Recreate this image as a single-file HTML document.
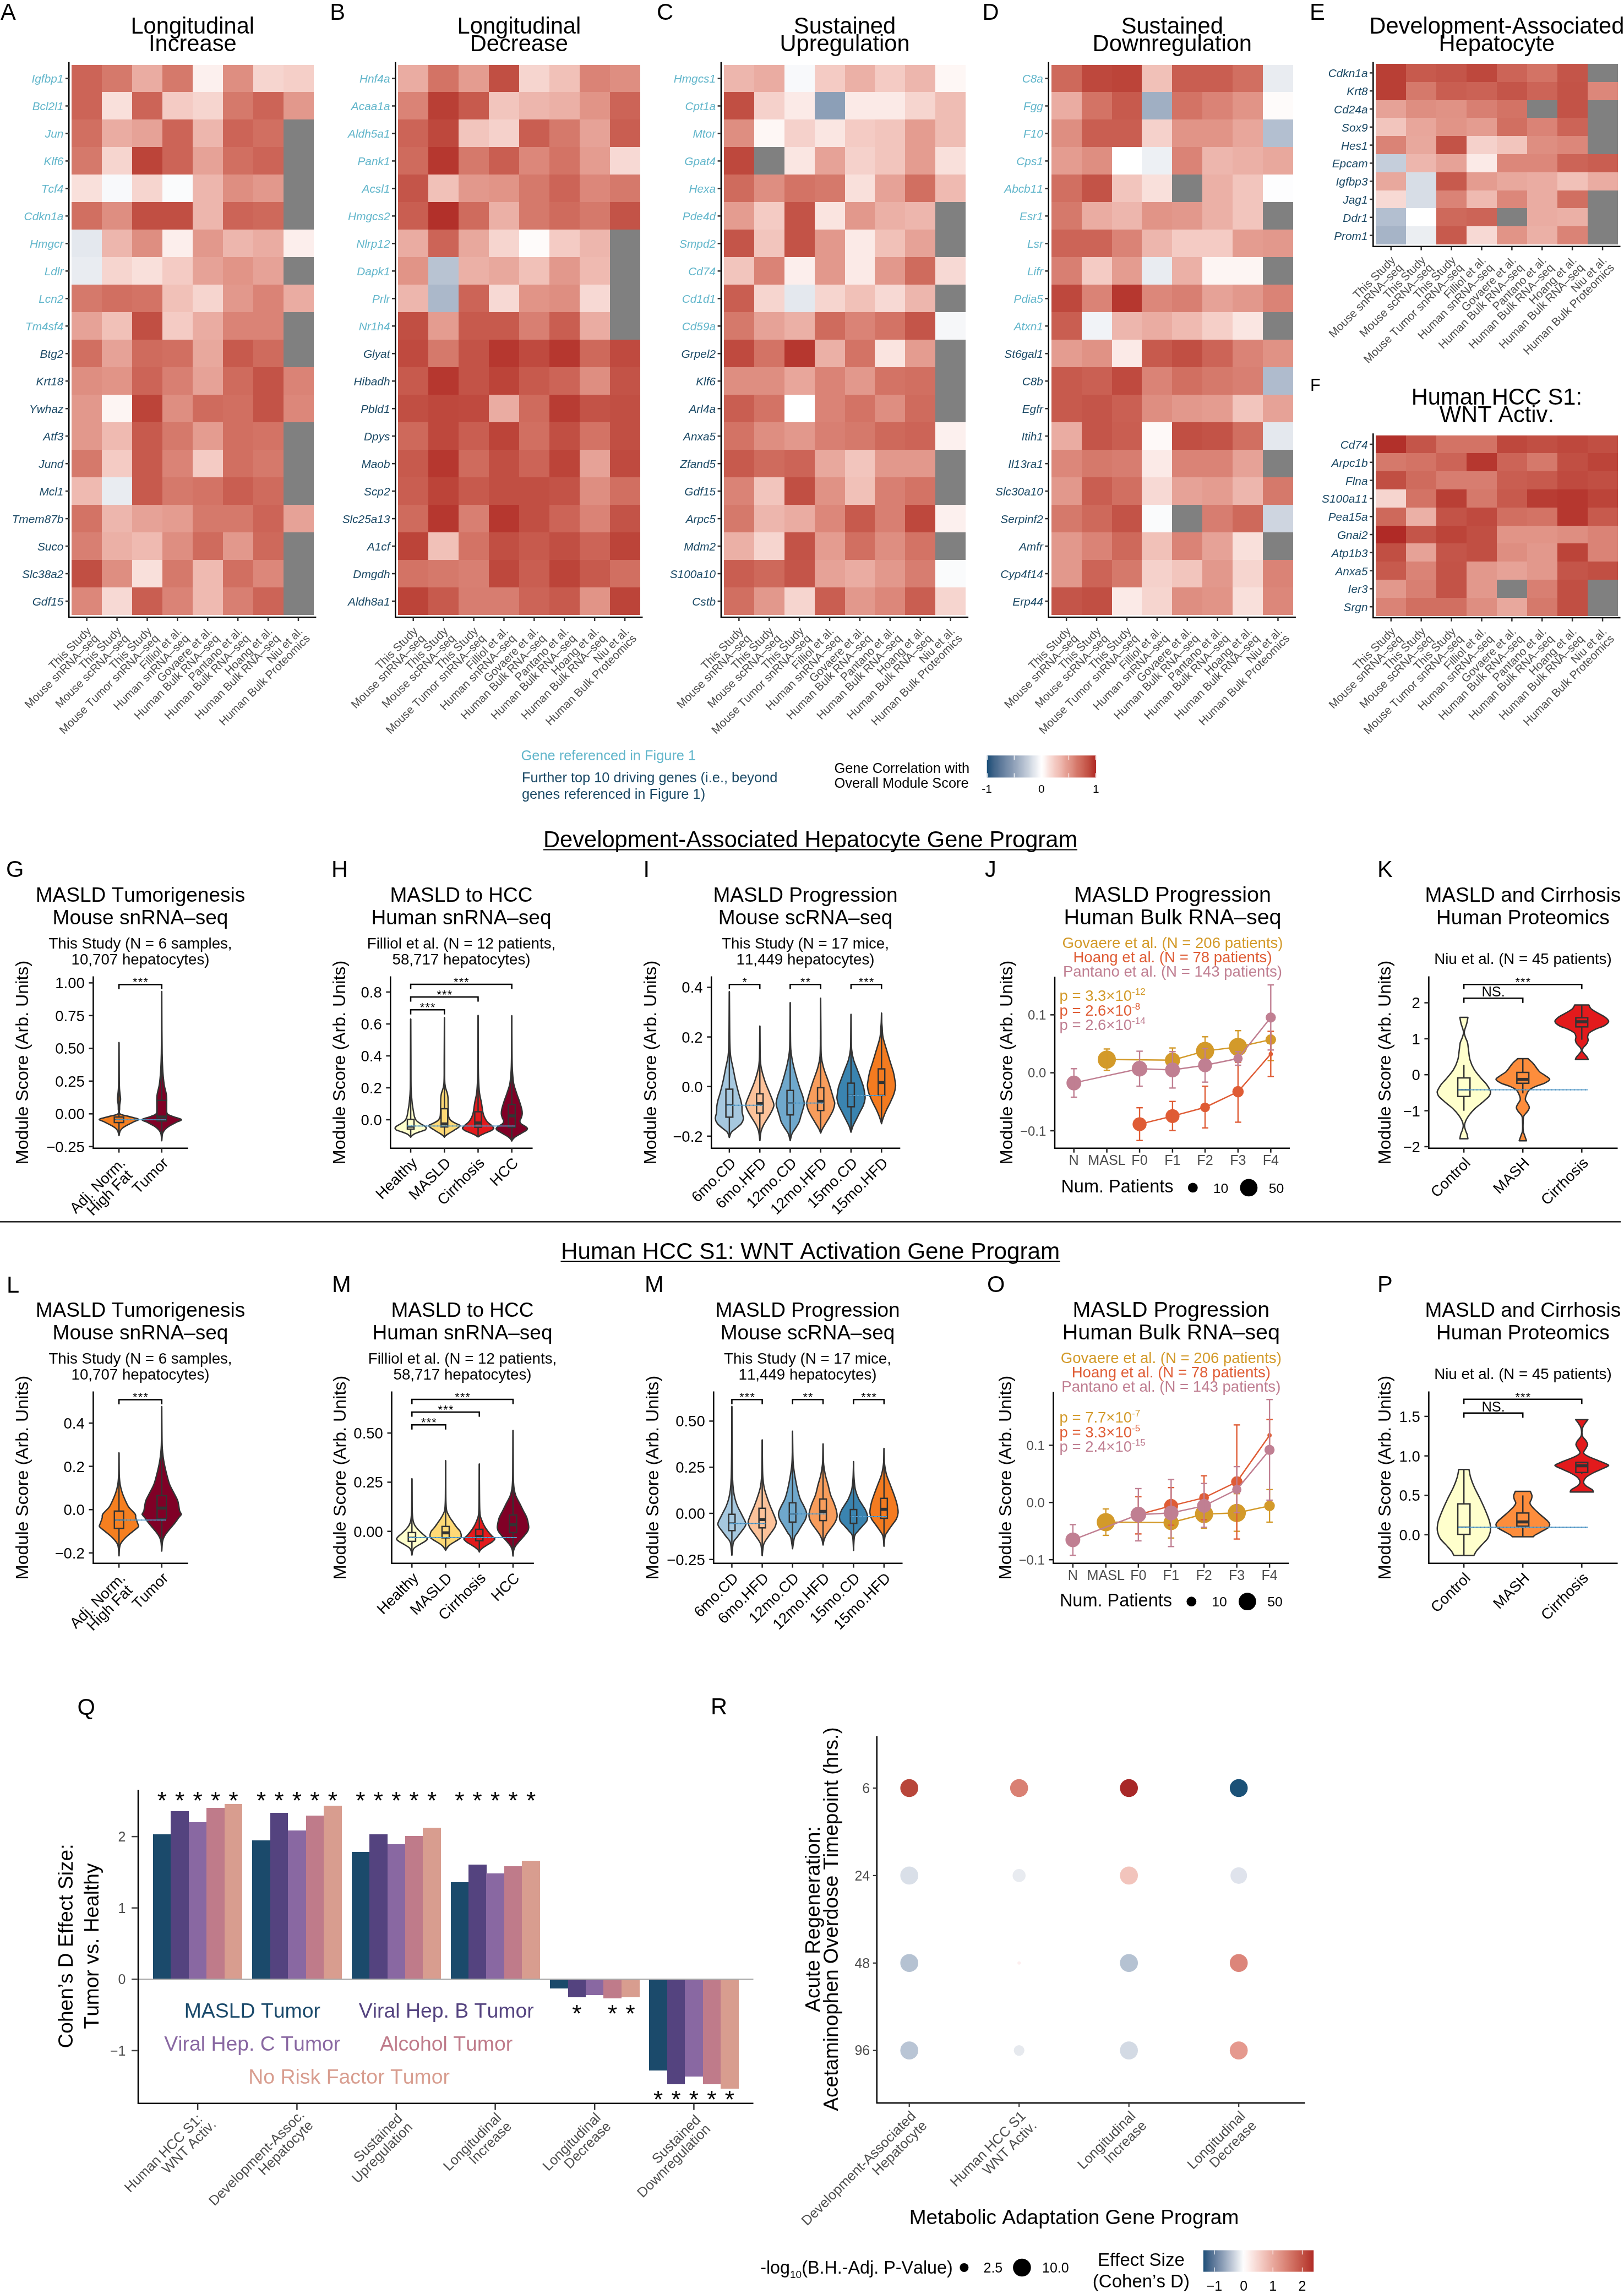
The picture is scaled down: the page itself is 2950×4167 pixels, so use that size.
<!DOCTYPE html>
<html><head><meta charset="utf-8"><title>Figure</title>
<style>
html,body{margin:0;padding:0;background:#fff;}
body{width:2950px;height:4167px;overflow:hidden;}
svg{display:block;font-family:"Liberation Sans",sans-serif;will-change:transform;font-kerning:none;}
</style></head><body>
<svg width="2950" height="4167" viewBox="0 0 2950 4167">
<rect width="2950" height="4167" fill="#fff"/>
<g shape-rendering="crispEdges">
<rect x="130.2" y="117.5" width="55.2" height="50.27" fill="#cc6457"/>
<rect x="185.1" y="117.5" width="55.2" height="50.27" fill="#d5796b"/>
<rect x="240" y="117.5" width="55.2" height="50.27" fill="#eaaca2"/>
<rect x="294.9" y="117.5" width="55.2" height="50.27" fill="#d5796b"/>
<rect x="349.8" y="117.5" width="55.2" height="50.27" fill="#fcf0ee"/>
<rect x="404.7" y="117.5" width="55.2" height="50.27" fill="#de8e81"/>
<rect x="459.6" y="117.5" width="55.2" height="50.27" fill="#f6d5cf"/>
<rect x="514.5" y="117.5" width="55.2" height="50.27" fill="#f5cfc8"/>
<rect x="130.2" y="167.47" width="55.2" height="50.27" fill="#cc6457"/>
<rect x="185.1" y="167.47" width="55.2" height="50.27" fill="#f9e0db"/>
<rect x="240" y="167.47" width="55.2" height="50.27" fill="#cc6457"/>
<rect x="294.9" y="167.47" width="55.2" height="50.27" fill="#f4cbc4"/>
<rect x="349.8" y="167.47" width="55.2" height="50.27" fill="#f6d5cf"/>
<rect x="404.7" y="167.47" width="55.2" height="50.27" fill="#d5796b"/>
<rect x="459.6" y="167.47" width="55.2" height="50.27" fill="#cc6457"/>
<rect x="514.5" y="167.47" width="55.2" height="50.27" fill="#e2988c"/>
<rect x="130.2" y="217.45" width="55.2" height="50.28" fill="#d16f61"/>
<rect x="185.1" y="217.45" width="55.2" height="50.28" fill="#eaaca2"/>
<rect x="240" y="217.45" width="55.2" height="50.28" fill="#e6a297"/>
<rect x="294.9" y="217.45" width="55.2" height="50.28" fill="#cc6457"/>
<rect x="349.8" y="217.45" width="55.2" height="50.28" fill="#edb6ad"/>
<rect x="404.7" y="217.45" width="55.2" height="50.28" fill="#cc6457"/>
<rect x="459.6" y="217.45" width="55.2" height="50.28" fill="#d16f61"/>
<rect x="514.5" y="217.45" width="55.2" height="50.28" fill="#808080"/>
<rect x="130.2" y="267.43" width="55.2" height="50.27" fill="#d5796b"/>
<rect x="185.1" y="267.43" width="55.2" height="50.27" fill="#f6d5cf"/>
<rect x="240" y="267.43" width="55.2" height="50.27" fill="#bc4439"/>
<rect x="294.9" y="267.43" width="55.2" height="50.27" fill="#cc6457"/>
<rect x="349.8" y="267.43" width="55.2" height="50.27" fill="#e6a297"/>
<rect x="404.7" y="267.43" width="55.2" height="50.27" fill="#d16f61"/>
<rect x="459.6" y="267.43" width="55.2" height="50.27" fill="#cc6457"/>
<rect x="514.5" y="267.43" width="55.2" height="50.27" fill="#808080"/>
<rect x="130.2" y="317.4" width="55.2" height="50.28" fill="#f9e0db"/>
<rect x="185.1" y="317.4" width="55.2" height="50.28" fill="#f8f9fb"/>
<rect x="240" y="317.4" width="55.2" height="50.28" fill="#f6d5cf"/>
<rect x="294.9" y="317.4" width="55.2" height="50.28" fill="#fafbfc"/>
<rect x="349.8" y="317.4" width="55.2" height="50.28" fill="#edb6ad"/>
<rect x="404.7" y="317.4" width="55.2" height="50.28" fill="#de8e81"/>
<rect x="459.6" y="317.4" width="55.2" height="50.28" fill="#e2988c"/>
<rect x="514.5" y="317.4" width="55.2" height="50.28" fill="#808080"/>
<rect x="130.2" y="367.38" width="55.2" height="50.28" fill="#d16f61"/>
<rect x="185.1" y="367.38" width="55.2" height="50.28" fill="#de8e81"/>
<rect x="240" y="367.38" width="55.2" height="50.28" fill="#c14f43"/>
<rect x="294.9" y="367.38" width="55.2" height="50.28" fill="#c14f43"/>
<rect x="349.8" y="367.38" width="55.2" height="50.28" fill="#edb6ad"/>
<rect x="404.7" y="367.38" width="55.2" height="50.28" fill="#cc6457"/>
<rect x="459.6" y="367.38" width="55.2" height="50.28" fill="#ce695b"/>
<rect x="514.5" y="367.38" width="55.2" height="50.28" fill="#808080"/>
<rect x="130.2" y="417.35" width="55.2" height="50.27" fill="#e4e8ee"/>
<rect x="185.1" y="417.35" width="55.2" height="50.27" fill="#edb6ad"/>
<rect x="240" y="417.35" width="55.2" height="50.27" fill="#de8e81"/>
<rect x="294.9" y="417.35" width="55.2" height="50.27" fill="#fceeec"/>
<rect x="349.8" y="417.35" width="55.2" height="50.27" fill="#e2988c"/>
<rect x="404.7" y="417.35" width="55.2" height="50.27" fill="#edb6ad"/>
<rect x="459.6" y="417.35" width="55.2" height="50.27" fill="#eaaca2"/>
<rect x="514.5" y="417.35" width="55.2" height="50.27" fill="#fceeec"/>
<rect x="130.2" y="467.32" width="55.2" height="50.27" fill="#e9ecf1"/>
<rect x="185.1" y="467.32" width="55.2" height="50.27" fill="#f6d5cf"/>
<rect x="240" y="467.32" width="55.2" height="50.27" fill="#f9e0db"/>
<rect x="294.9" y="467.32" width="55.2" height="50.27" fill="#f4cbc4"/>
<rect x="349.8" y="467.32" width="55.2" height="50.27" fill="#e6a297"/>
<rect x="404.7" y="467.32" width="55.2" height="50.27" fill="#e19487"/>
<rect x="459.6" y="467.32" width="55.2" height="50.27" fill="#e6a297"/>
<rect x="514.5" y="467.32" width="55.2" height="50.27" fill="#808080"/>
<rect x="130.2" y="517.3" width="55.2" height="50.28" fill="#d5796b"/>
<rect x="185.1" y="517.3" width="55.2" height="50.28" fill="#d16f61"/>
<rect x="240" y="517.3" width="55.2" height="50.28" fill="#d37365"/>
<rect x="294.9" y="517.3" width="55.2" height="50.28" fill="#f1c1b8"/>
<rect x="349.8" y="517.3" width="55.2" height="50.28" fill="#f6d5cf"/>
<rect x="404.7" y="517.3" width="55.2" height="50.28" fill="#e2988c"/>
<rect x="459.6" y="517.3" width="55.2" height="50.28" fill="#da8376"/>
<rect x="514.5" y="517.3" width="55.2" height="50.28" fill="#eaaca2"/>
<rect x="130.2" y="567.28" width="55.2" height="50.27" fill="#e6a297"/>
<rect x="185.1" y="567.28" width="55.2" height="50.27" fill="#f1c1b8"/>
<rect x="240" y="567.28" width="55.2" height="50.27" fill="#c14f43"/>
<rect x="294.9" y="567.28" width="55.2" height="50.27" fill="#f4cbc4"/>
<rect x="349.8" y="567.28" width="55.2" height="50.27" fill="#eaaca2"/>
<rect x="404.7" y="567.28" width="55.2" height="50.27" fill="#da8376"/>
<rect x="459.6" y="567.28" width="55.2" height="50.27" fill="#da8376"/>
<rect x="514.5" y="567.28" width="55.2" height="50.27" fill="#808080"/>
<rect x="130.2" y="617.25" width="55.2" height="50.28" fill="#d16f61"/>
<rect x="185.1" y="617.25" width="55.2" height="50.28" fill="#e6a297"/>
<rect x="240" y="617.25" width="55.2" height="50.28" fill="#cf6b5d"/>
<rect x="294.9" y="617.25" width="55.2" height="50.28" fill="#d16f61"/>
<rect x="349.8" y="617.25" width="55.2" height="50.28" fill="#e8a89d"/>
<rect x="404.7" y="617.25" width="55.2" height="50.28" fill="#c75a4d"/>
<rect x="459.6" y="617.25" width="55.2" height="50.28" fill="#cf6b5d"/>
<rect x="514.5" y="617.25" width="55.2" height="50.28" fill="#808080"/>
<rect x="130.2" y="667.23" width="55.2" height="50.28" fill="#de8e81"/>
<rect x="185.1" y="667.23" width="55.2" height="50.28" fill="#e19487"/>
<rect x="240" y="667.23" width="55.2" height="50.28" fill="#cc6457"/>
<rect x="294.9" y="667.23" width="55.2" height="50.28" fill="#d87f72"/>
<rect x="349.8" y="667.23" width="55.2" height="50.28" fill="#e6a297"/>
<rect x="404.7" y="667.23" width="55.2" height="50.28" fill="#cf6b5d"/>
<rect x="459.6" y="667.23" width="55.2" height="50.28" fill="#c35347"/>
<rect x="514.5" y="667.23" width="55.2" height="50.28" fill="#da8376"/>
<rect x="130.2" y="717.2" width="55.2" height="50.28" fill="#e2988c"/>
<rect x="185.1" y="717.2" width="55.2" height="50.28" fill="#fdf5f3"/>
<rect x="240" y="717.2" width="55.2" height="50.28" fill="#bc4439"/>
<rect x="294.9" y="717.2" width="55.2" height="50.28" fill="#de8e81"/>
<rect x="349.8" y="717.2" width="55.2" height="50.28" fill="#cf6b5d"/>
<rect x="404.7" y="717.2" width="55.2" height="50.28" fill="#d16f61"/>
<rect x="459.6" y="717.2" width="55.2" height="50.28" fill="#c35347"/>
<rect x="514.5" y="717.2" width="55.2" height="50.28" fill="#dc877a"/>
<rect x="130.2" y="767.18" width="55.2" height="50.27" fill="#e2988c"/>
<rect x="185.1" y="767.18" width="55.2" height="50.27" fill="#efbab1"/>
<rect x="240" y="767.18" width="55.2" height="50.27" fill="#c75a4d"/>
<rect x="294.9" y="767.18" width="55.2" height="50.27" fill="#d5796b"/>
<rect x="349.8" y="767.18" width="55.2" height="50.27" fill="#e49c90"/>
<rect x="404.7" y="767.18" width="55.2" height="50.27" fill="#d16f61"/>
<rect x="459.6" y="767.18" width="55.2" height="50.27" fill="#d37365"/>
<rect x="514.5" y="767.18" width="55.2" height="50.27" fill="#808080"/>
<rect x="130.2" y="817.15" width="55.2" height="50.28" fill="#d5796b"/>
<rect x="185.1" y="817.15" width="55.2" height="50.28" fill="#f4cbc4"/>
<rect x="240" y="817.15" width="55.2" height="50.28" fill="#c75a4d"/>
<rect x="294.9" y="817.15" width="55.2" height="50.28" fill="#da8376"/>
<rect x="349.8" y="817.15" width="55.2" height="50.28" fill="#f4cbc4"/>
<rect x="404.7" y="817.15" width="55.2" height="50.28" fill="#d16f61"/>
<rect x="459.6" y="817.15" width="55.2" height="50.28" fill="#d5796b"/>
<rect x="514.5" y="817.15" width="55.2" height="50.28" fill="#808080"/>
<rect x="130.2" y="867.12" width="55.2" height="50.28" fill="#efbab1"/>
<rect x="185.1" y="867.12" width="55.2" height="50.28" fill="#e9ecf1"/>
<rect x="240" y="867.12" width="55.2" height="50.28" fill="#c75a4d"/>
<rect x="294.9" y="867.12" width="55.2" height="50.28" fill="#d5796b"/>
<rect x="349.8" y="867.12" width="55.2" height="50.28" fill="#d37365"/>
<rect x="404.7" y="867.12" width="55.2" height="50.28" fill="#c95e51"/>
<rect x="459.6" y="867.12" width="55.2" height="50.28" fill="#cf6b5d"/>
<rect x="514.5" y="867.12" width="55.2" height="50.28" fill="#808080"/>
<rect x="130.2" y="917.1" width="55.2" height="50.28" fill="#d37365"/>
<rect x="185.1" y="917.1" width="55.2" height="50.28" fill="#edb6ad"/>
<rect x="240" y="917.1" width="55.2" height="50.28" fill="#e6a297"/>
<rect x="294.9" y="917.1" width="55.2" height="50.28" fill="#e49c90"/>
<rect x="349.8" y="917.1" width="55.2" height="50.28" fill="#d5796b"/>
<rect x="404.7" y="917.1" width="55.2" height="50.28" fill="#d5796b"/>
<rect x="459.6" y="917.1" width="55.2" height="50.28" fill="#cc6457"/>
<rect x="514.5" y="917.1" width="55.2" height="50.28" fill="#e6a297"/>
<rect x="130.2" y="967.08" width="55.2" height="50.28" fill="#d87f72"/>
<rect x="185.1" y="967.08" width="55.2" height="50.28" fill="#ebb0a6"/>
<rect x="240" y="967.08" width="55.2" height="50.28" fill="#efbab1"/>
<rect x="294.9" y="967.08" width="55.2" height="50.28" fill="#de8e81"/>
<rect x="349.8" y="967.08" width="55.2" height="50.28" fill="#cf6b5d"/>
<rect x="404.7" y="967.08" width="55.2" height="50.28" fill="#e2988c"/>
<rect x="459.6" y="967.08" width="55.2" height="50.28" fill="#ce695b"/>
<rect x="514.5" y="967.08" width="55.2" height="50.28" fill="#808080"/>
<rect x="130.2" y="1017.05" width="55.2" height="50.28" fill="#c14f43"/>
<rect x="185.1" y="1017.05" width="55.2" height="50.28" fill="#de8e81"/>
<rect x="240" y="1017.05" width="55.2" height="50.28" fill="#f9e0db"/>
<rect x="294.9" y="1017.05" width="55.2" height="50.28" fill="#d5796b"/>
<rect x="349.8" y="1017.05" width="55.2" height="50.28" fill="#efbab1"/>
<rect x="404.7" y="1017.05" width="55.2" height="50.28" fill="#d16f61"/>
<rect x="459.6" y="1017.05" width="55.2" height="50.28" fill="#dc877a"/>
<rect x="514.5" y="1017.05" width="55.2" height="50.28" fill="#808080"/>
<rect x="130.2" y="1067.03" width="55.2" height="50.27" fill="#dc877a"/>
<rect x="185.1" y="1067.03" width="55.2" height="50.27" fill="#f7d9d4"/>
<rect x="240" y="1067.03" width="55.2" height="50.27" fill="#c95e51"/>
<rect x="294.9" y="1067.03" width="55.2" height="50.27" fill="#da8376"/>
<rect x="349.8" y="1067.03" width="55.2" height="50.27" fill="#efbab1"/>
<rect x="404.7" y="1067.03" width="55.2" height="50.27" fill="#d87f72"/>
<rect x="459.6" y="1067.03" width="55.2" height="50.27" fill="#cc6457"/>
<rect x="514.5" y="1067.03" width="55.2" height="50.27" fill="#808080"/>
</g>
<path d="M125.2 112.7 V1121.3 H574.4" fill="none" stroke="#000" stroke-width="2.5"/>
<line x1="118.9" y1="142.49" x2="125.2" y2="142.49" stroke="#333" stroke-width="2.5"/>
<text x="115.4" y="150.49" text-anchor="end" font-style="italic" fill="#62b6cb" font-size="20.83">Igfbp1</text>
<line x1="118.9" y1="192.46" x2="125.2" y2="192.46" stroke="#333" stroke-width="2.5"/>
<text x="115.4" y="200.46" text-anchor="end" font-style="italic" fill="#62b6cb" font-size="20.83">Bcl2l1</text>
<line x1="118.9" y1="242.44" x2="125.2" y2="242.44" stroke="#333" stroke-width="2.5"/>
<text x="115.4" y="250.44" text-anchor="end" font-style="italic" fill="#62b6cb" font-size="20.83">Jun</text>
<line x1="118.9" y1="292.41" x2="125.2" y2="292.41" stroke="#333" stroke-width="2.5"/>
<text x="115.4" y="300.41" text-anchor="end" font-style="italic" fill="#62b6cb" font-size="20.83">Klf6</text>
<line x1="118.9" y1="342.39" x2="125.2" y2="342.39" stroke="#333" stroke-width="2.5"/>
<text x="115.4" y="350.39" text-anchor="end" font-style="italic" fill="#62b6cb" font-size="20.83">Tcf4</text>
<line x1="118.9" y1="392.36" x2="125.2" y2="392.36" stroke="#333" stroke-width="2.5"/>
<text x="115.4" y="400.36" text-anchor="end" font-style="italic" fill="#62b6cb" font-size="20.83">Cdkn1a</text>
<line x1="118.9" y1="442.34" x2="125.2" y2="442.34" stroke="#333" stroke-width="2.5"/>
<text x="115.4" y="450.34" text-anchor="end" font-style="italic" fill="#62b6cb" font-size="20.83">Hmgcr</text>
<line x1="118.9" y1="492.31" x2="125.2" y2="492.31" stroke="#333" stroke-width="2.5"/>
<text x="115.4" y="500.31" text-anchor="end" font-style="italic" fill="#62b6cb" font-size="20.83">Ldlr</text>
<line x1="118.9" y1="542.29" x2="125.2" y2="542.29" stroke="#333" stroke-width="2.5"/>
<text x="115.4" y="550.29" text-anchor="end" font-style="italic" fill="#62b6cb" font-size="20.83">Lcn2</text>
<line x1="118.9" y1="592.26" x2="125.2" y2="592.26" stroke="#333" stroke-width="2.5"/>
<text x="115.4" y="600.26" text-anchor="end" font-style="italic" fill="#62b6cb" font-size="20.83">Tm4sf4</text>
<line x1="118.9" y1="642.24" x2="125.2" y2="642.24" stroke="#333" stroke-width="2.5"/>
<text x="115.4" y="650.24" text-anchor="end" font-style="italic" fill="#1b4965" font-size="20.83">Btg2</text>
<line x1="118.9" y1="692.21" x2="125.2" y2="692.21" stroke="#333" stroke-width="2.5"/>
<text x="115.4" y="700.21" text-anchor="end" font-style="italic" fill="#1b4965" font-size="20.83">Krt18</text>
<line x1="118.9" y1="742.19" x2="125.2" y2="742.19" stroke="#333" stroke-width="2.5"/>
<text x="115.4" y="750.19" text-anchor="end" font-style="italic" fill="#1b4965" font-size="20.83">Ywhaz</text>
<line x1="118.9" y1="792.16" x2="125.2" y2="792.16" stroke="#333" stroke-width="2.5"/>
<text x="115.4" y="800.16" text-anchor="end" font-style="italic" fill="#1b4965" font-size="20.83">Atf3</text>
<line x1="118.9" y1="842.14" x2="125.2" y2="842.14" stroke="#333" stroke-width="2.5"/>
<text x="115.4" y="850.14" text-anchor="end" font-style="italic" fill="#1b4965" font-size="20.83">Jund</text>
<line x1="118.9" y1="892.11" x2="125.2" y2="892.11" stroke="#333" stroke-width="2.5"/>
<text x="115.4" y="900.11" text-anchor="end" font-style="italic" fill="#1b4965" font-size="20.83">Mcl1</text>
<line x1="118.9" y1="942.09" x2="125.2" y2="942.09" stroke="#333" stroke-width="2.5"/>
<text x="115.4" y="950.09" text-anchor="end" font-style="italic" fill="#1b4965" font-size="20.83">Tmem87b</text>
<line x1="118.9" y1="992.06" x2="125.2" y2="992.06" stroke="#333" stroke-width="2.5"/>
<text x="115.4" y="1000.06" text-anchor="end" font-style="italic" fill="#1b4965" font-size="20.83">Suco</text>
<line x1="118.9" y1="1042.04" x2="125.2" y2="1042.04" stroke="#333" stroke-width="2.5"/>
<text x="115.4" y="1050.04" text-anchor="end" font-style="italic" fill="#1b4965" font-size="20.83">Slc38a2</text>
<line x1="118.9" y1="1092.01" x2="125.2" y2="1092.01" stroke="#333" stroke-width="2.5"/>
<text x="115.4" y="1100.01" text-anchor="end" font-style="italic" fill="#1b4965" font-size="20.83">Gdf15</text>
<line x1="157.65" y1="1121.3" x2="157.65" y2="1128.1" stroke="#333" stroke-width="2.5"/>
<g transform="translate(155.45,1136.4) rotate(-45)" fill="#4d4d4d" font-size="20.83" text-anchor="end"><text x="0" y="16">This Study</text><text x="0" y="34.8">Mouse snRNA–seq</text></g>
<line x1="212.55" y1="1121.3" x2="212.55" y2="1128.1" stroke="#333" stroke-width="2.5"/>
<g transform="translate(210.35,1136.4) rotate(-45)" fill="#4d4d4d" font-size="20.83" text-anchor="end"><text x="0" y="16">This Study</text><text x="0" y="34.8">Mouse scRNA–seq</text></g>
<line x1="267.45" y1="1121.3" x2="267.45" y2="1128.1" stroke="#333" stroke-width="2.5"/>
<g transform="translate(265.25,1136.4) rotate(-45)" fill="#4d4d4d" font-size="20.83" text-anchor="end"><text x="0" y="16">This Study</text><text x="0" y="34.8">Mouse Tumor snRNA–seq</text></g>
<line x1="322.35" y1="1121.3" x2="322.35" y2="1128.1" stroke="#333" stroke-width="2.5"/>
<g transform="translate(320.15,1136.4) rotate(-45)" fill="#4d4d4d" font-size="20.83" text-anchor="end"><text x="0" y="16">Filliol et al.</text><text x="0" y="34.8">Human snRNA–seq</text></g>
<line x1="377.25" y1="1121.3" x2="377.25" y2="1128.1" stroke="#333" stroke-width="2.5"/>
<g transform="translate(375.05,1136.4) rotate(-45)" fill="#4d4d4d" font-size="20.83" text-anchor="end"><text x="0" y="16">Govaere et al.</text><text x="0" y="34.8">Human Bulk RNA–seq</text></g>
<line x1="432.15" y1="1121.3" x2="432.15" y2="1128.1" stroke="#333" stroke-width="2.5"/>
<g transform="translate(429.95,1136.4) rotate(-45)" fill="#4d4d4d" font-size="20.83" text-anchor="end"><text x="0" y="16">Pantano et al.</text><text x="0" y="34.8">Human Bulk RNA–seq</text></g>
<line x1="487.05" y1="1121.3" x2="487.05" y2="1128.1" stroke="#333" stroke-width="2.5"/>
<g transform="translate(484.85,1136.4) rotate(-45)" fill="#4d4d4d" font-size="20.83" text-anchor="end"><text x="0" y="16">Hoang et al.</text><text x="0" y="34.8">Human Bulk RNA–seq</text></g>
<line x1="541.95" y1="1121.3" x2="541.95" y2="1128.1" stroke="#333" stroke-width="2.5"/>
<g transform="translate(539.75,1136.4) rotate(-45)" fill="#4d4d4d" font-size="20.83" text-anchor="end"><text x="0" y="16">Niu et al.</text><text x="0" y="34.8">Human Bulk Proteomics</text></g>
<text x="349.8" y="60.5" text-anchor="middle" font-size="41.67">Longitudinal</text>
<text x="349.8" y="93" text-anchor="middle" font-size="41.67">Increase</text>
<text x="1" y="35.5" font-size="41.67">A</text>
<g shape-rendering="crispEdges">
<rect x="723.3" y="117.5" width="55.2" height="50.27" fill="#eaaca2"/>
<rect x="778.2" y="117.5" width="55.2" height="50.27" fill="#d37365"/>
<rect x="833.1" y="117.5" width="55.2" height="50.27" fill="#e49c90"/>
<rect x="888" y="117.5" width="55.2" height="50.27" fill="#c14f43"/>
<rect x="942.9" y="117.5" width="55.2" height="50.27" fill="#f6d5cf"/>
<rect x="997.8" y="117.5" width="55.2" height="50.27" fill="#f1c1b8"/>
<rect x="1052.7" y="117.5" width="55.2" height="50.27" fill="#da8376"/>
<rect x="1107.6" y="117.5" width="55.2" height="50.27" fill="#de8e81"/>
<rect x="723.3" y="167.47" width="55.2" height="50.27" fill="#da8376"/>
<rect x="778.2" y="167.47" width="55.2" height="50.27" fill="#b93f35"/>
<rect x="833.1" y="167.47" width="55.2" height="50.27" fill="#c75a4d"/>
<rect x="888" y="167.47" width="55.2" height="50.27" fill="#f2c5bd"/>
<rect x="942.9" y="167.47" width="55.2" height="50.27" fill="#edb6ad"/>
<rect x="997.8" y="167.47" width="55.2" height="50.27" fill="#ebb0a6"/>
<rect x="1052.7" y="167.47" width="55.2" height="50.27" fill="#e19487"/>
<rect x="1107.6" y="167.47" width="55.2" height="50.27" fill="#cc6457"/>
<rect x="723.3" y="217.45" width="55.2" height="50.28" fill="#cc6457"/>
<rect x="778.2" y="217.45" width="55.2" height="50.28" fill="#be483d"/>
<rect x="833.1" y="217.45" width="55.2" height="50.28" fill="#f2c5bd"/>
<rect x="888" y="217.45" width="55.2" height="50.28" fill="#f5d1cb"/>
<rect x="942.9" y="217.45" width="55.2" height="50.28" fill="#c95e51"/>
<rect x="997.8" y="217.45" width="55.2" height="50.28" fill="#d5796b"/>
<rect x="1052.7" y="217.45" width="55.2" height="50.28" fill="#e6a297"/>
<rect x="1107.6" y="217.45" width="55.2" height="50.28" fill="#c95e51"/>
<rect x="723.3" y="267.43" width="55.2" height="50.27" fill="#cf6b5d"/>
<rect x="778.2" y="267.43" width="55.2" height="50.27" fill="#b6372f"/>
<rect x="833.1" y="267.43" width="55.2" height="50.27" fill="#d5796b"/>
<rect x="888" y="267.43" width="55.2" height="50.27" fill="#c95e51"/>
<rect x="942.9" y="267.43" width="55.2" height="50.27" fill="#dc877a"/>
<rect x="997.8" y="267.43" width="55.2" height="50.27" fill="#d37365"/>
<rect x="1052.7" y="267.43" width="55.2" height="50.27" fill="#e49c90"/>
<rect x="1107.6" y="267.43" width="55.2" height="50.27" fill="#f7d9d4"/>
<rect x="723.3" y="317.4" width="55.2" height="50.28" fill="#c45549"/>
<rect x="778.2" y="317.4" width="55.2" height="50.28" fill="#f1c1b8"/>
<rect x="833.1" y="317.4" width="55.2" height="50.28" fill="#e2988c"/>
<rect x="888" y="317.4" width="55.2" height="50.28" fill="#e19487"/>
<rect x="942.9" y="317.4" width="55.2" height="50.28" fill="#d5796b"/>
<rect x="997.8" y="317.4" width="55.2" height="50.28" fill="#cc6457"/>
<rect x="1052.7" y="317.4" width="55.2" height="50.28" fill="#dc877a"/>
<rect x="1107.6" y="317.4" width="55.2" height="50.28" fill="#d5796b"/>
<rect x="723.3" y="367.38" width="55.2" height="50.28" fill="#c95e51"/>
<rect x="778.2" y="367.38" width="55.2" height="50.28" fill="#b2302a"/>
<rect x="833.1" y="367.38" width="55.2" height="50.28" fill="#cf6b5d"/>
<rect x="888" y="367.38" width="55.2" height="50.28" fill="#ebb0a6"/>
<rect x="942.9" y="367.38" width="55.2" height="50.28" fill="#d5796b"/>
<rect x="997.8" y="367.38" width="55.2" height="50.28" fill="#cf6b5d"/>
<rect x="1052.7" y="367.38" width="55.2" height="50.28" fill="#d5796b"/>
<rect x="1107.6" y="367.38" width="55.2" height="50.28" fill="#c35347"/>
<rect x="723.3" y="417.35" width="55.2" height="50.27" fill="#eaaca2"/>
<rect x="778.2" y="417.35" width="55.2" height="50.27" fill="#cc6457"/>
<rect x="833.1" y="417.35" width="55.2" height="50.27" fill="#e8a89d"/>
<rect x="888" y="417.35" width="55.2" height="50.27" fill="#f6d5cf"/>
<rect x="942.9" y="417.35" width="55.2" height="50.27" fill="#fefbfa"/>
<rect x="997.8" y="417.35" width="55.2" height="50.27" fill="#f4cbc4"/>
<rect x="1052.7" y="417.35" width="55.2" height="50.27" fill="#edb6ad"/>
<rect x="1107.6" y="417.35" width="55.2" height="50.27" fill="#808080"/>
<rect x="723.3" y="467.32" width="55.2" height="50.27" fill="#e19487"/>
<rect x="778.2" y="467.32" width="55.2" height="50.27" fill="#b8c3d2"/>
<rect x="833.1" y="467.32" width="55.2" height="50.27" fill="#ebb0a6"/>
<rect x="888" y="467.32" width="55.2" height="50.27" fill="#e8a89d"/>
<rect x="942.9" y="467.32" width="55.2" height="50.27" fill="#f1c1b8"/>
<rect x="997.8" y="467.32" width="55.2" height="50.27" fill="#e2988c"/>
<rect x="1052.7" y="467.32" width="55.2" height="50.27" fill="#efbab1"/>
<rect x="1107.6" y="467.32" width="55.2" height="50.27" fill="#808080"/>
<rect x="723.3" y="517.3" width="55.2" height="50.28" fill="#edb6ad"/>
<rect x="778.2" y="517.3" width="55.2" height="50.28" fill="#abb8ca"/>
<rect x="833.1" y="517.3" width="55.2" height="50.28" fill="#cc6457"/>
<rect x="888" y="517.3" width="55.2" height="50.28" fill="#f7d9d4"/>
<rect x="942.9" y="517.3" width="55.2" height="50.28" fill="#e19487"/>
<rect x="997.8" y="517.3" width="55.2" height="50.28" fill="#de8e81"/>
<rect x="1052.7" y="517.3" width="55.2" height="50.28" fill="#f7d9d4"/>
<rect x="1107.6" y="517.3" width="55.2" height="50.28" fill="#808080"/>
<rect x="723.3" y="567.28" width="55.2" height="50.27" fill="#c14f43"/>
<rect x="778.2" y="567.28" width="55.2" height="50.27" fill="#e49c90"/>
<rect x="833.1" y="567.28" width="55.2" height="50.27" fill="#c75a4d"/>
<rect x="888" y="567.28" width="55.2" height="50.27" fill="#c75a4d"/>
<rect x="942.9" y="567.28" width="55.2" height="50.27" fill="#d87f72"/>
<rect x="997.8" y="567.28" width="55.2" height="50.27" fill="#c95e51"/>
<rect x="1052.7" y="567.28" width="55.2" height="50.27" fill="#eaaca2"/>
<rect x="1107.6" y="567.28" width="55.2" height="50.27" fill="#808080"/>
<rect x="723.3" y="617.25" width="55.2" height="50.28" fill="#bf4a3f"/>
<rect x="778.2" y="617.25" width="55.2" height="50.28" fill="#d5796b"/>
<rect x="833.1" y="617.25" width="55.2" height="50.28" fill="#c35347"/>
<rect x="888" y="617.25" width="55.2" height="50.28" fill="#b6372f"/>
<rect x="942.9" y="617.25" width="55.2" height="50.28" fill="#bf4a3f"/>
<rect x="997.8" y="617.25" width="55.2" height="50.28" fill="#b6372f"/>
<rect x="1052.7" y="617.25" width="55.2" height="50.28" fill="#ce695b"/>
<rect x="1107.6" y="617.25" width="55.2" height="50.28" fill="#bf4a3f"/>
<rect x="723.3" y="667.23" width="55.2" height="50.28" fill="#c75a4d"/>
<rect x="778.2" y="667.23" width="55.2" height="50.28" fill="#b6372f"/>
<rect x="833.1" y="667.23" width="55.2" height="50.28" fill="#c35347"/>
<rect x="888" y="667.23" width="55.2" height="50.28" fill="#bc4439"/>
<rect x="942.9" y="667.23" width="55.2" height="50.28" fill="#c75a4d"/>
<rect x="997.8" y="667.23" width="55.2" height="50.28" fill="#cc6457"/>
<rect x="1052.7" y="667.23" width="55.2" height="50.28" fill="#de8e81"/>
<rect x="1107.6" y="667.23" width="55.2" height="50.28" fill="#c35347"/>
<rect x="723.3" y="717.2" width="55.2" height="50.28" fill="#c14f43"/>
<rect x="778.2" y="717.2" width="55.2" height="50.28" fill="#be483d"/>
<rect x="833.1" y="717.2" width="55.2" height="50.28" fill="#bf4a3f"/>
<rect x="888" y="717.2" width="55.2" height="50.28" fill="#eaaca2"/>
<rect x="942.9" y="717.2" width="55.2" height="50.28" fill="#cf6b5d"/>
<rect x="997.8" y="717.2" width="55.2" height="50.28" fill="#b83c33"/>
<rect x="1052.7" y="717.2" width="55.2" height="50.28" fill="#c35347"/>
<rect x="1107.6" y="717.2" width="55.2" height="50.28" fill="#c14f43"/>
<rect x="723.3" y="767.18" width="55.2" height="50.27" fill="#ce695b"/>
<rect x="778.2" y="767.18" width="55.2" height="50.27" fill="#be483d"/>
<rect x="833.1" y="767.18" width="55.2" height="50.27" fill="#c95e51"/>
<rect x="888" y="767.18" width="55.2" height="50.27" fill="#bc4439"/>
<rect x="942.9" y="767.18" width="55.2" height="50.27" fill="#d16f61"/>
<rect x="997.8" y="767.18" width="55.2" height="50.27" fill="#c14f43"/>
<rect x="1052.7" y="767.18" width="55.2" height="50.27" fill="#d37365"/>
<rect x="1107.6" y="767.18" width="55.2" height="50.27" fill="#c14f43"/>
<rect x="723.3" y="817.15" width="55.2" height="50.28" fill="#c75a4d"/>
<rect x="778.2" y="817.15" width="55.2" height="50.28" fill="#b6372f"/>
<rect x="833.1" y="817.15" width="55.2" height="50.28" fill="#cf6b5d"/>
<rect x="888" y="817.15" width="55.2" height="50.28" fill="#c14f43"/>
<rect x="942.9" y="817.15" width="55.2" height="50.28" fill="#cc6457"/>
<rect x="997.8" y="817.15" width="55.2" height="50.28" fill="#bc4439"/>
<rect x="1052.7" y="817.15" width="55.2" height="50.28" fill="#e6a297"/>
<rect x="1107.6" y="817.15" width="55.2" height="50.28" fill="#bf4a3f"/>
<rect x="723.3" y="867.12" width="55.2" height="50.28" fill="#c95e51"/>
<rect x="778.2" y="867.12" width="55.2" height="50.28" fill="#bc4439"/>
<rect x="833.1" y="867.12" width="55.2" height="50.28" fill="#c75a4d"/>
<rect x="888" y="867.12" width="55.2" height="50.28" fill="#c14f43"/>
<rect x="942.9" y="867.12" width="55.2" height="50.28" fill="#c14f43"/>
<rect x="997.8" y="867.12" width="55.2" height="50.28" fill="#c35347"/>
<rect x="1052.7" y="867.12" width="55.2" height="50.28" fill="#de8e81"/>
<rect x="1107.6" y="867.12" width="55.2" height="50.28" fill="#d16f61"/>
<rect x="723.3" y="917.1" width="55.2" height="50.28" fill="#cf6b5d"/>
<rect x="778.2" y="917.1" width="55.2" height="50.28" fill="#b6372f"/>
<rect x="833.1" y="917.1" width="55.2" height="50.28" fill="#d87f72"/>
<rect x="888" y="917.1" width="55.2" height="50.28" fill="#b6372f"/>
<rect x="942.9" y="917.1" width="55.2" height="50.28" fill="#c14f43"/>
<rect x="997.8" y="917.1" width="55.2" height="50.28" fill="#cc6457"/>
<rect x="1052.7" y="917.1" width="55.2" height="50.28" fill="#da8376"/>
<rect x="1107.6" y="917.1" width="55.2" height="50.28" fill="#c35347"/>
<rect x="723.3" y="967.08" width="55.2" height="50.28" fill="#bc4439"/>
<rect x="778.2" y="967.08" width="55.2" height="50.28" fill="#f1c1b8"/>
<rect x="833.1" y="967.08" width="55.2" height="50.28" fill="#d37365"/>
<rect x="888" y="967.08" width="55.2" height="50.28" fill="#c14f43"/>
<rect x="942.9" y="967.08" width="55.2" height="50.28" fill="#c75a4d"/>
<rect x="997.8" y="967.08" width="55.2" height="50.28" fill="#c14f43"/>
<rect x="1052.7" y="967.08" width="55.2" height="50.28" fill="#cc6457"/>
<rect x="1107.6" y="967.08" width="55.2" height="50.28" fill="#bc4439"/>
<rect x="723.3" y="1017.05" width="55.2" height="50.28" fill="#d37365"/>
<rect x="778.2" y="1017.05" width="55.2" height="50.28" fill="#d5796b"/>
<rect x="833.1" y="1017.05" width="55.2" height="50.28" fill="#d87f72"/>
<rect x="888" y="1017.05" width="55.2" height="50.28" fill="#be483d"/>
<rect x="942.9" y="1017.05" width="55.2" height="50.28" fill="#c95e51"/>
<rect x="997.8" y="1017.05" width="55.2" height="50.28" fill="#bc4439"/>
<rect x="1052.7" y="1017.05" width="55.2" height="50.28" fill="#c75a4d"/>
<rect x="1107.6" y="1017.05" width="55.2" height="50.28" fill="#d16f61"/>
<rect x="723.3" y="1067.03" width="55.2" height="50.27" fill="#bc4439"/>
<rect x="778.2" y="1067.03" width="55.2" height="50.27" fill="#c75a4d"/>
<rect x="833.1" y="1067.03" width="55.2" height="50.27" fill="#d77d70"/>
<rect x="888" y="1067.03" width="55.2" height="50.27" fill="#d77d70"/>
<rect x="942.9" y="1067.03" width="55.2" height="50.27" fill="#cc6457"/>
<rect x="997.8" y="1067.03" width="55.2" height="50.27" fill="#c75a4d"/>
<rect x="1052.7" y="1067.03" width="55.2" height="50.27" fill="#e19487"/>
<rect x="1107.6" y="1067.03" width="55.2" height="50.27" fill="#bc4439"/>
</g>
<path d="M718.3 112.7 V1121.3 H1167.5" fill="none" stroke="#000" stroke-width="2.5"/>
<line x1="712" y1="142.49" x2="718.3" y2="142.49" stroke="#333" stroke-width="2.5"/>
<text x="708.5" y="150.49" text-anchor="end" font-style="italic" fill="#62b6cb" font-size="20.83">Hnf4a</text>
<line x1="712" y1="192.46" x2="718.3" y2="192.46" stroke="#333" stroke-width="2.5"/>
<text x="708.5" y="200.46" text-anchor="end" font-style="italic" fill="#62b6cb" font-size="20.83">Acaa1a</text>
<line x1="712" y1="242.44" x2="718.3" y2="242.44" stroke="#333" stroke-width="2.5"/>
<text x="708.5" y="250.44" text-anchor="end" font-style="italic" fill="#62b6cb" font-size="20.83">Aldh5a1</text>
<line x1="712" y1="292.41" x2="718.3" y2="292.41" stroke="#333" stroke-width="2.5"/>
<text x="708.5" y="300.41" text-anchor="end" font-style="italic" fill="#62b6cb" font-size="20.83">Pank1</text>
<line x1="712" y1="342.39" x2="718.3" y2="342.39" stroke="#333" stroke-width="2.5"/>
<text x="708.5" y="350.39" text-anchor="end" font-style="italic" fill="#62b6cb" font-size="20.83">Acsl1</text>
<line x1="712" y1="392.36" x2="718.3" y2="392.36" stroke="#333" stroke-width="2.5"/>
<text x="708.5" y="400.36" text-anchor="end" font-style="italic" fill="#62b6cb" font-size="20.83">Hmgcs2</text>
<line x1="712" y1="442.34" x2="718.3" y2="442.34" stroke="#333" stroke-width="2.5"/>
<text x="708.5" y="450.34" text-anchor="end" font-style="italic" fill="#62b6cb" font-size="20.83">Nlrp12</text>
<line x1="712" y1="492.31" x2="718.3" y2="492.31" stroke="#333" stroke-width="2.5"/>
<text x="708.5" y="500.31" text-anchor="end" font-style="italic" fill="#62b6cb" font-size="20.83">Dapk1</text>
<line x1="712" y1="542.29" x2="718.3" y2="542.29" stroke="#333" stroke-width="2.5"/>
<text x="708.5" y="550.29" text-anchor="end" font-style="italic" fill="#62b6cb" font-size="20.83">Prlr</text>
<line x1="712" y1="592.26" x2="718.3" y2="592.26" stroke="#333" stroke-width="2.5"/>
<text x="708.5" y="600.26" text-anchor="end" font-style="italic" fill="#62b6cb" font-size="20.83">Nr1h4</text>
<line x1="712" y1="642.24" x2="718.3" y2="642.24" stroke="#333" stroke-width="2.5"/>
<text x="708.5" y="650.24" text-anchor="end" font-style="italic" fill="#1b4965" font-size="20.83">Glyat</text>
<line x1="712" y1="692.21" x2="718.3" y2="692.21" stroke="#333" stroke-width="2.5"/>
<text x="708.5" y="700.21" text-anchor="end" font-style="italic" fill="#1b4965" font-size="20.83">Hibadh</text>
<line x1="712" y1="742.19" x2="718.3" y2="742.19" stroke="#333" stroke-width="2.5"/>
<text x="708.5" y="750.19" text-anchor="end" font-style="italic" fill="#1b4965" font-size="20.83">Pbld1</text>
<line x1="712" y1="792.16" x2="718.3" y2="792.16" stroke="#333" stroke-width="2.5"/>
<text x="708.5" y="800.16" text-anchor="end" font-style="italic" fill="#1b4965" font-size="20.83">Dpys</text>
<line x1="712" y1="842.14" x2="718.3" y2="842.14" stroke="#333" stroke-width="2.5"/>
<text x="708.5" y="850.14" text-anchor="end" font-style="italic" fill="#1b4965" font-size="20.83">Maob</text>
<line x1="712" y1="892.11" x2="718.3" y2="892.11" stroke="#333" stroke-width="2.5"/>
<text x="708.5" y="900.11" text-anchor="end" font-style="italic" fill="#1b4965" font-size="20.83">Scp2</text>
<line x1="712" y1="942.09" x2="718.3" y2="942.09" stroke="#333" stroke-width="2.5"/>
<text x="708.5" y="950.09" text-anchor="end" font-style="italic" fill="#1b4965" font-size="20.83">Slc25a13</text>
<line x1="712" y1="992.06" x2="718.3" y2="992.06" stroke="#333" stroke-width="2.5"/>
<text x="708.5" y="1000.06" text-anchor="end" font-style="italic" fill="#1b4965" font-size="20.83">A1cf</text>
<line x1="712" y1="1042.04" x2="718.3" y2="1042.04" stroke="#333" stroke-width="2.5"/>
<text x="708.5" y="1050.04" text-anchor="end" font-style="italic" fill="#1b4965" font-size="20.83">Dmgdh</text>
<line x1="712" y1="1092.01" x2="718.3" y2="1092.01" stroke="#333" stroke-width="2.5"/>
<text x="708.5" y="1100.01" text-anchor="end" font-style="italic" fill="#1b4965" font-size="20.83">Aldh8a1</text>
<line x1="750.75" y1="1121.3" x2="750.75" y2="1128.1" stroke="#333" stroke-width="2.5"/>
<g transform="translate(748.55,1136.4) rotate(-45)" fill="#4d4d4d" font-size="20.83" text-anchor="end"><text x="0" y="16">This Study</text><text x="0" y="34.8">Mouse snRNA–seq</text></g>
<line x1="805.65" y1="1121.3" x2="805.65" y2="1128.1" stroke="#333" stroke-width="2.5"/>
<g transform="translate(803.45,1136.4) rotate(-45)" fill="#4d4d4d" font-size="20.83" text-anchor="end"><text x="0" y="16">This Study</text><text x="0" y="34.8">Mouse scRNA–seq</text></g>
<line x1="860.55" y1="1121.3" x2="860.55" y2="1128.1" stroke="#333" stroke-width="2.5"/>
<g transform="translate(858.35,1136.4) rotate(-45)" fill="#4d4d4d" font-size="20.83" text-anchor="end"><text x="0" y="16">This Study</text><text x="0" y="34.8">Mouse Tumor snRNA–seq</text></g>
<line x1="915.45" y1="1121.3" x2="915.45" y2="1128.1" stroke="#333" stroke-width="2.5"/>
<g transform="translate(913.25,1136.4) rotate(-45)" fill="#4d4d4d" font-size="20.83" text-anchor="end"><text x="0" y="16">Filliol et al.</text><text x="0" y="34.8">Human snRNA–seq</text></g>
<line x1="970.35" y1="1121.3" x2="970.35" y2="1128.1" stroke="#333" stroke-width="2.5"/>
<g transform="translate(968.15,1136.4) rotate(-45)" fill="#4d4d4d" font-size="20.83" text-anchor="end"><text x="0" y="16">Govaere et al.</text><text x="0" y="34.8">Human Bulk RNA–seq</text></g>
<line x1="1025.25" y1="1121.3" x2="1025.25" y2="1128.1" stroke="#333" stroke-width="2.5"/>
<g transform="translate(1023.05,1136.4) rotate(-45)" fill="#4d4d4d" font-size="20.83" text-anchor="end"><text x="0" y="16">Pantano et al.</text><text x="0" y="34.8">Human Bulk RNA–seq</text></g>
<line x1="1080.15" y1="1121.3" x2="1080.15" y2="1128.1" stroke="#333" stroke-width="2.5"/>
<g transform="translate(1077.95,1136.4) rotate(-45)" fill="#4d4d4d" font-size="20.83" text-anchor="end"><text x="0" y="16">Hoang et al.</text><text x="0" y="34.8">Human Bulk RNA–seq</text></g>
<line x1="1135.05" y1="1121.3" x2="1135.05" y2="1128.1" stroke="#333" stroke-width="2.5"/>
<g transform="translate(1132.85,1136.4) rotate(-45)" fill="#4d4d4d" font-size="20.83" text-anchor="end"><text x="0" y="16">Niu et al.</text><text x="0" y="34.8">Human Bulk Proteomics</text></g>
<text x="942.9" y="60.5" text-anchor="middle" font-size="41.67">Longitudinal</text>
<text x="942.9" y="93" text-anchor="middle" font-size="41.67">Decrease</text>
<text x="599.2" y="35.5" font-size="41.67">B</text>
<g shape-rendering="crispEdges">
<rect x="1314.9" y="117.5" width="55.2" height="50.27" fill="#edb6ad"/>
<rect x="1369.8" y="117.5" width="55.2" height="50.27" fill="#eaaca2"/>
<rect x="1424.7" y="117.5" width="55.2" height="50.27" fill="#f8f9fb"/>
<rect x="1479.6" y="117.5" width="55.2" height="50.27" fill="#f4cbc4"/>
<rect x="1534.5" y="117.5" width="55.2" height="50.27" fill="#ebb0a6"/>
<rect x="1589.4" y="117.5" width="55.2" height="50.27" fill="#f4cbc4"/>
<rect x="1644.3" y="117.5" width="55.2" height="50.27" fill="#edb6ad"/>
<rect x="1699.2" y="117.5" width="55.2" height="50.27" fill="#fef7f5"/>
<rect x="1314.9" y="167.47" width="55.2" height="50.27" fill="#c14f43"/>
<rect x="1369.8" y="167.47" width="55.2" height="50.27" fill="#f5d1cb"/>
<rect x="1424.7" y="167.47" width="55.2" height="50.27" fill="#fbeae7"/>
<rect x="1479.6" y="167.47" width="55.2" height="50.27" fill="#8c9fb7"/>
<rect x="1534.5" y="167.47" width="55.2" height="50.27" fill="#fbeae7"/>
<rect x="1589.4" y="167.47" width="55.2" height="50.27" fill="#fbeae7"/>
<rect x="1644.3" y="167.47" width="55.2" height="50.27" fill="#f6d5cf"/>
<rect x="1699.2" y="167.47" width="55.2" height="50.27" fill="#efbdb4"/>
<rect x="1314.9" y="217.45" width="55.2" height="50.28" fill="#de8e81"/>
<rect x="1369.8" y="217.45" width="55.2" height="50.28" fill="#fef7f5"/>
<rect x="1424.7" y="217.45" width="55.2" height="50.28" fill="#f5d1cb"/>
<rect x="1479.6" y="217.45" width="55.2" height="50.28" fill="#fae6e2"/>
<rect x="1534.5" y="217.45" width="55.2" height="50.28" fill="#f4cbc4"/>
<rect x="1589.4" y="217.45" width="55.2" height="50.28" fill="#f2c5bd"/>
<rect x="1644.3" y="217.45" width="55.2" height="50.28" fill="#e49c90"/>
<rect x="1699.2" y="217.45" width="55.2" height="50.28" fill="#efbdb4"/>
<rect x="1314.9" y="267.43" width="55.2" height="50.27" fill="#be483d"/>
<rect x="1369.8" y="267.43" width="55.2" height="50.27" fill="#808080"/>
<rect x="1424.7" y="267.43" width="55.2" height="50.27" fill="#fae6e2"/>
<rect x="1479.6" y="267.43" width="55.2" height="50.27" fill="#e6a297"/>
<rect x="1534.5" y="267.43" width="55.2" height="50.27" fill="#f5d1cb"/>
<rect x="1589.4" y="267.43" width="55.2" height="50.27" fill="#f2c5bd"/>
<rect x="1644.3" y="267.43" width="55.2" height="50.27" fill="#e49c90"/>
<rect x="1699.2" y="267.43" width="55.2" height="50.27" fill="#f9e0db"/>
<rect x="1314.9" y="317.4" width="55.2" height="50.28" fill="#cf6b5d"/>
<rect x="1369.8" y="317.4" width="55.2" height="50.28" fill="#de8e81"/>
<rect x="1424.7" y="317.4" width="55.2" height="50.28" fill="#d37365"/>
<rect x="1479.6" y="317.4" width="55.2" height="50.28" fill="#d5796b"/>
<rect x="1534.5" y="317.4" width="55.2" height="50.28" fill="#f9e0db"/>
<rect x="1589.4" y="317.4" width="55.2" height="50.28" fill="#e6a297"/>
<rect x="1644.3" y="317.4" width="55.2" height="50.28" fill="#d16f61"/>
<rect x="1699.2" y="317.4" width="55.2" height="50.28" fill="#efbab1"/>
<rect x="1314.9" y="367.38" width="55.2" height="50.28" fill="#e49c90"/>
<rect x="1369.8" y="367.38" width="55.2" height="50.28" fill="#f4cbc4"/>
<rect x="1424.7" y="367.38" width="55.2" height="50.28" fill="#c35347"/>
<rect x="1479.6" y="367.38" width="55.2" height="50.28" fill="#fae4e0"/>
<rect x="1534.5" y="367.38" width="55.2" height="50.28" fill="#e2988c"/>
<rect x="1589.4" y="367.38" width="55.2" height="50.28" fill="#ebb0a6"/>
<rect x="1644.3" y="367.38" width="55.2" height="50.28" fill="#edb6ad"/>
<rect x="1699.2" y="367.38" width="55.2" height="50.28" fill="#808080"/>
<rect x="1314.9" y="417.35" width="55.2" height="50.27" fill="#c45549"/>
<rect x="1369.8" y="417.35" width="55.2" height="50.27" fill="#f2c5bd"/>
<rect x="1424.7" y="417.35" width="55.2" height="50.27" fill="#c35347"/>
<rect x="1479.6" y="417.35" width="55.2" height="50.27" fill="#e2988c"/>
<rect x="1534.5" y="417.35" width="55.2" height="50.27" fill="#fbeae7"/>
<rect x="1589.4" y="417.35" width="55.2" height="50.27" fill="#f1c1b8"/>
<rect x="1644.3" y="417.35" width="55.2" height="50.27" fill="#e6a297"/>
<rect x="1699.2" y="417.35" width="55.2" height="50.27" fill="#808080"/>
<rect x="1314.9" y="467.32" width="55.2" height="50.27" fill="#f2c5bd"/>
<rect x="1369.8" y="467.32" width="55.2" height="50.27" fill="#da8376"/>
<rect x="1424.7" y="467.32" width="55.2" height="50.27" fill="#fceeec"/>
<rect x="1479.6" y="467.32" width="55.2" height="50.27" fill="#e2988c"/>
<rect x="1534.5" y="467.32" width="55.2" height="50.27" fill="#fbeae7"/>
<rect x="1589.4" y="467.32" width="55.2" height="50.27" fill="#e2988c"/>
<rect x="1644.3" y="467.32" width="55.2" height="50.27" fill="#cf6b5d"/>
<rect x="1699.2" y="467.32" width="55.2" height="50.27" fill="#f7d9d4"/>
<rect x="1314.9" y="517.3" width="55.2" height="50.28" fill="#c95e51"/>
<rect x="1369.8" y="517.3" width="55.2" height="50.28" fill="#f6d5cf"/>
<rect x="1424.7" y="517.3" width="55.2" height="50.28" fill="#e4e8ee"/>
<rect x="1479.6" y="517.3" width="55.2" height="50.28" fill="#f6d5cf"/>
<rect x="1534.5" y="517.3" width="55.2" height="50.28" fill="#f1c1b8"/>
<rect x="1589.4" y="517.3" width="55.2" height="50.28" fill="#f7d9d4"/>
<rect x="1644.3" y="517.3" width="55.2" height="50.28" fill="#edb6ad"/>
<rect x="1699.2" y="517.3" width="55.2" height="50.28" fill="#808080"/>
<rect x="1314.9" y="567.28" width="55.2" height="50.27" fill="#d5796b"/>
<rect x="1369.8" y="567.28" width="55.2" height="50.27" fill="#e6a297"/>
<rect x="1424.7" y="567.28" width="55.2" height="50.27" fill="#ebb0a6"/>
<rect x="1479.6" y="567.28" width="55.2" height="50.27" fill="#cf6b5d"/>
<rect x="1534.5" y="567.28" width="55.2" height="50.27" fill="#da8376"/>
<rect x="1589.4" y="567.28" width="55.2" height="50.27" fill="#d37365"/>
<rect x="1644.3" y="567.28" width="55.2" height="50.27" fill="#c45549"/>
<rect x="1699.2" y="567.28" width="55.2" height="50.27" fill="#f6f7f9"/>
<rect x="1314.9" y="617.25" width="55.2" height="50.28" fill="#bf4a3f"/>
<rect x="1369.8" y="617.25" width="55.2" height="50.28" fill="#d37365"/>
<rect x="1424.7" y="617.25" width="55.2" height="50.28" fill="#b6372f"/>
<rect x="1479.6" y="617.25" width="55.2" height="50.28" fill="#ebb0a6"/>
<rect x="1534.5" y="617.25" width="55.2" height="50.28" fill="#d37365"/>
<rect x="1589.4" y="617.25" width="55.2" height="50.28" fill="#fae4e0"/>
<rect x="1644.3" y="617.25" width="55.2" height="50.28" fill="#e49c90"/>
<rect x="1699.2" y="617.25" width="55.2" height="50.28" fill="#808080"/>
<rect x="1314.9" y="667.23" width="55.2" height="50.28" fill="#de8e81"/>
<rect x="1369.8" y="667.23" width="55.2" height="50.28" fill="#de8e81"/>
<rect x="1424.7" y="667.23" width="55.2" height="50.28" fill="#e8a69b"/>
<rect x="1479.6" y="667.23" width="55.2" height="50.28" fill="#da8376"/>
<rect x="1534.5" y="667.23" width="55.2" height="50.28" fill="#e2988c"/>
<rect x="1589.4" y="667.23" width="55.2" height="50.28" fill="#d37365"/>
<rect x="1644.3" y="667.23" width="55.2" height="50.28" fill="#d16f61"/>
<rect x="1699.2" y="667.23" width="55.2" height="50.28" fill="#808080"/>
<rect x="1314.9" y="717.2" width="55.2" height="50.28" fill="#c95e51"/>
<rect x="1369.8" y="717.2" width="55.2" height="50.28" fill="#d37365"/>
<rect x="1424.7" y="717.2" width="55.2" height="50.28" fill="#ffffff"/>
<rect x="1479.6" y="717.2" width="55.2" height="50.28" fill="#da8376"/>
<rect x="1534.5" y="717.2" width="55.2" height="50.28" fill="#d37365"/>
<rect x="1589.4" y="717.2" width="55.2" height="50.28" fill="#de8e81"/>
<rect x="1644.3" y="717.2" width="55.2" height="50.28" fill="#cf6b5d"/>
<rect x="1699.2" y="717.2" width="55.2" height="50.28" fill="#808080"/>
<rect x="1314.9" y="767.18" width="55.2" height="50.27" fill="#d37365"/>
<rect x="1369.8" y="767.18" width="55.2" height="50.27" fill="#de8e81"/>
<rect x="1424.7" y="767.18" width="55.2" height="50.27" fill="#e2988c"/>
<rect x="1479.6" y="767.18" width="55.2" height="50.27" fill="#d87f72"/>
<rect x="1534.5" y="767.18" width="55.2" height="50.27" fill="#d5796b"/>
<rect x="1589.4" y="767.18" width="55.2" height="50.27" fill="#ce695b"/>
<rect x="1644.3" y="767.18" width="55.2" height="50.27" fill="#cc6457"/>
<rect x="1699.2" y="767.18" width="55.2" height="50.27" fill="#fcf0ee"/>
<rect x="1314.9" y="817.15" width="55.2" height="50.28" fill="#c75a4d"/>
<rect x="1369.8" y="817.15" width="55.2" height="50.28" fill="#cf6b5d"/>
<rect x="1424.7" y="817.15" width="55.2" height="50.28" fill="#cc6457"/>
<rect x="1479.6" y="817.15" width="55.2" height="50.28" fill="#e8a89d"/>
<rect x="1534.5" y="817.15" width="55.2" height="50.28" fill="#f2c5bd"/>
<rect x="1589.4" y="817.15" width="55.2" height="50.28" fill="#e2988c"/>
<rect x="1644.3" y="817.15" width="55.2" height="50.28" fill="#e2988c"/>
<rect x="1699.2" y="817.15" width="55.2" height="50.28" fill="#808080"/>
<rect x="1314.9" y="867.12" width="55.2" height="50.28" fill="#da8376"/>
<rect x="1369.8" y="867.12" width="55.2" height="50.28" fill="#f2c5bd"/>
<rect x="1424.7" y="867.12" width="55.2" height="50.28" fill="#c14f43"/>
<rect x="1479.6" y="867.12" width="55.2" height="50.28" fill="#e09285"/>
<rect x="1534.5" y="867.12" width="55.2" height="50.28" fill="#f1c1b8"/>
<rect x="1589.4" y="867.12" width="55.2" height="50.28" fill="#d87f72"/>
<rect x="1644.3" y="867.12" width="55.2" height="50.28" fill="#d37365"/>
<rect x="1699.2" y="867.12" width="55.2" height="50.28" fill="#808080"/>
<rect x="1314.9" y="917.1" width="55.2" height="50.28" fill="#d5796b"/>
<rect x="1369.8" y="917.1" width="55.2" height="50.28" fill="#edb6ad"/>
<rect x="1424.7" y="917.1" width="55.2" height="50.28" fill="#eaaca2"/>
<rect x="1479.6" y="917.1" width="55.2" height="50.28" fill="#dc877a"/>
<rect x="1534.5" y="917.1" width="55.2" height="50.28" fill="#c75a4d"/>
<rect x="1589.4" y="917.1" width="55.2" height="50.28" fill="#d87f72"/>
<rect x="1644.3" y="917.1" width="55.2" height="50.28" fill="#be483d"/>
<rect x="1699.2" y="917.1" width="55.2" height="50.28" fill="#fcf0ee"/>
<rect x="1314.9" y="967.08" width="55.2" height="50.28" fill="#ebb0a6"/>
<rect x="1369.8" y="967.08" width="55.2" height="50.28" fill="#f6d5cf"/>
<rect x="1424.7" y="967.08" width="55.2" height="50.28" fill="#c35347"/>
<rect x="1479.6" y="967.08" width="55.2" height="50.28" fill="#e49c90"/>
<rect x="1534.5" y="967.08" width="55.2" height="50.28" fill="#d16f61"/>
<rect x="1589.4" y="967.08" width="55.2" height="50.28" fill="#de8e81"/>
<rect x="1644.3" y="967.08" width="55.2" height="50.28" fill="#d37365"/>
<rect x="1699.2" y="967.08" width="55.2" height="50.28" fill="#808080"/>
<rect x="1314.9" y="1017.05" width="55.2" height="50.28" fill="#c95e51"/>
<rect x="1369.8" y="1017.05" width="55.2" height="50.28" fill="#ce695b"/>
<rect x="1424.7" y="1017.05" width="55.2" height="50.28" fill="#c45549"/>
<rect x="1479.6" y="1017.05" width="55.2" height="50.28" fill="#e6a297"/>
<rect x="1534.5" y="1017.05" width="55.2" height="50.28" fill="#eaaca2"/>
<rect x="1589.4" y="1017.05" width="55.2" height="50.28" fill="#e2988c"/>
<rect x="1644.3" y="1017.05" width="55.2" height="50.28" fill="#d77d70"/>
<rect x="1699.2" y="1017.05" width="55.2" height="50.28" fill="#fafbfc"/>
<rect x="1314.9" y="1067.03" width="55.2" height="50.27" fill="#d16f61"/>
<rect x="1369.8" y="1067.03" width="55.2" height="50.27" fill="#e2988c"/>
<rect x="1424.7" y="1067.03" width="55.2" height="50.27" fill="#f6d5cf"/>
<rect x="1479.6" y="1067.03" width="55.2" height="50.27" fill="#c95e51"/>
<rect x="1534.5" y="1067.03" width="55.2" height="50.27" fill="#e2988c"/>
<rect x="1589.4" y="1067.03" width="55.2" height="50.27" fill="#dc877a"/>
<rect x="1644.3" y="1067.03" width="55.2" height="50.27" fill="#c95e51"/>
<rect x="1699.2" y="1067.03" width="55.2" height="50.27" fill="#f6d5cf"/>
</g>
<path d="M1309.9 112.7 V1121.3 H1759.1" fill="none" stroke="#000" stroke-width="2.5"/>
<line x1="1303.6" y1="142.49" x2="1309.9" y2="142.49" stroke="#333" stroke-width="2.5"/>
<text x="1300.1" y="150.49" text-anchor="end" font-style="italic" fill="#62b6cb" font-size="20.83">Hmgcs1</text>
<line x1="1303.6" y1="192.46" x2="1309.9" y2="192.46" stroke="#333" stroke-width="2.5"/>
<text x="1300.1" y="200.46" text-anchor="end" font-style="italic" fill="#62b6cb" font-size="20.83">Cpt1a</text>
<line x1="1303.6" y1="242.44" x2="1309.9" y2="242.44" stroke="#333" stroke-width="2.5"/>
<text x="1300.1" y="250.44" text-anchor="end" font-style="italic" fill="#62b6cb" font-size="20.83">Mtor</text>
<line x1="1303.6" y1="292.41" x2="1309.9" y2="292.41" stroke="#333" stroke-width="2.5"/>
<text x="1300.1" y="300.41" text-anchor="end" font-style="italic" fill="#62b6cb" font-size="20.83">Gpat4</text>
<line x1="1303.6" y1="342.39" x2="1309.9" y2="342.39" stroke="#333" stroke-width="2.5"/>
<text x="1300.1" y="350.39" text-anchor="end" font-style="italic" fill="#62b6cb" font-size="20.83">Hexa</text>
<line x1="1303.6" y1="392.36" x2="1309.9" y2="392.36" stroke="#333" stroke-width="2.5"/>
<text x="1300.1" y="400.36" text-anchor="end" font-style="italic" fill="#62b6cb" font-size="20.83">Pde4d</text>
<line x1="1303.6" y1="442.34" x2="1309.9" y2="442.34" stroke="#333" stroke-width="2.5"/>
<text x="1300.1" y="450.34" text-anchor="end" font-style="italic" fill="#62b6cb" font-size="20.83">Smpd2</text>
<line x1="1303.6" y1="492.31" x2="1309.9" y2="492.31" stroke="#333" stroke-width="2.5"/>
<text x="1300.1" y="500.31" text-anchor="end" font-style="italic" fill="#62b6cb" font-size="20.83">Cd74</text>
<line x1="1303.6" y1="542.29" x2="1309.9" y2="542.29" stroke="#333" stroke-width="2.5"/>
<text x="1300.1" y="550.29" text-anchor="end" font-style="italic" fill="#62b6cb" font-size="20.83">Cd1d1</text>
<line x1="1303.6" y1="592.26" x2="1309.9" y2="592.26" stroke="#333" stroke-width="2.5"/>
<text x="1300.1" y="600.26" text-anchor="end" font-style="italic" fill="#62b6cb" font-size="20.83">Cd59a</text>
<line x1="1303.6" y1="642.24" x2="1309.9" y2="642.24" stroke="#333" stroke-width="2.5"/>
<text x="1300.1" y="650.24" text-anchor="end" font-style="italic" fill="#1b4965" font-size="20.83">Grpel2</text>
<line x1="1303.6" y1="692.21" x2="1309.9" y2="692.21" stroke="#333" stroke-width="2.5"/>
<text x="1300.1" y="700.21" text-anchor="end" font-style="italic" fill="#1b4965" font-size="20.83">Klf6</text>
<line x1="1303.6" y1="742.19" x2="1309.9" y2="742.19" stroke="#333" stroke-width="2.5"/>
<text x="1300.1" y="750.19" text-anchor="end" font-style="italic" fill="#1b4965" font-size="20.83">Arl4a</text>
<line x1="1303.6" y1="792.16" x2="1309.9" y2="792.16" stroke="#333" stroke-width="2.5"/>
<text x="1300.1" y="800.16" text-anchor="end" font-style="italic" fill="#1b4965" font-size="20.83">Anxa5</text>
<line x1="1303.6" y1="842.14" x2="1309.9" y2="842.14" stroke="#333" stroke-width="2.5"/>
<text x="1300.1" y="850.14" text-anchor="end" font-style="italic" fill="#1b4965" font-size="20.83">Zfand5</text>
<line x1="1303.6" y1="892.11" x2="1309.9" y2="892.11" stroke="#333" stroke-width="2.5"/>
<text x="1300.1" y="900.11" text-anchor="end" font-style="italic" fill="#1b4965" font-size="20.83">Gdf15</text>
<line x1="1303.6" y1="942.09" x2="1309.9" y2="942.09" stroke="#333" stroke-width="2.5"/>
<text x="1300.1" y="950.09" text-anchor="end" font-style="italic" fill="#1b4965" font-size="20.83">Arpc5</text>
<line x1="1303.6" y1="992.06" x2="1309.9" y2="992.06" stroke="#333" stroke-width="2.5"/>
<text x="1300.1" y="1000.06" text-anchor="end" font-style="italic" fill="#1b4965" font-size="20.83">Mdm2</text>
<line x1="1303.6" y1="1042.04" x2="1309.9" y2="1042.04" stroke="#333" stroke-width="2.5"/>
<text x="1300.1" y="1050.04" text-anchor="end" font-style="italic" fill="#1b4965" font-size="20.83">S100a10</text>
<line x1="1303.6" y1="1092.01" x2="1309.9" y2="1092.01" stroke="#333" stroke-width="2.5"/>
<text x="1300.1" y="1100.01" text-anchor="end" font-style="italic" fill="#1b4965" font-size="20.83">Cstb</text>
<line x1="1342.35" y1="1121.3" x2="1342.35" y2="1128.1" stroke="#333" stroke-width="2.5"/>
<g transform="translate(1340.15,1136.4) rotate(-45)" fill="#4d4d4d" font-size="20.83" text-anchor="end"><text x="0" y="16">This Study</text><text x="0" y="34.8">Mouse snRNA–seq</text></g>
<line x1="1397.25" y1="1121.3" x2="1397.25" y2="1128.1" stroke="#333" stroke-width="2.5"/>
<g transform="translate(1395.05,1136.4) rotate(-45)" fill="#4d4d4d" font-size="20.83" text-anchor="end"><text x="0" y="16">This Study</text><text x="0" y="34.8">Mouse scRNA–seq</text></g>
<line x1="1452.15" y1="1121.3" x2="1452.15" y2="1128.1" stroke="#333" stroke-width="2.5"/>
<g transform="translate(1449.95,1136.4) rotate(-45)" fill="#4d4d4d" font-size="20.83" text-anchor="end"><text x="0" y="16">This Study</text><text x="0" y="34.8">Mouse Tumor snRNA–seq</text></g>
<line x1="1507.05" y1="1121.3" x2="1507.05" y2="1128.1" stroke="#333" stroke-width="2.5"/>
<g transform="translate(1504.85,1136.4) rotate(-45)" fill="#4d4d4d" font-size="20.83" text-anchor="end"><text x="0" y="16">Filliol et al.</text><text x="0" y="34.8">Human snRNA–seq</text></g>
<line x1="1561.95" y1="1121.3" x2="1561.95" y2="1128.1" stroke="#333" stroke-width="2.5"/>
<g transform="translate(1559.75,1136.4) rotate(-45)" fill="#4d4d4d" font-size="20.83" text-anchor="end"><text x="0" y="16">Govaere et al.</text><text x="0" y="34.8">Human Bulk RNA–seq</text></g>
<line x1="1616.85" y1="1121.3" x2="1616.85" y2="1128.1" stroke="#333" stroke-width="2.5"/>
<g transform="translate(1614.65,1136.4) rotate(-45)" fill="#4d4d4d" font-size="20.83" text-anchor="end"><text x="0" y="16">Pantano et al.</text><text x="0" y="34.8">Human Bulk RNA–seq</text></g>
<line x1="1671.75" y1="1121.3" x2="1671.75" y2="1128.1" stroke="#333" stroke-width="2.5"/>
<g transform="translate(1669.55,1136.4) rotate(-45)" fill="#4d4d4d" font-size="20.83" text-anchor="end"><text x="0" y="16">Hoang et al.</text><text x="0" y="34.8">Human Bulk RNA–seq</text></g>
<line x1="1726.65" y1="1121.3" x2="1726.65" y2="1128.1" stroke="#333" stroke-width="2.5"/>
<g transform="translate(1724.45,1136.4) rotate(-45)" fill="#4d4d4d" font-size="20.83" text-anchor="end"><text x="0" y="16">Niu et al.</text><text x="0" y="34.8">Human Bulk Proteomics</text></g>
<text x="1534.5" y="60.5" text-anchor="middle" font-size="41.67">Sustained</text>
<text x="1534.5" y="93" text-anchor="middle" font-size="41.67">Upregulation</text>
<text x="1193" y="35.5" font-size="41.67">C</text>
<g shape-rendering="crispEdges">
<rect x="1909.7" y="117.5" width="55.2" height="50.27" fill="#ce695b"/>
<rect x="1964.6" y="117.5" width="55.2" height="50.27" fill="#be483d"/>
<rect x="2019.5" y="117.5" width="55.2" height="50.27" fill="#bc4439"/>
<rect x="2074.4" y="117.5" width="55.2" height="50.27" fill="#f1c1b8"/>
<rect x="2129.3" y="117.5" width="55.2" height="50.27" fill="#c95e51"/>
<rect x="2184.2" y="117.5" width="55.2" height="50.27" fill="#c95e51"/>
<rect x="2239.1" y="117.5" width="55.2" height="50.27" fill="#d16f61"/>
<rect x="2294" y="117.5" width="55.2" height="50.27" fill="#e9ecf1"/>
<rect x="1909.7" y="167.47" width="55.2" height="50.27" fill="#eaaca2"/>
<rect x="1964.6" y="167.47" width="55.2" height="50.27" fill="#d37365"/>
<rect x="2019.5" y="167.47" width="55.2" height="50.27" fill="#c75a4d"/>
<rect x="2074.4" y="167.47" width="55.2" height="50.27" fill="#a0afc3"/>
<rect x="2129.3" y="167.47" width="55.2" height="50.27" fill="#d37365"/>
<rect x="2184.2" y="167.47" width="55.2" height="50.27" fill="#da8376"/>
<rect x="2239.1" y="167.47" width="55.2" height="50.27" fill="#e19487"/>
<rect x="2294" y="167.47" width="55.2" height="50.27" fill="#fefbfa"/>
<rect x="1909.7" y="217.45" width="55.2" height="50.28" fill="#de8e81"/>
<rect x="1964.6" y="217.45" width="55.2" height="50.28" fill="#c95e51"/>
<rect x="2019.5" y="217.45" width="55.2" height="50.28" fill="#c95e51"/>
<rect x="2074.4" y="217.45" width="55.2" height="50.28" fill="#f5d1cb"/>
<rect x="2129.3" y="217.45" width="55.2" height="50.28" fill="#e19487"/>
<rect x="2184.2" y="217.45" width="55.2" height="50.28" fill="#e19487"/>
<rect x="2239.1" y="217.45" width="55.2" height="50.28" fill="#e8a69b"/>
<rect x="2294" y="217.45" width="55.2" height="50.28" fill="#b3bfd0"/>
<rect x="1909.7" y="267.43" width="55.2" height="50.27" fill="#e49c90"/>
<rect x="1964.6" y="267.43" width="55.2" height="50.27" fill="#de8e81"/>
<rect x="2019.5" y="267.43" width="55.2" height="50.27" fill="#ffffff"/>
<rect x="2074.4" y="267.43" width="55.2" height="50.27" fill="#edf0f4"/>
<rect x="2129.3" y="267.43" width="55.2" height="50.27" fill="#da8376"/>
<rect x="2184.2" y="267.43" width="55.2" height="50.27" fill="#edb6ad"/>
<rect x="2239.1" y="267.43" width="55.2" height="50.27" fill="#ebb0a6"/>
<rect x="2294" y="267.43" width="55.2" height="50.27" fill="#e8a89d"/>
<rect x="1909.7" y="317.4" width="55.2" height="50.28" fill="#d16f61"/>
<rect x="1964.6" y="317.4" width="55.2" height="50.28" fill="#c35347"/>
<rect x="2019.5" y="317.4" width="55.2" height="50.28" fill="#f2c5bd"/>
<rect x="2074.4" y="317.4" width="55.2" height="50.28" fill="#f9e0db"/>
<rect x="2129.3" y="317.4" width="55.2" height="50.28" fill="#808080"/>
<rect x="2184.2" y="317.4" width="55.2" height="50.28" fill="#ebb0a6"/>
<rect x="2239.1" y="317.4" width="55.2" height="50.28" fill="#f2c5bd"/>
<rect x="2294" y="317.4" width="55.2" height="50.28" fill="#fdfdfe"/>
<rect x="1909.7" y="367.38" width="55.2" height="50.28" fill="#d5796b"/>
<rect x="1964.6" y="367.38" width="55.2" height="50.28" fill="#eaaca2"/>
<rect x="2019.5" y="367.38" width="55.2" height="50.28" fill="#edb6ad"/>
<rect x="2074.4" y="367.38" width="55.2" height="50.28" fill="#e19487"/>
<rect x="2129.3" y="367.38" width="55.2" height="50.28" fill="#e2988c"/>
<rect x="2184.2" y="367.38" width="55.2" height="50.28" fill="#ebb0a6"/>
<rect x="2239.1" y="367.38" width="55.2" height="50.28" fill="#f2c5bd"/>
<rect x="2294" y="367.38" width="55.2" height="50.28" fill="#808080"/>
<rect x="1909.7" y="417.35" width="55.2" height="50.27" fill="#cc6457"/>
<rect x="1964.6" y="417.35" width="55.2" height="50.27" fill="#cc6457"/>
<rect x="2019.5" y="417.35" width="55.2" height="50.27" fill="#da8376"/>
<rect x="2074.4" y="417.35" width="55.2" height="50.27" fill="#edb6ad"/>
<rect x="2129.3" y="417.35" width="55.2" height="50.27" fill="#f4cbc4"/>
<rect x="2184.2" y="417.35" width="55.2" height="50.27" fill="#f4cbc4"/>
<rect x="2239.1" y="417.35" width="55.2" height="50.27" fill="#e49c90"/>
<rect x="2294" y="417.35" width="55.2" height="50.27" fill="#e2988c"/>
<rect x="1909.7" y="467.32" width="55.2" height="50.27" fill="#d87f72"/>
<rect x="1964.6" y="467.32" width="55.2" height="50.27" fill="#f4cbc4"/>
<rect x="2019.5" y="467.32" width="55.2" height="50.27" fill="#e49c90"/>
<rect x="2074.4" y="467.32" width="55.2" height="50.27" fill="#e9ecf1"/>
<rect x="2129.3" y="467.32" width="55.2" height="50.27" fill="#ebb0a6"/>
<rect x="2184.2" y="467.32" width="55.2" height="50.27" fill="#fdf5f3"/>
<rect x="2239.1" y="467.32" width="55.2" height="50.27" fill="#fdf5f3"/>
<rect x="2294" y="467.32" width="55.2" height="50.27" fill="#808080"/>
<rect x="1909.7" y="517.3" width="55.2" height="50.28" fill="#be483d"/>
<rect x="1964.6" y="517.3" width="55.2" height="50.28" fill="#da8376"/>
<rect x="2019.5" y="517.3" width="55.2" height="50.28" fill="#b6372f"/>
<rect x="2074.4" y="517.3" width="55.2" height="50.28" fill="#dc877a"/>
<rect x="2129.3" y="517.3" width="55.2" height="50.28" fill="#d87f72"/>
<rect x="2184.2" y="517.3" width="55.2" height="50.28" fill="#e6a297"/>
<rect x="2239.1" y="517.3" width="55.2" height="50.28" fill="#e2988c"/>
<rect x="2294" y="517.3" width="55.2" height="50.28" fill="#da8376"/>
<rect x="1909.7" y="567.28" width="55.2" height="50.27" fill="#c95e51"/>
<rect x="1964.6" y="567.28" width="55.2" height="50.27" fill="#f1f3f7"/>
<rect x="2019.5" y="567.28" width="55.2" height="50.27" fill="#edb6ad"/>
<rect x="2074.4" y="567.28" width="55.2" height="50.27" fill="#eaaca2"/>
<rect x="2129.3" y="567.28" width="55.2" height="50.27" fill="#efbab1"/>
<rect x="2184.2" y="567.28" width="55.2" height="50.27" fill="#f5cfc8"/>
<rect x="2239.1" y="567.28" width="55.2" height="50.27" fill="#fae6e2"/>
<rect x="2294" y="567.28" width="55.2" height="50.27" fill="#808080"/>
<rect x="1909.7" y="617.25" width="55.2" height="50.28" fill="#e49c90"/>
<rect x="1964.6" y="617.25" width="55.2" height="50.28" fill="#e09285"/>
<rect x="2019.5" y="617.25" width="55.2" height="50.28" fill="#fbeae7"/>
<rect x="2074.4" y="617.25" width="55.2" height="50.28" fill="#c75a4d"/>
<rect x="2129.3" y="617.25" width="55.2" height="50.28" fill="#c14f43"/>
<rect x="2184.2" y="617.25" width="55.2" height="50.28" fill="#cc6457"/>
<rect x="2239.1" y="617.25" width="55.2" height="50.28" fill="#da8376"/>
<rect x="2294" y="617.25" width="55.2" height="50.28" fill="#e09285"/>
<rect x="1909.7" y="667.23" width="55.2" height="50.28" fill="#c75a4d"/>
<rect x="1964.6" y="667.23" width="55.2" height="50.28" fill="#ca6053"/>
<rect x="2019.5" y="667.23" width="55.2" height="50.28" fill="#bf4a3f"/>
<rect x="2074.4" y="667.23" width="55.2" height="50.28" fill="#da8376"/>
<rect x="2129.3" y="667.23" width="55.2" height="50.28" fill="#d16f61"/>
<rect x="2184.2" y="667.23" width="55.2" height="50.28" fill="#d5796b"/>
<rect x="2239.1" y="667.23" width="55.2" height="50.28" fill="#d87f72"/>
<rect x="2294" y="667.23" width="55.2" height="50.28" fill="#afbbcd"/>
<rect x="1909.7" y="717.2" width="55.2" height="50.28" fill="#c75a4d"/>
<rect x="1964.6" y="717.2" width="55.2" height="50.28" fill="#c45549"/>
<rect x="2019.5" y="717.2" width="55.2" height="50.28" fill="#ca6053"/>
<rect x="2074.4" y="717.2" width="55.2" height="50.28" fill="#de8e81"/>
<rect x="2129.3" y="717.2" width="55.2" height="50.28" fill="#e2988c"/>
<rect x="2184.2" y="717.2" width="55.2" height="50.28" fill="#e49c90"/>
<rect x="2239.1" y="717.2" width="55.2" height="50.28" fill="#f2c5bd"/>
<rect x="2294" y="717.2" width="55.2" height="50.28" fill="#e6a297"/>
<rect x="1909.7" y="767.18" width="55.2" height="50.27" fill="#eaaca2"/>
<rect x="1964.6" y="767.18" width="55.2" height="50.27" fill="#c45549"/>
<rect x="2019.5" y="767.18" width="55.2" height="50.27" fill="#c95e51"/>
<rect x="2074.4" y="767.18" width="55.2" height="50.27" fill="#fef9f8"/>
<rect x="2129.3" y="767.18" width="55.2" height="50.27" fill="#c14f43"/>
<rect x="2184.2" y="767.18" width="55.2" height="50.27" fill="#c35347"/>
<rect x="2239.1" y="767.18" width="55.2" height="50.27" fill="#d16f61"/>
<rect x="2294" y="767.18" width="55.2" height="50.27" fill="#e4e8ee"/>
<rect x="1909.7" y="817.15" width="55.2" height="50.28" fill="#dc877a"/>
<rect x="1964.6" y="817.15" width="55.2" height="50.28" fill="#d5796b"/>
<rect x="2019.5" y="817.15" width="55.2" height="50.28" fill="#d77d70"/>
<rect x="2074.4" y="817.15" width="55.2" height="50.28" fill="#fbeae7"/>
<rect x="2129.3" y="817.15" width="55.2" height="50.28" fill="#da8376"/>
<rect x="2184.2" y="817.15" width="55.2" height="50.28" fill="#da8376"/>
<rect x="2239.1" y="817.15" width="55.2" height="50.28" fill="#e6a297"/>
<rect x="2294" y="817.15" width="55.2" height="50.28" fill="#808080"/>
<rect x="1909.7" y="867.12" width="55.2" height="50.28" fill="#e2988c"/>
<rect x="1964.6" y="867.12" width="55.2" height="50.28" fill="#c95e51"/>
<rect x="2019.5" y="867.12" width="55.2" height="50.28" fill="#d16f61"/>
<rect x="2074.4" y="867.12" width="55.2" height="50.28" fill="#f7d9d4"/>
<rect x="2129.3" y="867.12" width="55.2" height="50.28" fill="#e6a297"/>
<rect x="2184.2" y="867.12" width="55.2" height="50.28" fill="#e49c90"/>
<rect x="2239.1" y="867.12" width="55.2" height="50.28" fill="#edb6ad"/>
<rect x="2294" y="867.12" width="55.2" height="50.28" fill="#d5796b"/>
<rect x="1909.7" y="917.1" width="55.2" height="50.28" fill="#d5796b"/>
<rect x="1964.6" y="917.1" width="55.2" height="50.28" fill="#ce695b"/>
<rect x="2019.5" y="917.1" width="55.2" height="50.28" fill="#c35347"/>
<rect x="2074.4" y="917.1" width="55.2" height="50.28" fill="#fafbfc"/>
<rect x="2129.3" y="917.1" width="55.2" height="50.28" fill="#808080"/>
<rect x="2184.2" y="917.1" width="55.2" height="50.28" fill="#d77d70"/>
<rect x="2239.1" y="917.1" width="55.2" height="50.28" fill="#ce695b"/>
<rect x="2294" y="917.1" width="55.2" height="50.28" fill="#ced5e0"/>
<rect x="1909.7" y="967.08" width="55.2" height="50.28" fill="#e2988c"/>
<rect x="1964.6" y="967.08" width="55.2" height="50.28" fill="#da8376"/>
<rect x="2019.5" y="967.08" width="55.2" height="50.28" fill="#ce695b"/>
<rect x="2074.4" y="967.08" width="55.2" height="50.28" fill="#f1c1b8"/>
<rect x="2129.3" y="967.08" width="55.2" height="50.28" fill="#da8376"/>
<rect x="2184.2" y="967.08" width="55.2" height="50.28" fill="#e6a297"/>
<rect x="2239.1" y="967.08" width="55.2" height="50.28" fill="#f9e0db"/>
<rect x="2294" y="967.08" width="55.2" height="50.28" fill="#808080"/>
<rect x="1909.7" y="1017.05" width="55.2" height="50.28" fill="#e2988c"/>
<rect x="1964.6" y="1017.05" width="55.2" height="50.28" fill="#cc6457"/>
<rect x="2019.5" y="1017.05" width="55.2" height="50.28" fill="#d5796b"/>
<rect x="2074.4" y="1017.05" width="55.2" height="50.28" fill="#f5d1cb"/>
<rect x="2129.3" y="1017.05" width="55.2" height="50.28" fill="#f2c5bd"/>
<rect x="2184.2" y="1017.05" width="55.2" height="50.28" fill="#e2988c"/>
<rect x="2239.1" y="1017.05" width="55.2" height="50.28" fill="#f6d5cf"/>
<rect x="2294" y="1017.05" width="55.2" height="50.28" fill="#da8376"/>
<rect x="1909.7" y="1067.03" width="55.2" height="50.27" fill="#c45549"/>
<rect x="1964.6" y="1067.03" width="55.2" height="50.27" fill="#c14f43"/>
<rect x="2019.5" y="1067.03" width="55.2" height="50.27" fill="#fbeae7"/>
<rect x="2074.4" y="1067.03" width="55.2" height="50.27" fill="#f6d5cf"/>
<rect x="2129.3" y="1067.03" width="55.2" height="50.27" fill="#de8e81"/>
<rect x="2184.2" y="1067.03" width="55.2" height="50.27" fill="#e19487"/>
<rect x="2239.1" y="1067.03" width="55.2" height="50.27" fill="#f9e0db"/>
<rect x="2294" y="1067.03" width="55.2" height="50.27" fill="#dc877a"/>
</g>
<path d="M1904.7 112.7 V1121.3 H2353.9" fill="none" stroke="#000" stroke-width="2.5"/>
<line x1="1898.4" y1="142.49" x2="1904.7" y2="142.49" stroke="#333" stroke-width="2.5"/>
<text x="1894.9" y="150.49" text-anchor="end" font-style="italic" fill="#62b6cb" font-size="20.83">C8a</text>
<line x1="1898.4" y1="192.46" x2="1904.7" y2="192.46" stroke="#333" stroke-width="2.5"/>
<text x="1894.9" y="200.46" text-anchor="end" font-style="italic" fill="#62b6cb" font-size="20.83">Fgg</text>
<line x1="1898.4" y1="242.44" x2="1904.7" y2="242.44" stroke="#333" stroke-width="2.5"/>
<text x="1894.9" y="250.44" text-anchor="end" font-style="italic" fill="#62b6cb" font-size="20.83">F10</text>
<line x1="1898.4" y1="292.41" x2="1904.7" y2="292.41" stroke="#333" stroke-width="2.5"/>
<text x="1894.9" y="300.41" text-anchor="end" font-style="italic" fill="#62b6cb" font-size="20.83">Cps1</text>
<line x1="1898.4" y1="342.39" x2="1904.7" y2="342.39" stroke="#333" stroke-width="2.5"/>
<text x="1894.9" y="350.39" text-anchor="end" font-style="italic" fill="#62b6cb" font-size="20.83">Abcb11</text>
<line x1="1898.4" y1="392.36" x2="1904.7" y2="392.36" stroke="#333" stroke-width="2.5"/>
<text x="1894.9" y="400.36" text-anchor="end" font-style="italic" fill="#62b6cb" font-size="20.83">Esr1</text>
<line x1="1898.4" y1="442.34" x2="1904.7" y2="442.34" stroke="#333" stroke-width="2.5"/>
<text x="1894.9" y="450.34" text-anchor="end" font-style="italic" fill="#62b6cb" font-size="20.83">Lsr</text>
<line x1="1898.4" y1="492.31" x2="1904.7" y2="492.31" stroke="#333" stroke-width="2.5"/>
<text x="1894.9" y="500.31" text-anchor="end" font-style="italic" fill="#62b6cb" font-size="20.83">Lifr</text>
<line x1="1898.4" y1="542.29" x2="1904.7" y2="542.29" stroke="#333" stroke-width="2.5"/>
<text x="1894.9" y="550.29" text-anchor="end" font-style="italic" fill="#62b6cb" font-size="20.83">Pdia5</text>
<line x1="1898.4" y1="592.26" x2="1904.7" y2="592.26" stroke="#333" stroke-width="2.5"/>
<text x="1894.9" y="600.26" text-anchor="end" font-style="italic" fill="#62b6cb" font-size="20.83">Atxn1</text>
<line x1="1898.4" y1="642.24" x2="1904.7" y2="642.24" stroke="#333" stroke-width="2.5"/>
<text x="1894.9" y="650.24" text-anchor="end" font-style="italic" fill="#1b4965" font-size="20.83">St6gal1</text>
<line x1="1898.4" y1="692.21" x2="1904.7" y2="692.21" stroke="#333" stroke-width="2.5"/>
<text x="1894.9" y="700.21" text-anchor="end" font-style="italic" fill="#1b4965" font-size="20.83">C8b</text>
<line x1="1898.4" y1="742.19" x2="1904.7" y2="742.19" stroke="#333" stroke-width="2.5"/>
<text x="1894.9" y="750.19" text-anchor="end" font-style="italic" fill="#1b4965" font-size="20.83">Egfr</text>
<line x1="1898.4" y1="792.16" x2="1904.7" y2="792.16" stroke="#333" stroke-width="2.5"/>
<text x="1894.9" y="800.16" text-anchor="end" font-style="italic" fill="#1b4965" font-size="20.83">Itih1</text>
<line x1="1898.4" y1="842.14" x2="1904.7" y2="842.14" stroke="#333" stroke-width="2.5"/>
<text x="1894.9" y="850.14" text-anchor="end" font-style="italic" fill="#1b4965" font-size="20.83">Il13ra1</text>
<line x1="1898.4" y1="892.11" x2="1904.7" y2="892.11" stroke="#333" stroke-width="2.5"/>
<text x="1894.9" y="900.11" text-anchor="end" font-style="italic" fill="#1b4965" font-size="20.83">Slc30a10</text>
<line x1="1898.4" y1="942.09" x2="1904.7" y2="942.09" stroke="#333" stroke-width="2.5"/>
<text x="1894.9" y="950.09" text-anchor="end" font-style="italic" fill="#1b4965" font-size="20.83">Serpinf2</text>
<line x1="1898.4" y1="992.06" x2="1904.7" y2="992.06" stroke="#333" stroke-width="2.5"/>
<text x="1894.9" y="1000.06" text-anchor="end" font-style="italic" fill="#1b4965" font-size="20.83">Amfr</text>
<line x1="1898.4" y1="1042.04" x2="1904.7" y2="1042.04" stroke="#333" stroke-width="2.5"/>
<text x="1894.9" y="1050.04" text-anchor="end" font-style="italic" fill="#1b4965" font-size="20.83">Cyp4f14</text>
<line x1="1898.4" y1="1092.01" x2="1904.7" y2="1092.01" stroke="#333" stroke-width="2.5"/>
<text x="1894.9" y="1100.01" text-anchor="end" font-style="italic" fill="#1b4965" font-size="20.83">Erp44</text>
<line x1="1937.15" y1="1121.3" x2="1937.15" y2="1128.1" stroke="#333" stroke-width="2.5"/>
<g transform="translate(1934.95,1136.4) rotate(-45)" fill="#4d4d4d" font-size="20.83" text-anchor="end"><text x="0" y="16">This Study</text><text x="0" y="34.8">Mouse snRNA–seq</text></g>
<line x1="1992.05" y1="1121.3" x2="1992.05" y2="1128.1" stroke="#333" stroke-width="2.5"/>
<g transform="translate(1989.85,1136.4) rotate(-45)" fill="#4d4d4d" font-size="20.83" text-anchor="end"><text x="0" y="16">This Study</text><text x="0" y="34.8">Mouse scRNA–seq</text></g>
<line x1="2046.95" y1="1121.3" x2="2046.95" y2="1128.1" stroke="#333" stroke-width="2.5"/>
<g transform="translate(2044.75,1136.4) rotate(-45)" fill="#4d4d4d" font-size="20.83" text-anchor="end"><text x="0" y="16">This Study</text><text x="0" y="34.8">Mouse Tumor snRNA–seq</text></g>
<line x1="2101.85" y1="1121.3" x2="2101.85" y2="1128.1" stroke="#333" stroke-width="2.5"/>
<g transform="translate(2099.65,1136.4) rotate(-45)" fill="#4d4d4d" font-size="20.83" text-anchor="end"><text x="0" y="16">Filliol et al.</text><text x="0" y="34.8">Human snRNA–seq</text></g>
<line x1="2156.75" y1="1121.3" x2="2156.75" y2="1128.1" stroke="#333" stroke-width="2.5"/>
<g transform="translate(2154.55,1136.4) rotate(-45)" fill="#4d4d4d" font-size="20.83" text-anchor="end"><text x="0" y="16">Govaere et al.</text><text x="0" y="34.8">Human Bulk RNA–seq</text></g>
<line x1="2211.65" y1="1121.3" x2="2211.65" y2="1128.1" stroke="#333" stroke-width="2.5"/>
<g transform="translate(2209.45,1136.4) rotate(-45)" fill="#4d4d4d" font-size="20.83" text-anchor="end"><text x="0" y="16">Pantano et al.</text><text x="0" y="34.8">Human Bulk RNA–seq</text></g>
<line x1="2266.55" y1="1121.3" x2="2266.55" y2="1128.1" stroke="#333" stroke-width="2.5"/>
<g transform="translate(2264.35,1136.4) rotate(-45)" fill="#4d4d4d" font-size="20.83" text-anchor="end"><text x="0" y="16">Hoang et al.</text><text x="0" y="34.8">Human Bulk RNA–seq</text></g>
<line x1="2321.45" y1="1121.3" x2="2321.45" y2="1128.1" stroke="#333" stroke-width="2.5"/>
<g transform="translate(2319.25,1136.4) rotate(-45)" fill="#4d4d4d" font-size="20.83" text-anchor="end"><text x="0" y="16">Niu et al.</text><text x="0" y="34.8">Human Bulk Proteomics</text></g>
<text x="2129.3" y="60.5" text-anchor="middle" font-size="41.67">Sustained</text>
<text x="2129.3" y="93" text-anchor="middle" font-size="41.67">Downregulation</text>
<text x="1784.4" y="35.5" font-size="41.67">D</text>
<g shape-rendering="crispEdges">
<rect x="2499.3" y="116" width="55.2" height="33.1" fill="#b93f35"/>
<rect x="2554.2" y="116" width="55.2" height="33.1" fill="#c75a4d"/>
<rect x="2609.1" y="116" width="55.2" height="33.1" fill="#c45549"/>
<rect x="2664" y="116" width="55.2" height="33.1" fill="#be483d"/>
<rect x="2718.9" y="116" width="55.2" height="33.1" fill="#cc6457"/>
<rect x="2773.8" y="116" width="55.2" height="33.1" fill="#d37365"/>
<rect x="2828.7" y="116" width="55.2" height="33.1" fill="#c45549"/>
<rect x="2883.6" y="116" width="55.2" height="33.1" fill="#808080"/>
<rect x="2499.3" y="148.8" width="55.2" height="33.1" fill="#b93f35"/>
<rect x="2554.2" y="148.8" width="55.2" height="33.1" fill="#d5796b"/>
<rect x="2609.1" y="148.8" width="55.2" height="33.1" fill="#c95e51"/>
<rect x="2664" y="148.8" width="55.2" height="33.1" fill="#cb6255"/>
<rect x="2718.9" y="148.8" width="55.2" height="33.1" fill="#c45549"/>
<rect x="2773.8" y="148.8" width="55.2" height="33.1" fill="#cc6457"/>
<rect x="2828.7" y="148.8" width="55.2" height="33.1" fill="#c35347"/>
<rect x="2883.6" y="148.8" width="55.2" height="33.1" fill="#dc877a"/>
<rect x="2499.3" y="181.6" width="55.2" height="33.1" fill="#e6a297"/>
<rect x="2554.2" y="181.6" width="55.2" height="33.1" fill="#de8e81"/>
<rect x="2609.1" y="181.6" width="55.2" height="33.1" fill="#e09285"/>
<rect x="2664" y="181.6" width="55.2" height="33.1" fill="#d87f72"/>
<rect x="2718.9" y="181.6" width="55.2" height="33.1" fill="#d37365"/>
<rect x="2773.8" y="181.6" width="55.2" height="33.1" fill="#808080"/>
<rect x="2828.7" y="181.6" width="55.2" height="33.1" fill="#c35347"/>
<rect x="2883.6" y="181.6" width="55.2" height="33.1" fill="#808080"/>
<rect x="2499.3" y="214.4" width="55.2" height="33.1" fill="#f2c5bd"/>
<rect x="2554.2" y="214.4" width="55.2" height="33.1" fill="#e8a69b"/>
<rect x="2609.1" y="214.4" width="55.2" height="33.1" fill="#e19487"/>
<rect x="2664" y="214.4" width="55.2" height="33.1" fill="#e49c90"/>
<rect x="2718.9" y="214.4" width="55.2" height="33.1" fill="#d16f61"/>
<rect x="2773.8" y="214.4" width="55.2" height="33.1" fill="#da8376"/>
<rect x="2828.7" y="214.4" width="55.2" height="33.1" fill="#cc6457"/>
<rect x="2883.6" y="214.4" width="55.2" height="33.1" fill="#808080"/>
<rect x="2499.3" y="247.2" width="55.2" height="33.1" fill="#da8376"/>
<rect x="2554.2" y="247.2" width="55.2" height="33.1" fill="#e8a89d"/>
<rect x="2609.1" y="247.2" width="55.2" height="33.1" fill="#c35347"/>
<rect x="2664" y="247.2" width="55.2" height="33.1" fill="#f5d1cb"/>
<rect x="2718.9" y="247.2" width="55.2" height="33.1" fill="#f2c5bd"/>
<rect x="2773.8" y="247.2" width="55.2" height="33.1" fill="#de8e81"/>
<rect x="2828.7" y="247.2" width="55.2" height="33.1" fill="#dc877a"/>
<rect x="2883.6" y="247.2" width="55.2" height="33.1" fill="#808080"/>
<rect x="2499.3" y="280" width="55.2" height="33.1" fill="#c5cedb"/>
<rect x="2554.2" y="280" width="55.2" height="33.1" fill="#edb6ad"/>
<rect x="2609.1" y="280" width="55.2" height="33.1" fill="#e6a297"/>
<rect x="2664" y="280" width="55.2" height="33.1" fill="#fbeae7"/>
<rect x="2718.9" y="280" width="55.2" height="33.1" fill="#dc877a"/>
<rect x="2773.8" y="280" width="55.2" height="33.1" fill="#dc877a"/>
<rect x="2828.7" y="280" width="55.2" height="33.1" fill="#cc6457"/>
<rect x="2883.6" y="280" width="55.2" height="33.1" fill="#c95e51"/>
<rect x="2499.3" y="312.8" width="55.2" height="33.1" fill="#e8a89d"/>
<rect x="2554.2" y="312.8" width="55.2" height="33.1" fill="#d7dde6"/>
<rect x="2609.1" y="312.8" width="55.2" height="33.1" fill="#c75a4d"/>
<rect x="2664" y="312.8" width="55.2" height="33.1" fill="#e49c90"/>
<rect x="2718.9" y="312.8" width="55.2" height="33.1" fill="#e8a89d"/>
<rect x="2773.8" y="312.8" width="55.2" height="33.1" fill="#eaaca2"/>
<rect x="2828.7" y="312.8" width="55.2" height="33.1" fill="#f1c1b8"/>
<rect x="2883.6" y="312.8" width="55.2" height="33.1" fill="#eaaca2"/>
<rect x="2499.3" y="345.6" width="55.2" height="33.1" fill="#f7d9d4"/>
<rect x="2554.2" y="345.6" width="55.2" height="33.1" fill="#d7dde6"/>
<rect x="2609.1" y="345.6" width="55.2" height="33.1" fill="#da8376"/>
<rect x="2664" y="345.6" width="55.2" height="33.1" fill="#efbab1"/>
<rect x="2718.9" y="345.6" width="55.2" height="33.1" fill="#dc877a"/>
<rect x="2773.8" y="345.6" width="55.2" height="33.1" fill="#eaaca2"/>
<rect x="2828.7" y="345.6" width="55.2" height="33.1" fill="#d16f61"/>
<rect x="2883.6" y="345.6" width="55.2" height="33.1" fill="#808080"/>
<rect x="2499.3" y="378.4" width="55.2" height="33.1" fill="#b3bfd0"/>
<rect x="2554.2" y="378.4" width="55.2" height="33.1" fill="#ffffff"/>
<rect x="2609.1" y="378.4" width="55.2" height="33.1" fill="#ce695b"/>
<rect x="2664" y="378.4" width="55.2" height="33.1" fill="#cc6457"/>
<rect x="2718.9" y="378.4" width="55.2" height="33.1" fill="#808080"/>
<rect x="2773.8" y="378.4" width="55.2" height="33.1" fill="#eaaca2"/>
<rect x="2828.7" y="378.4" width="55.2" height="33.1" fill="#ebb0a6"/>
<rect x="2883.6" y="378.4" width="55.2" height="33.1" fill="#808080"/>
<rect x="2499.3" y="411.2" width="55.2" height="33.1" fill="#a6b4c7"/>
<rect x="2554.2" y="411.2" width="55.2" height="33.1" fill="#ebeef2"/>
<rect x="2609.1" y="411.2" width="55.2" height="33.1" fill="#c75a4d"/>
<rect x="2664" y="411.2" width="55.2" height="33.1" fill="#f7d9d4"/>
<rect x="2718.9" y="411.2" width="55.2" height="33.1" fill="#e19487"/>
<rect x="2773.8" y="411.2" width="55.2" height="33.1" fill="#ebb0a6"/>
<rect x="2828.7" y="411.2" width="55.2" height="33.1" fill="#da8376"/>
<rect x="2883.6" y="411.2" width="55.2" height="33.1" fill="#808080"/>
</g>
<path d="M2494.3 112.7 V447.8 H2943.5" fill="none" stroke="#000" stroke-width="2.5"/>
<line x1="2488" y1="132.4" x2="2494.3" y2="132.4" stroke="#333" stroke-width="2.5"/>
<text x="2484.5" y="140.4" text-anchor="end" font-style="italic" fill="#1b4965" font-size="20.83">Cdkn1a</text>
<line x1="2488" y1="165.2" x2="2494.3" y2="165.2" stroke="#333" stroke-width="2.5"/>
<text x="2484.5" y="173.2" text-anchor="end" font-style="italic" fill="#1b4965" font-size="20.83">Krt8</text>
<line x1="2488" y1="198" x2="2494.3" y2="198" stroke="#333" stroke-width="2.5"/>
<text x="2484.5" y="206" text-anchor="end" font-style="italic" fill="#1b4965" font-size="20.83">Cd24a</text>
<line x1="2488" y1="230.8" x2="2494.3" y2="230.8" stroke="#333" stroke-width="2.5"/>
<text x="2484.5" y="238.8" text-anchor="end" font-style="italic" fill="#1b4965" font-size="20.83">Sox9</text>
<line x1="2488" y1="263.6" x2="2494.3" y2="263.6" stroke="#333" stroke-width="2.5"/>
<text x="2484.5" y="271.6" text-anchor="end" font-style="italic" fill="#1b4965" font-size="20.83">Hes1</text>
<line x1="2488" y1="296.4" x2="2494.3" y2="296.4" stroke="#333" stroke-width="2.5"/>
<text x="2484.5" y="304.4" text-anchor="end" font-style="italic" fill="#1b4965" font-size="20.83">Epcam</text>
<line x1="2488" y1="329.2" x2="2494.3" y2="329.2" stroke="#333" stroke-width="2.5"/>
<text x="2484.5" y="337.2" text-anchor="end" font-style="italic" fill="#1b4965" font-size="20.83">Igfbp3</text>
<line x1="2488" y1="362" x2="2494.3" y2="362" stroke="#333" stroke-width="2.5"/>
<text x="2484.5" y="370" text-anchor="end" font-style="italic" fill="#1b4965" font-size="20.83">Jag1</text>
<line x1="2488" y1="394.8" x2="2494.3" y2="394.8" stroke="#333" stroke-width="2.5"/>
<text x="2484.5" y="402.8" text-anchor="end" font-style="italic" fill="#1b4965" font-size="20.83">Ddr1</text>
<line x1="2488" y1="427.6" x2="2494.3" y2="427.6" stroke="#333" stroke-width="2.5"/>
<text x="2484.5" y="435.6" text-anchor="end" font-style="italic" fill="#1b4965" font-size="20.83">Prom1</text>
<line x1="2526.75" y1="447.8" x2="2526.75" y2="454.6" stroke="#333" stroke-width="2.5"/>
<g transform="translate(2524.55,462.9) rotate(-45)" fill="#4d4d4d" font-size="20.83" text-anchor="end"><text x="0" y="16">This Study</text><text x="0" y="34.8">Mouse snRNA–seq</text></g>
<line x1="2581.65" y1="447.8" x2="2581.65" y2="454.6" stroke="#333" stroke-width="2.5"/>
<g transform="translate(2579.45,462.9) rotate(-45)" fill="#4d4d4d" font-size="20.83" text-anchor="end"><text x="0" y="16">This Study</text><text x="0" y="34.8">Mouse scRNA–seq</text></g>
<line x1="2636.55" y1="447.8" x2="2636.55" y2="454.6" stroke="#333" stroke-width="2.5"/>
<g transform="translate(2634.35,462.9) rotate(-45)" fill="#4d4d4d" font-size="20.83" text-anchor="end"><text x="0" y="16">This Study</text><text x="0" y="34.8">Mouse Tumor snRNA–seq</text></g>
<line x1="2691.45" y1="447.8" x2="2691.45" y2="454.6" stroke="#333" stroke-width="2.5"/>
<g transform="translate(2689.25,462.9) rotate(-45)" fill="#4d4d4d" font-size="20.83" text-anchor="end"><text x="0" y="16">Filliol et al.</text><text x="0" y="34.8">Human snRNA–seq</text></g>
<line x1="2746.35" y1="447.8" x2="2746.35" y2="454.6" stroke="#333" stroke-width="2.5"/>
<g transform="translate(2744.15,462.9) rotate(-45)" fill="#4d4d4d" font-size="20.83" text-anchor="end"><text x="0" y="16">Govaere et al.</text><text x="0" y="34.8">Human Bulk RNA–seq</text></g>
<line x1="2801.25" y1="447.8" x2="2801.25" y2="454.6" stroke="#333" stroke-width="2.5"/>
<g transform="translate(2799.05,462.9) rotate(-45)" fill="#4d4d4d" font-size="20.83" text-anchor="end"><text x="0" y="16">Pantano et al.</text><text x="0" y="34.8">Human Bulk RNA–seq</text></g>
<line x1="2856.15" y1="447.8" x2="2856.15" y2="454.6" stroke="#333" stroke-width="2.5"/>
<g transform="translate(2853.95,462.9) rotate(-45)" fill="#4d4d4d" font-size="20.83" text-anchor="end"><text x="0" y="16">Hoang et al.</text><text x="0" y="34.8">Human Bulk RNA–seq</text></g>
<line x1="2911.05" y1="447.8" x2="2911.05" y2="454.6" stroke="#333" stroke-width="2.5"/>
<g transform="translate(2908.85,462.9) rotate(-45)" fill="#4d4d4d" font-size="20.83" text-anchor="end"><text x="0" y="16">Niu et al.</text><text x="0" y="34.8">Human Bulk Proteomics</text></g>
<text x="2718.9" y="60.5" text-anchor="middle" font-size="41.67">Development-Associated</text>
<text x="2718.9" y="93" text-anchor="middle" font-size="41.67">Hepatocyte</text>
<text x="2379" y="35.5" font-size="41.67">E</text>
<g shape-rendering="crispEdges">
<rect x="2499.3" y="790.6" width="55.2" height="33.1" fill="#b2302a"/>
<rect x="2554.2" y="790.6" width="55.2" height="33.1" fill="#c45549"/>
<rect x="2609.1" y="790.6" width="55.2" height="33.1" fill="#d37365"/>
<rect x="2664" y="790.6" width="55.2" height="33.1" fill="#d37365"/>
<rect x="2718.9" y="790.6" width="55.2" height="33.1" fill="#be483d"/>
<rect x="2773.8" y="790.6" width="55.2" height="33.1" fill="#c14f43"/>
<rect x="2828.7" y="790.6" width="55.2" height="33.1" fill="#be483d"/>
<rect x="2883.6" y="790.6" width="55.2" height="33.1" fill="#c14f43"/>
<rect x="2499.3" y="823.4" width="55.2" height="33.1" fill="#d5796b"/>
<rect x="2554.2" y="823.4" width="55.2" height="33.1" fill="#d37365"/>
<rect x="2609.1" y="823.4" width="55.2" height="33.1" fill="#cc6457"/>
<rect x="2664" y="823.4" width="55.2" height="33.1" fill="#b6372f"/>
<rect x="2718.9" y="823.4" width="55.2" height="33.1" fill="#cc6457"/>
<rect x="2773.8" y="823.4" width="55.2" height="33.1" fill="#d5796b"/>
<rect x="2828.7" y="823.4" width="55.2" height="33.1" fill="#c14f43"/>
<rect x="2883.6" y="823.4" width="55.2" height="33.1" fill="#bc4439"/>
<rect x="2499.3" y="856.2" width="55.2" height="33.1" fill="#c14f43"/>
<rect x="2554.2" y="856.2" width="55.2" height="33.1" fill="#cf6b5d"/>
<rect x="2609.1" y="856.2" width="55.2" height="33.1" fill="#d77d70"/>
<rect x="2664" y="856.2" width="55.2" height="33.1" fill="#d77d70"/>
<rect x="2718.9" y="856.2" width="55.2" height="33.1" fill="#c95e51"/>
<rect x="2773.8" y="856.2" width="55.2" height="33.1" fill="#c75a4d"/>
<rect x="2828.7" y="856.2" width="55.2" height="33.1" fill="#bf4a3f"/>
<rect x="2883.6" y="856.2" width="55.2" height="33.1" fill="#c14f43"/>
<rect x="2499.3" y="889" width="55.2" height="33.1" fill="#f6d5cf"/>
<rect x="2554.2" y="889" width="55.2" height="33.1" fill="#d37365"/>
<rect x="2609.1" y="889" width="55.2" height="33.1" fill="#b93f35"/>
<rect x="2664" y="889" width="55.2" height="33.1" fill="#d5796b"/>
<rect x="2718.9" y="889" width="55.2" height="33.1" fill="#c75a4d"/>
<rect x="2773.8" y="889" width="55.2" height="33.1" fill="#b83c33"/>
<rect x="2828.7" y="889" width="55.2" height="33.1" fill="#b6372f"/>
<rect x="2883.6" y="889" width="55.2" height="33.1" fill="#bc4439"/>
<rect x="2499.3" y="921.8" width="55.2" height="33.1" fill="#ce695b"/>
<rect x="2554.2" y="921.8" width="55.2" height="33.1" fill="#ebb0a6"/>
<rect x="2609.1" y="921.8" width="55.2" height="33.1" fill="#c35347"/>
<rect x="2664" y="921.8" width="55.2" height="33.1" fill="#bf4a3f"/>
<rect x="2718.9" y="921.8" width="55.2" height="33.1" fill="#d16f61"/>
<rect x="2773.8" y="921.8" width="55.2" height="33.1" fill="#d37365"/>
<rect x="2828.7" y="921.8" width="55.2" height="33.1" fill="#b6372f"/>
<rect x="2883.6" y="921.8" width="55.2" height="33.1" fill="#c75a4d"/>
<rect x="2499.3" y="954.6" width="55.2" height="33.1" fill="#b02a26"/>
<rect x="2554.2" y="954.6" width="55.2" height="33.1" fill="#c45549"/>
<rect x="2609.1" y="954.6" width="55.2" height="33.1" fill="#bc4439"/>
<rect x="2664" y="954.6" width="55.2" height="33.1" fill="#c14f43"/>
<rect x="2718.9" y="954.6" width="55.2" height="33.1" fill="#e19487"/>
<rect x="2773.8" y="954.6" width="55.2" height="33.1" fill="#e19487"/>
<rect x="2828.7" y="954.6" width="55.2" height="33.1" fill="#de8e81"/>
<rect x="2883.6" y="954.6" width="55.2" height="33.1" fill="#da8376"/>
<rect x="2499.3" y="987.4" width="55.2" height="33.1" fill="#c14f43"/>
<rect x="2554.2" y="987.4" width="55.2" height="33.1" fill="#e6a297"/>
<rect x="2609.1" y="987.4" width="55.2" height="33.1" fill="#c45549"/>
<rect x="2664" y="987.4" width="55.2" height="33.1" fill="#c14f43"/>
<rect x="2718.9" y="987.4" width="55.2" height="33.1" fill="#de8e81"/>
<rect x="2773.8" y="987.4" width="55.2" height="33.1" fill="#e2988c"/>
<rect x="2828.7" y="987.4" width="55.2" height="33.1" fill="#bc4439"/>
<rect x="2883.6" y="987.4" width="55.2" height="33.1" fill="#da8376"/>
<rect x="2499.3" y="1020.2" width="55.2" height="33.1" fill="#c75a4d"/>
<rect x="2554.2" y="1020.2" width="55.2" height="33.1" fill="#da8376"/>
<rect x="2609.1" y="1020.2" width="55.2" height="33.1" fill="#c35347"/>
<rect x="2664" y="1020.2" width="55.2" height="33.1" fill="#e2988c"/>
<rect x="2718.9" y="1020.2" width="55.2" height="33.1" fill="#e6a297"/>
<rect x="2773.8" y="1020.2" width="55.2" height="33.1" fill="#e2988c"/>
<rect x="2828.7" y="1020.2" width="55.2" height="33.1" fill="#c45549"/>
<rect x="2883.6" y="1020.2" width="55.2" height="33.1" fill="#c14f43"/>
<rect x="2499.3" y="1053" width="55.2" height="33.1" fill="#e2988c"/>
<rect x="2554.2" y="1053" width="55.2" height="33.1" fill="#d87f72"/>
<rect x="2609.1" y="1053" width="55.2" height="33.1" fill="#c35347"/>
<rect x="2664" y="1053" width="55.2" height="33.1" fill="#e2988c"/>
<rect x="2718.9" y="1053" width="55.2" height="33.1" fill="#808080"/>
<rect x="2773.8" y="1053" width="55.2" height="33.1" fill="#d87f72"/>
<rect x="2828.7" y="1053" width="55.2" height="33.1" fill="#c14f43"/>
<rect x="2883.6" y="1053" width="55.2" height="33.1" fill="#808080"/>
<rect x="2499.3" y="1085.8" width="55.2" height="33.1" fill="#da8376"/>
<rect x="2554.2" y="1085.8" width="55.2" height="33.1" fill="#d16f61"/>
<rect x="2609.1" y="1085.8" width="55.2" height="33.1" fill="#d16f61"/>
<rect x="2664" y="1085.8" width="55.2" height="33.1" fill="#de8e81"/>
<rect x="2718.9" y="1085.8" width="55.2" height="33.1" fill="#e8a89d"/>
<rect x="2773.8" y="1085.8" width="55.2" height="33.1" fill="#d5796b"/>
<rect x="2828.7" y="1085.8" width="55.2" height="33.1" fill="#c14f43"/>
<rect x="2883.6" y="1085.8" width="55.2" height="33.1" fill="#808080"/>
</g>
<path d="M2494.3 787.3 V1122 H2943.5" fill="none" stroke="#000" stroke-width="2.5"/>
<line x1="2488" y1="807" x2="2494.3" y2="807" stroke="#333" stroke-width="2.5"/>
<text x="2484.5" y="815" text-anchor="end" font-style="italic" fill="#1b4965" font-size="20.83">Cd74</text>
<line x1="2488" y1="839.8" x2="2494.3" y2="839.8" stroke="#333" stroke-width="2.5"/>
<text x="2484.5" y="847.8" text-anchor="end" font-style="italic" fill="#1b4965" font-size="20.83">Arpc1b</text>
<line x1="2488" y1="872.6" x2="2494.3" y2="872.6" stroke="#333" stroke-width="2.5"/>
<text x="2484.5" y="880.6" text-anchor="end" font-style="italic" fill="#1b4965" font-size="20.83">Flna</text>
<line x1="2488" y1="905.4" x2="2494.3" y2="905.4" stroke="#333" stroke-width="2.5"/>
<text x="2484.5" y="913.4" text-anchor="end" font-style="italic" fill="#1b4965" font-size="20.83">S100a11</text>
<line x1="2488" y1="938.2" x2="2494.3" y2="938.2" stroke="#333" stroke-width="2.5"/>
<text x="2484.5" y="946.2" text-anchor="end" font-style="italic" fill="#1b4965" font-size="20.83">Pea15a</text>
<line x1="2488" y1="971" x2="2494.3" y2="971" stroke="#333" stroke-width="2.5"/>
<text x="2484.5" y="979" text-anchor="end" font-style="italic" fill="#1b4965" font-size="20.83">Gnai2</text>
<line x1="2488" y1="1003.8" x2="2494.3" y2="1003.8" stroke="#333" stroke-width="2.5"/>
<text x="2484.5" y="1011.8" text-anchor="end" font-style="italic" fill="#1b4965" font-size="20.83">Atp1b3</text>
<line x1="2488" y1="1036.6" x2="2494.3" y2="1036.6" stroke="#333" stroke-width="2.5"/>
<text x="2484.5" y="1044.6" text-anchor="end" font-style="italic" fill="#1b4965" font-size="20.83">Anxa5</text>
<line x1="2488" y1="1069.4" x2="2494.3" y2="1069.4" stroke="#333" stroke-width="2.5"/>
<text x="2484.5" y="1077.4" text-anchor="end" font-style="italic" fill="#1b4965" font-size="20.83">Ier3</text>
<line x1="2488" y1="1102.2" x2="2494.3" y2="1102.2" stroke="#333" stroke-width="2.5"/>
<text x="2484.5" y="1110.2" text-anchor="end" font-style="italic" fill="#1b4965" font-size="20.83">Srgn</text>
<line x1="2526.75" y1="1122" x2="2526.75" y2="1128.8" stroke="#333" stroke-width="2.5"/>
<g transform="translate(2524.55,1137.1) rotate(-45)" fill="#4d4d4d" font-size="20.83" text-anchor="end"><text x="0" y="16">This Study</text><text x="0" y="34.8">Mouse snRNA–seq</text></g>
<line x1="2581.65" y1="1122" x2="2581.65" y2="1128.8" stroke="#333" stroke-width="2.5"/>
<g transform="translate(2579.45,1137.1) rotate(-45)" fill="#4d4d4d" font-size="20.83" text-anchor="end"><text x="0" y="16">This Study</text><text x="0" y="34.8">Mouse scRNA–seq</text></g>
<line x1="2636.55" y1="1122" x2="2636.55" y2="1128.8" stroke="#333" stroke-width="2.5"/>
<g transform="translate(2634.35,1137.1) rotate(-45)" fill="#4d4d4d" font-size="20.83" text-anchor="end"><text x="0" y="16">This Study</text><text x="0" y="34.8">Mouse Tumor snRNA–seq</text></g>
<line x1="2691.45" y1="1122" x2="2691.45" y2="1128.8" stroke="#333" stroke-width="2.5"/>
<g transform="translate(2689.25,1137.1) rotate(-45)" fill="#4d4d4d" font-size="20.83" text-anchor="end"><text x="0" y="16">Filliol et al.</text><text x="0" y="34.8">Human snRNA–seq</text></g>
<line x1="2746.35" y1="1122" x2="2746.35" y2="1128.8" stroke="#333" stroke-width="2.5"/>
<g transform="translate(2744.15,1137.1) rotate(-45)" fill="#4d4d4d" font-size="20.83" text-anchor="end"><text x="0" y="16">Govaere et al.</text><text x="0" y="34.8">Human Bulk RNA–seq</text></g>
<line x1="2801.25" y1="1122" x2="2801.25" y2="1128.8" stroke="#333" stroke-width="2.5"/>
<g transform="translate(2799.05,1137.1) rotate(-45)" fill="#4d4d4d" font-size="20.83" text-anchor="end"><text x="0" y="16">Pantano et al.</text><text x="0" y="34.8">Human Bulk RNA–seq</text></g>
<line x1="2856.15" y1="1122" x2="2856.15" y2="1128.8" stroke="#333" stroke-width="2.5"/>
<g transform="translate(2853.95,1137.1) rotate(-45)" fill="#4d4d4d" font-size="20.83" text-anchor="end"><text x="0" y="16">Hoang et al.</text><text x="0" y="34.8">Human Bulk RNA–seq</text></g>
<line x1="2911.05" y1="1122" x2="2911.05" y2="1128.8" stroke="#333" stroke-width="2.5"/>
<g transform="translate(2908.85,1137.1) rotate(-45)" fill="#4d4d4d" font-size="20.83" text-anchor="end"><text x="0" y="16">Niu et al.</text><text x="0" y="34.8">Human Bulk Proteomics</text></g>
<text x="2718.9" y="734.5" text-anchor="middle" font-size="41.67">Human HCC S1:</text>
<text x="2718.9" y="767" text-anchor="middle" font-size="41.67">WNT Activ.</text>
<text x="2380.1" y="710.3" font-size="30.5">F</text>
<text x="946.6" y="1380.6" fill="#62b6cb" font-size="25.4">Gene referenced in Figure 1</text>
<text x="948" y="1420.5" fill="#1b4965" font-size="25.4">Further top 10 driving genes (i.e., beyond</text>
<text x="948" y="1450.8" fill="#1b4965" font-size="25.4">genes referenced in Figure 1)</text>
<text x="1515.5" y="1403.5" font-size="25.4">Gene Correlation with</text>
<text x="1515.5" y="1430.8" font-size="25.4">Overall Module Score</text>
<defs><linearGradient id="cb1" x1="0" x2="1" y1="0" y2="0"><stop offset="0" stop-color="#1b4f78"/><stop offset="0.03" stop-color="#2b577e"/><stop offset="0.05" stop-color="#385f85"/><stop offset="0.07" stop-color="#44678b"/><stop offset="0.1" stop-color="#4f6f92"/><stop offset="0.12" stop-color="#5b7798"/><stop offset="0.15" stop-color="#66809f"/><stop offset="0.17" stop-color="#7088a6"/><stop offset="0.2" stop-color="#7b91ac"/><stop offset="0.23" stop-color="#8699b3"/><stop offset="0.25" stop-color="#91a2ba"/><stop offset="0.28" stop-color="#9cabc0"/><stop offset="0.3" stop-color="#a6b4c7"/><stop offset="0.33" stop-color="#b1bdce"/><stop offset="0.35" stop-color="#bcc6d5"/><stop offset="0.38" stop-color="#c7d0dc"/><stop offset="0.4" stop-color="#d2d9e3"/><stop offset="0.42" stop-color="#dde2ea"/><stop offset="0.45" stop-color="#e9ecf1"/><stop offset="0.47" stop-color="#f4f5f8"/><stop offset="0.5" stop-color="#ffffff"/><stop offset="0.53" stop-color="#fdf5f3"/><stop offset="0.55" stop-color="#fbeae7"/><stop offset="0.57" stop-color="#f9e0db"/><stop offset="0.6" stop-color="#f6d5cf"/><stop offset="0.62" stop-color="#f4cbc4"/><stop offset="0.65" stop-color="#f1c1b8"/><stop offset="0.68" stop-color="#edb6ad"/><stop offset="0.7" stop-color="#eaaca2"/><stop offset="0.72" stop-color="#e6a297"/><stop offset="0.75" stop-color="#e2988c"/><stop offset="0.78" stop-color="#de8e81"/><stop offset="0.8" stop-color="#da8376"/><stop offset="0.82" stop-color="#d5796b"/><stop offset="0.85" stop-color="#d16f61"/><stop offset="0.88" stop-color="#cc6457"/><stop offset="0.9" stop-color="#c75a4d"/><stop offset="0.93" stop-color="#c14f43"/><stop offset="0.95" stop-color="#bc4439"/><stop offset="0.97" stop-color="#b6372f"/><stop offset="1" stop-color="#b02a26"/></linearGradient></defs>
<rect x="1792.7" y="1372.3" width="198.4" height="40.1" fill="url(#cb1)"/>
<line x1="1793.3" y1="1372.3" x2="1793.3" y2="1380.32" stroke="#fff" stroke-width="1.3"/>
<line x1="1793.3" y1="1404.38" x2="1793.3" y2="1412.4" stroke="#fff" stroke-width="1.3"/>
<line x1="1842.3" y1="1372.3" x2="1842.3" y2="1380.32" stroke="#fff" stroke-width="1.3"/>
<line x1="1842.3" y1="1404.38" x2="1842.3" y2="1412.4" stroke="#fff" stroke-width="1.3"/>
<line x1="1941.5" y1="1372.3" x2="1941.5" y2="1380.32" stroke="#fff" stroke-width="1.3"/>
<line x1="1941.5" y1="1404.38" x2="1941.5" y2="1412.4" stroke="#fff" stroke-width="1.3"/>
<line x1="1990.5" y1="1372.3" x2="1990.5" y2="1380.32" stroke="#fff" stroke-width="1.3"/>
<line x1="1990.5" y1="1404.38" x2="1990.5" y2="1412.4" stroke="#fff" stroke-width="1.3"/>
<text x="1792.5" y="1439.5" text-anchor="middle" font-size="20.83">-1</text>
<text x="1891.9" y="1439.5" text-anchor="middle" font-size="20.83">0</text>
<text x="1990.7" y="1439.5" text-anchor="middle" font-size="20.83">1</text>
<text x="1472" y="1539.3" text-anchor="middle" font-size="41.67">Development-Associated Hepatocyte Gene Program</text>
<line x1="987" y1="1543.4" x2="1957" y2="1543.4" stroke="#000" stroke-width="2"/>
<text x="1472.1" y="2286.8" text-anchor="middle" font-size="42.25">Human HCC S1: WNT Activation Gene Program</text>
<line x1="1018.5" y1="2290.9" x2="1925.7" y2="2290.9" stroke="#000" stroke-width="2"/>
<line x1="0" y1="2219.4" x2="2944" y2="2219.4" stroke="#000" stroke-width="2.3"/>
<text x="11" y="1593" font-size="41.67">G</text>
<text x="255" y="1638.3" text-anchor="middle" font-size="37">MASLD Tumorigenesis</text>
<text x="255" y="1678.5" text-anchor="middle" font-size="37">Mouse snRNA–seq</text>
<text x="255" y="1722.6" text-anchor="middle" font-size="27.7">This Study (N = 6 samples,</text>
<text x="255" y="1752.2" text-anchor="middle" font-size="27.7">10,707 hepatocytes)</text>
<text text-anchor="middle" transform="translate(50.7,1930) rotate(-90)" font-size="32.2">Module Score (Arb. Units)</text>
<path d="M169.4 1773.5 V2085.7 H341.6" fill="none" stroke="#000" stroke-width="2.5"/>
<line x1="161.4" y1="1785.4" x2="169.4" y2="1785.4" stroke="#222" stroke-width="2.5"/>
<text x="153.8" y="1795.3" text-anchor="end" font-size="27.5">1.00</text>
<line x1="161.4" y1="1844.8" x2="169.4" y2="1844.8" stroke="#222" stroke-width="2.5"/>
<text x="153.8" y="1854.7" text-anchor="end" font-size="27.5">0.75</text>
<line x1="161.4" y1="1904.3" x2="169.4" y2="1904.3" stroke="#222" stroke-width="2.5"/>
<text x="153.8" y="1914.2" text-anchor="end" font-size="27.5">0.50</text>
<line x1="161.4" y1="1963.8" x2="169.4" y2="1963.8" stroke="#222" stroke-width="2.5"/>
<text x="153.8" y="1973.7" text-anchor="end" font-size="27.5">0.25</text>
<line x1="161.4" y1="2023.3" x2="169.4" y2="2023.3" stroke="#222" stroke-width="2.5"/>
<text x="153.8" y="2033.2" text-anchor="end" font-size="27.5">0.00</text>
<line x1="161.4" y1="2082.8" x2="169.4" y2="2082.8" stroke="#222" stroke-width="2.5"/>
<text x="153.8" y="2092.7" text-anchor="end" font-size="27.5">−0.25</text>
<line x1="216.12" y1="2085.7" x2="216.12" y2="2093.7" stroke="#222" stroke-width="2.5"/>
<g transform="translate(215.32,2100) rotate(-45)" font-size="27.4" text-anchor="end"><text x="0" y="20">Adj. Norm.</text><text x="-7" y="44.6">High Fat</text></g>
<line x1="293.81" y1="2085.7" x2="293.81" y2="2093.7" stroke="#222" stroke-width="2.5"/>
<g transform="translate(293.01,2100) rotate(-45)" font-size="27.4" text-anchor="end"><text x="0" y="20">Tumor</text></g>
<path d="M216.12 1893.74C216.07 1899.5 215.95 1915.32 215.83 1928.27C215.71 1941.22 215.64 1961.85 215.4 1971.44C215.16 1981.03 214.75 1981.63 214.39 1985.83C214.03 1990.02 213.19 1993.26 213.24 1996.62C213.29 1999.98 214.39 2002.97 214.68 2005.97C214.96 2008.97 215.01 2011.73 214.96 2014.6C214.92 2017.48 216.83 2021.08 214.39 2023.24C211.94 2025.4 204.56 2026.35 200.29 2027.55C196.02 2028.75 191.85 2029.64 188.78 2030.43C185.71 2031.22 183.31 2031.77 181.87 2032.3C180.43 2032.83 180.14 2033.17 180.14 2033.6C180.14 2034.03 180.67 2034.34 181.87 2034.89C183.07 2035.44 185.23 2035.97 187.34 2036.91C189.45 2037.84 191.89 2039.18 194.53 2040.5C197.17 2041.82 200.65 2043.38 203.17 2044.82C205.68 2046.26 207.87 2047.58 209.64 2049.14C211.41 2050.7 212.93 2052.73 213.81 2054.17C214.7 2055.61 214.58 2056.33 214.96 2057.77C215.35 2059.21 215.92 2061.97 216.12 2062.81L216.12 2062.81C216.31 2061.97 216.88 2059.21 217.27 2057.77C217.65 2056.33 217.53 2055.61 218.42 2054.17C219.3 2052.73 220.82 2050.7 222.59 2049.14C224.36 2047.58 226.55 2046.26 229.06 2044.82C231.58 2043.38 235.06 2041.82 237.7 2040.5C240.34 2039.18 242.78 2037.84 244.89 2036.91C247 2035.97 249.16 2035.44 250.36 2034.89C251.56 2034.34 252.09 2034.03 252.09 2033.6C252.09 2033.17 251.8 2032.83 250.36 2032.3C248.92 2031.77 246.52 2031.22 243.45 2030.43C240.38 2029.64 236.21 2028.75 231.94 2027.55C227.67 2026.35 220.29 2025.4 217.84 2023.24C215.4 2021.08 217.31 2017.48 217.27 2014.6C217.22 2011.73 217.27 2008.97 217.55 2005.97C217.84 2002.97 218.94 1999.98 218.99 1996.62C219.04 1993.26 218.2 1990.02 217.84 1985.83C217.48 1981.63 217.07 1981.03 216.83 1971.44C216.59 1961.85 216.52 1941.22 216.4 1928.27C216.28 1915.32 216.16 1899.5 216.12 1893.74Z" fill="#f57f20" stroke="#333333" stroke-width="2.5" stroke-linejoin="round"/>
<line x1="216.12" y1="1893.74" x2="216.12" y2="2028.99" stroke="#333333" stroke-width="2.5"/>
<line x1="216.12" y1="2039.06" x2="216.12" y2="2062.81" stroke="#333333" stroke-width="2.5"/>
<rect x="207.63" y="2028.99" width="16.98" height="10.07" fill="#f57f20" stroke="#333333" stroke-width="2.5"/>
<line x1="207.63" y1="2033.6" x2="224.6" y2="2033.6" stroke="#333333" stroke-width="2.5"/>
<path d="M293.81 1800.94C293.76 1812.57 293.65 1851.89 293.53 1870.72C293.41 1889.54 293.33 1901.89 293.09 1913.88C292.85 1925.88 292.45 1935.47 292.09 1942.66C291.73 1949.86 291.41 1952.25 290.94 1957.05C290.46 1961.85 290.05 1966.64 289.21 1971.44C288.37 1976.24 286.62 1981.99 285.9 1985.83C285.18 1989.66 285.06 1990.86 284.89 1994.46C284.72 1998.06 284.92 2003.09 284.89 2007.41C284.87 2011.73 285.18 2017.53 284.75 2020.36C284.32 2023.19 283.91 2023.19 282.3 2024.39C280.7 2025.59 277.75 2026.55 275.11 2027.55C272.47 2028.56 269.06 2029.57 266.47 2030.43C263.88 2031.29 261.01 2032.13 259.57 2032.73C258.13 2033.33 257.84 2033.6 257.84 2034.03C257.84 2034.46 258.32 2034.72 259.57 2035.32C260.82 2035.92 263.21 2036.64 265.32 2037.63C267.43 2038.61 269.76 2039.9 272.23 2041.22C274.7 2042.54 277.75 2043.98 280.14 2045.54C282.54 2047.1 284.87 2048.9 286.62 2050.58C288.37 2052.25 289.64 2053.93 290.65 2055.61C291.65 2057.29 292.13 2057.89 292.66 2060.65C293.19 2063.41 293.62 2070.24 293.81 2072.16L293.81 2072.16C294 2070.24 294.44 2063.41 294.96 2060.65C295.49 2057.89 295.97 2057.29 296.98 2055.61C297.99 2053.93 299.26 2052.25 301.01 2050.58C302.76 2048.9 305.08 2047.1 307.48 2045.54C309.88 2043.98 312.93 2042.54 315.4 2041.22C317.87 2039.9 320.19 2038.61 322.3 2037.63C324.41 2036.64 326.81 2035.92 328.06 2035.32C329.3 2034.72 329.78 2034.46 329.78 2034.03C329.78 2033.6 329.5 2033.33 328.06 2032.73C326.62 2032.13 323.74 2031.29 321.15 2030.43C318.56 2029.57 315.16 2028.56 312.52 2027.55C309.88 2026.55 306.93 2025.59 305.32 2024.39C303.72 2023.19 303.31 2023.19 302.88 2020.36C302.45 2017.53 302.76 2011.73 302.73 2007.41C302.71 2003.09 302.9 1998.06 302.73 1994.46C302.57 1990.86 302.45 1989.66 301.73 1985.83C301.01 1981.99 299.26 1976.24 298.42 1971.44C297.58 1966.64 297.17 1961.85 296.69 1957.05C296.21 1952.25 295.9 1949.86 295.54 1942.66C295.18 1935.47 294.77 1925.88 294.53 1913.88C294.29 1901.89 294.22 1889.54 294.1 1870.72C293.98 1851.89 293.86 1812.57 293.81 1800.94Z" fill="#800026" stroke="#333333" stroke-width="2.5" stroke-linejoin="round"/>
<line x1="293.81" y1="1800.94" x2="293.81" y2="1998.78" stroke="#333333" stroke-width="2.5"/>
<line x1="293.81" y1="2036.19" x2="293.81" y2="2072.16" stroke="#333333" stroke-width="2.5"/>
<rect x="285.32" y="1998.78" width="16.98" height="37.41" fill="#800026" stroke="#333333" stroke-width="2.5"/>
<line x1="285.32" y1="2028.99" x2="302.3" y2="2028.99" stroke="#333333" stroke-width="5.5"/>
<line x1="209.64" y1="2034.03" x2="301.73" y2="2034.03" stroke="#5a9fcc" stroke-width="1.7"/>
<line x1="209.64" y1="2034.03" x2="301.73" y2="2034.03" stroke="#2f79b0" stroke-width="1.7" stroke-dasharray="1.6 5.2"/>
<path d="M216.12 1796.92 V1788.42 H293.81 V1796.92" fill="none" stroke="#000" stroke-width="2.5"/>
<text x="255.61" y="1791.22" text-anchor="middle" font-size="21.5" letter-spacing="1.3">***</text>
<text x="602" y="1593" font-size="41.67">H</text>
<text x="838" y="1638.3" text-anchor="middle" font-size="37">MASLD to HCC</text>
<text x="838" y="1678.5" text-anchor="middle" font-size="37">Human snRNA–seq</text>
<text x="838" y="1722.6" text-anchor="middle" font-size="27.7">Filliol et al. (N = 12 patients,</text>
<text x="838" y="1752.2" text-anchor="middle" font-size="27.7">58,717 hepatocytes)</text>
<text text-anchor="middle" transform="translate(627,1930) rotate(-90)" font-size="32.2">Module Score (Arb. Units)</text>
<path d="M709.3 1773.5 V2085.7 H967.5" fill="none" stroke="#000" stroke-width="2.5"/>
<line x1="701.3" y1="1802" x2="709.3" y2="1802" stroke="#222" stroke-width="2.5"/>
<text x="693.7" y="1811.9" text-anchor="end" font-size="27.5">0.8</text>
<line x1="701.3" y1="1860" x2="709.3" y2="1860" stroke="#222" stroke-width="2.5"/>
<text x="693.7" y="1869.9" text-anchor="end" font-size="27.5">0.6</text>
<line x1="701.3" y1="1918" x2="709.3" y2="1918" stroke="#222" stroke-width="2.5"/>
<text x="693.7" y="1927.9" text-anchor="end" font-size="27.5">0.4</text>
<line x1="701.3" y1="1976" x2="709.3" y2="1976" stroke="#222" stroke-width="2.5"/>
<text x="693.7" y="1985.9" text-anchor="end" font-size="27.5">0.2</text>
<line x1="701.3" y1="2034" x2="709.3" y2="2034" stroke="#222" stroke-width="2.5"/>
<text x="693.7" y="2043.9" text-anchor="end" font-size="27.5">0.0</text>
<line x1="746.03" y1="2085.7" x2="746.03" y2="2093.7" stroke="#222" stroke-width="2.5"/>
<g transform="translate(745.23,2100) rotate(-45)" font-size="27.4" text-anchor="end"><text x="0" y="20">Healthy</text></g>
<line x1="807.24" y1="2085.7" x2="807.24" y2="2093.7" stroke="#222" stroke-width="2.5"/>
<g transform="translate(806.44,2100) rotate(-45)" font-size="27.4" text-anchor="end"><text x="0" y="20">MASLD</text></g>
<line x1="868.45" y1="2085.7" x2="868.45" y2="2093.7" stroke="#222" stroke-width="2.5"/>
<g transform="translate(867.65,2100) rotate(-45)" font-size="27.4" text-anchor="end"><text x="0" y="20">Cirrhosis</text></g>
<line x1="929.66" y1="2085.7" x2="929.66" y2="2093.7" stroke="#222" stroke-width="2.5"/>
<g transform="translate(928.86,2100) rotate(-45)" font-size="27.4" text-anchor="end"><text x="0" y="20">HCC</text></g>
<path d="M746.03 1851.03C745.98 1863.39 745.8 1904.2 745.69 1925.17C745.57 1946.15 745.72 1963.97 745.34 1976.9C744.97 1989.83 744.2 1995.57 743.45 2002.76C742.7 2009.94 741.58 2015.69 740.86 2020C740.14 2024.31 740 2026.03 739.14 2028.62C738.28 2031.21 737.41 2033.51 735.69 2035.52C733.97 2037.53 731.38 2038.97 728.79 2040.69C726.21 2042.41 721.9 2044.68 720.17 2045.86C718.45 2047.04 718.88 2047.18 718.45 2047.76C718.02 2048.33 717.59 2048.79 717.59 2049.31C717.59 2049.83 718.02 2050.29 718.45 2050.86C718.88 2051.44 718.16 2051.87 720.17 2052.76C722.18 2053.65 727.36 2055.06 730.52 2056.21C733.68 2057.36 736.93 2058.51 739.14 2059.66C741.35 2060.8 742.64 2062.1 743.79 2063.1C744.94 2064.11 745.66 2065.26 746.03 2065.69L746.03 2065.69C746.41 2065.26 747.13 2064.11 748.28 2063.1C749.43 2062.1 750.72 2060.8 752.93 2059.66C755.14 2058.51 758.39 2057.36 761.55 2056.21C764.71 2055.06 769.89 2053.65 771.9 2052.76C773.91 2051.87 773.19 2051.44 773.62 2050.86C774.05 2050.29 774.48 2049.83 774.48 2049.31C774.48 2048.79 774.05 2048.33 773.62 2047.76C773.19 2047.18 773.62 2047.04 771.9 2045.86C770.17 2044.68 765.86 2042.41 763.28 2040.69C760.69 2038.97 758.1 2037.53 756.38 2035.52C754.66 2033.51 753.79 2031.21 752.93 2028.62C752.07 2026.03 751.93 2024.31 751.21 2020C750.49 2015.69 749.37 2009.94 748.62 2002.76C747.87 1995.57 747.1 1989.83 746.72 1976.9C746.35 1963.97 746.49 1946.15 746.38 1925.17C746.26 1904.2 746.09 1863.39 746.03 1851.03Z" fill="#ffffcc" stroke="#333333" stroke-width="2.5" stroke-linejoin="round"/>
<line x1="746.03" y1="1851.03" x2="746.03" y2="2033.28" stroke="#333333" stroke-width="2.5"/>
<line x1="746.03" y1="2051.03" x2="746.03" y2="2065.69" stroke="#333333" stroke-width="2.5"/>
<rect x="740" y="2033.28" width="12.07" height="17.76" fill="#ffffcc" stroke="#333333" stroke-width="2.5"/>
<line x1="740" y1="2047.24" x2="752.07" y2="2047.24" stroke="#333333" stroke-width="2.5"/>
<path d="M807.24 1848.45C807.18 1861.24 807.04 1905.2 806.9 1925.17C806.75 1945.14 807.18 1958.22 806.38 1968.28C805.57 1978.33 803.02 1981.21 802.07 1985.52C801.12 1989.83 800.98 1989.83 800.69 1994.14C800.4 1998.45 800.55 2005.63 800.34 2011.38C800.14 2017.13 800.34 2024.6 799.48 2028.62C798.62 2032.64 797.33 2033.51 795.17 2035.52C793.02 2037.53 789.05 2039.37 786.55 2040.69C784.05 2042.01 781.47 2042.73 780.17 2043.45C778.88 2044.17 778.79 2044.48 778.79 2045C778.79 2045.52 779.4 2045.83 780.17 2046.55C780.95 2047.27 781.52 2047.99 783.45 2049.31C785.37 2050.63 788.91 2052.76 791.72 2054.48C794.54 2056.21 798.13 2058.22 800.34 2059.66C802.56 2061.09 803.85 2062.1 805 2063.1C806.15 2064.11 806.87 2065.26 807.24 2065.69L807.24 2065.69C807.61 2065.26 808.33 2064.11 809.48 2063.1C810.63 2062.1 811.93 2061.09 814.14 2059.66C816.35 2058.22 819.94 2056.21 822.76 2054.48C825.57 2052.76 829.11 2050.63 831.03 2049.31C832.96 2047.99 833.53 2047.27 834.31 2046.55C835.09 2045.83 835.69 2045.52 835.69 2045C835.69 2044.48 835.6 2044.17 834.31 2043.45C833.02 2042.73 830.43 2042.01 827.93 2040.69C825.43 2039.37 821.47 2037.53 819.31 2035.52C817.16 2033.51 815.86 2032.64 815 2028.62C814.14 2024.6 814.34 2017.13 814.14 2011.38C813.94 2005.63 814.08 1998.45 813.79 1994.14C813.51 1989.83 813.36 1989.83 812.41 1985.52C811.47 1981.21 808.91 1978.33 808.1 1968.28C807.3 1958.22 807.73 1945.14 807.59 1925.17C807.44 1905.2 807.3 1861.24 807.24 1848.45Z" fill="#fed976" stroke="#333333" stroke-width="2.5" stroke-linejoin="round"/>
<line x1="807.24" y1="1848.45" x2="807.24" y2="2013.97" stroke="#333333" stroke-width="2.5"/>
<line x1="807.24" y1="2047.07" x2="807.24" y2="2065.69" stroke="#333333" stroke-width="2.5"/>
<rect x="801.21" y="2013.97" width="12.07" height="33.1" fill="#fed976" stroke="#333333" stroke-width="2.5"/>
<line x1="801.21" y1="2041.55" x2="813.28" y2="2041.55" stroke="#333333" stroke-width="5.5"/>
<path d="M868.45 1844.48C868.39 1857.93 868.25 1905.98 868.1 1925.17C867.96 1944.37 867.96 1949.6 867.59 1959.66C867.21 1969.71 866.72 1978.33 865.86 1985.52C865 1992.7 863.42 1997.01 862.41 2002.76C861.41 2008.51 860.69 2015.69 859.83 2020C858.97 2024.31 858.53 2025.75 857.24 2028.62C855.95 2031.49 854.22 2034.66 852.07 2037.24C849.91 2039.83 846.12 2042.41 844.31 2044.14C842.5 2045.86 841.93 2046.72 841.21 2047.59C840.49 2048.45 840 2048.74 840 2049.31C840 2049.89 840.49 2050.32 841.21 2051.03C841.93 2051.75 842.07 2052.47 844.31 2053.62C846.55 2054.77 851.64 2056.64 854.66 2057.93C857.67 2059.22 860.11 2060.17 862.41 2061.38C864.71 2062.59 867.44 2064.54 868.45 2065.17L868.45 2065.17C869.45 2064.54 872.18 2062.59 874.48 2061.38C876.78 2060.17 879.22 2059.22 882.24 2057.93C885.26 2056.64 890.34 2054.77 892.59 2053.62C894.83 2052.47 894.97 2051.75 895.69 2051.03C896.41 2050.32 896.9 2049.89 896.9 2049.31C896.9 2048.74 896.41 2048.45 895.69 2047.59C894.97 2046.72 894.4 2045.86 892.59 2044.14C890.78 2042.41 886.98 2039.83 884.83 2037.24C882.67 2034.66 880.95 2031.49 879.66 2028.62C878.36 2025.75 877.93 2024.31 877.07 2020C876.21 2015.69 875.49 2008.51 874.48 2002.76C873.48 1997.01 871.9 1992.7 871.03 1985.52C870.17 1978.33 869.68 1969.71 869.31 1959.66C868.94 1949.6 868.94 1944.37 868.79 1925.17C868.65 1905.98 868.51 1857.93 868.45 1844.48Z" fill="#e31a1c" stroke="#333333" stroke-width="2.5" stroke-linejoin="round"/>
<line x1="868.45" y1="1844.48" x2="868.45" y2="2019.48" stroke="#333333" stroke-width="2.5"/>
<line x1="868.45" y1="2047.59" x2="868.45" y2="2065.17" stroke="#333333" stroke-width="2.5"/>
<rect x="862.41" y="2019.48" width="12.07" height="28.1" fill="#e31a1c" stroke="#333333" stroke-width="2.5"/>
<line x1="862.41" y1="2039.83" x2="874.48" y2="2039.83" stroke="#333333" stroke-width="5.5"/>
<path d="M929.66 1845C929.6 1855.49 929.48 1891.7 929.31 1907.93C929.14 1924.17 929.14 1932.36 928.62 1942.41C928.1 1952.47 927.47 1961.09 926.21 1968.28C924.94 1975.46 922.9 1979.77 921.03 1985.52C919.17 1991.26 916.58 1997.87 915 2002.76C913.42 2007.64 912.27 2011.38 911.55 2014.83C910.83 2018.28 910.55 2020.86 910.69 2023.45C910.83 2026.03 911.7 2028.19 912.41 2030.34C913.13 2032.5 915 2034.51 915 2036.38C915 2038.25 913.99 2039.97 912.41 2041.55C910.83 2043.13 907.24 2044.68 905.52 2045.86C903.79 2047.04 902.79 2047.9 902.07 2048.62C901.35 2049.34 901.21 2049.66 901.21 2050.17C901.21 2050.69 901.64 2051.15 902.07 2051.72C902.5 2052.3 901.78 2052.3 903.79 2053.62C905.8 2054.94 910.98 2057.79 914.14 2059.66C917.3 2061.52 920.52 2063.25 922.76 2064.83C925 2066.41 926.44 2067.84 927.59 2069.14C928.74 2070.43 929.31 2072.01 929.66 2072.59L929.66 2072.59C930 2072.01 930.57 2070.43 931.72 2069.14C932.87 2067.84 934.31 2066.41 936.55 2064.83C938.79 2063.25 942.01 2061.52 945.17 2059.66C948.33 2057.79 953.51 2054.94 955.52 2053.62C957.53 2052.3 956.81 2052.3 957.24 2051.72C957.67 2051.15 958.1 2050.69 958.1 2050.17C958.1 2049.66 957.96 2049.34 957.24 2048.62C956.52 2047.9 955.52 2047.04 953.79 2045.86C952.07 2044.68 948.48 2043.13 946.9 2041.55C945.32 2039.97 944.31 2038.25 944.31 2036.38C944.31 2034.51 946.18 2032.5 946.9 2030.34C947.61 2028.19 948.48 2026.03 948.62 2023.45C948.76 2020.86 948.48 2018.28 947.76 2014.83C947.04 2011.38 945.89 2007.64 944.31 2002.76C942.73 1997.87 940.14 1991.26 938.28 1985.52C936.41 1979.77 934.37 1975.46 933.1 1968.28C931.84 1961.09 931.21 1952.47 930.69 1942.41C930.17 1932.36 930.17 1924.17 930 1907.93C929.83 1891.7 929.71 1855.49 929.66 1845Z" fill="#800026" stroke="#333333" stroke-width="2.5" stroke-linejoin="round"/>
<line x1="929.66" y1="1845" x2="929.66" y2="2006.21" stroke="#333333" stroke-width="2.5"/>
<line x1="929.66" y1="2047.93" x2="929.66" y2="2072.59" stroke="#333333" stroke-width="2.5"/>
<rect x="923.36" y="2006.21" width="12.59" height="41.72" fill="#800026" stroke="#333333" stroke-width="2.5"/>
<line x1="923.36" y1="2026.9" x2="935.95" y2="2026.9" stroke="#333333" stroke-width="5.5"/>
<line x1="740" y1="2045.34" x2="936.21" y2="2045.34" stroke="#5a9fcc" stroke-width="1.7"/>
<line x1="740" y1="2045.34" x2="936.21" y2="2045.34" stroke="#2f79b0" stroke-width="1.7" stroke-dasharray="1.6 5.2"/>
<path d="M746.03 1842.64 V1834.14 H807.24 V1842.64" fill="none" stroke="#000" stroke-width="2.5"/>
<text x="777.29" y="1836.94" text-anchor="middle" font-size="21.5" letter-spacing="1.3">***</text>
<path d="M746.03 1819.53 V1811.03 H868.45 V1819.53" fill="none" stroke="#000" stroke-width="2.5"/>
<text x="807.89" y="1813.83" text-anchor="middle" font-size="21.5" letter-spacing="1.3">***</text>
<path d="M746.03 1796.6 V1788.1 H929.66 V1796.6" fill="none" stroke="#000" stroke-width="2.5"/>
<text x="838.49" y="1790.9" text-anchor="middle" font-size="21.5" letter-spacing="1.3">***</text>
<text x="1168.5" y="1593" font-size="41.67">I</text>
<text x="1463" y="1638.3" text-anchor="middle" font-size="37">MASLD Progression</text>
<text x="1463" y="1678.5" text-anchor="middle" font-size="37">Mouse scRNA–seq</text>
<text x="1463" y="1722.6" text-anchor="middle" font-size="27.7">This Study (N = 17 mice,</text>
<text x="1463" y="1752.2" text-anchor="middle" font-size="27.7">11,449 hepatocytes)</text>
<text text-anchor="middle" transform="translate(1192,1930) rotate(-90)" font-size="32.2">Module Score (Arb. Units)</text>
<path d="M1292.2 1773.5 V2085.7 H1635.3" fill="none" stroke="#000" stroke-width="2.5"/>
<line x1="1284.2" y1="1793.5" x2="1292.2" y2="1793.5" stroke="#222" stroke-width="2.5"/>
<text x="1276.6" y="1803.4" text-anchor="end" font-size="27.5">0.4</text>
<line x1="1284.2" y1="1883.6" x2="1292.2" y2="1883.6" stroke="#222" stroke-width="2.5"/>
<text x="1276.6" y="1893.5" text-anchor="end" font-size="27.5">0.2</text>
<line x1="1284.2" y1="1973.7" x2="1292.2" y2="1973.7" stroke="#222" stroke-width="2.5"/>
<text x="1276.6" y="1983.6" text-anchor="end" font-size="27.5">0.0</text>
<line x1="1284.2" y1="2063.8" x2="1292.2" y2="2063.8" stroke="#222" stroke-width="2.5"/>
<text x="1276.6" y="2073.7" text-anchor="end" font-size="27.5">−0.2</text>
<line x1="1324.88" y1="2085.7" x2="1324.88" y2="2093.7" stroke="#222" stroke-width="2.5"/>
<g transform="translate(1324.08,2100) rotate(-45)" font-size="27.4" text-anchor="end"><text x="0" y="20">6mo.CD</text></g>
<line x1="1380.25" y1="2085.7" x2="1380.25" y2="2093.7" stroke="#222" stroke-width="2.5"/>
<g transform="translate(1379.45,2100) rotate(-45)" font-size="27.4" text-anchor="end"><text x="0" y="20">6mo.HFD</text></g>
<line x1="1435.39" y1="2085.7" x2="1435.39" y2="2093.7" stroke="#222" stroke-width="2.5"/>
<g transform="translate(1434.59,2100) rotate(-45)" font-size="27.4" text-anchor="end"><text x="0" y="20">12mo.CD</text></g>
<line x1="1490.75" y1="2085.7" x2="1490.75" y2="2093.7" stroke="#222" stroke-width="2.5"/>
<g transform="translate(1489.95,2100) rotate(-45)" font-size="27.4" text-anchor="end"><text x="0" y="20">12mo.HFD</text></g>
<line x1="1545.89" y1="2085.7" x2="1545.89" y2="2093.7" stroke="#222" stroke-width="2.5"/>
<g transform="translate(1545.09,2100) rotate(-45)" font-size="27.4" text-anchor="end"><text x="0" y="20">15mo.CD</text></g>
<line x1="1601.26" y1="2085.7" x2="1601.26" y2="2093.7" stroke="#222" stroke-width="2.5"/>
<g transform="translate(1600.46,2100) rotate(-45)" font-size="27.4" text-anchor="end"><text x="0" y="20">15mo.HFD</text></g>
<path d="M1324.88 1801.21C1324.81 1811.2 1324.58 1845.45 1324.43 1861.14C1324.28 1876.82 1324.28 1885.82 1323.97 1895.31C1323.67 1904.81 1323.59 1910.5 1322.61 1918.1C1321.62 1925.69 1319.57 1933.29 1318.05 1940.88C1316.53 1948.48 1315.2 1956.07 1313.49 1963.67C1311.78 1971.26 1309.32 1980.75 1307.8 1986.45C1306.28 1992.15 1305.33 1994.04 1304.38 1997.84C1303.43 2001.64 1302.56 2005.44 1302.1 2009.23C1301.65 2013.03 1302.1 2016.83 1301.65 2020.63C1301.19 2024.42 1299.1 2028.6 1299.37 2032.02C1299.63 2035.44 1300.89 2038.09 1303.24 2041.13C1305.59 2044.17 1310.45 2047.59 1313.49 2050.25C1316.53 2052.9 1319.57 2054.42 1321.47 2057.08C1323.37 2059.74 1324.32 2064.68 1324.88 2066.2L1324.88 2066.2C1325.45 2064.68 1326.4 2059.74 1328.3 2057.08C1330.2 2054.42 1333.24 2052.9 1336.28 2050.25C1339.31 2047.59 1344.18 2044.17 1346.53 2041.13C1348.88 2038.09 1350.14 2035.44 1350.4 2032.02C1350.67 2028.6 1348.58 2024.42 1348.12 2020.63C1347.67 2016.83 1348.12 2013.03 1347.67 2009.23C1347.21 2005.44 1346.34 2001.64 1345.39 1997.84C1344.44 1994.04 1343.49 1992.15 1341.97 1986.45C1340.45 1980.75 1337.99 1971.26 1336.28 1963.67C1334.57 1956.07 1333.24 1948.48 1331.72 1940.88C1330.2 1933.29 1328.15 1925.69 1327.16 1918.1C1326.18 1910.5 1326.1 1904.81 1325.8 1895.31C1325.49 1885.82 1325.49 1876.82 1325.34 1861.14C1325.19 1845.45 1324.96 1811.2 1324.88 1801.21Z" fill="#a6c8df" stroke="#333333" stroke-width="2.5" stroke-linejoin="round"/>
<line x1="1324.88" y1="1801.21" x2="1324.88" y2="1978.48" stroke="#333333" stroke-width="2.5"/>
<line x1="1324.88" y1="2029.28" x2="1324.88" y2="2066.2" stroke="#333333" stroke-width="2.5"/>
<rect x="1318.62" y="1978.48" width="12.53" height="50.81" fill="#a6c8df" stroke="#333333" stroke-width="2.5"/>
<line x1="1318.62" y1="2006.96" x2="1331.15" y2="2006.96" stroke="#333333" stroke-width="2.5"/>
<path d="M1380.25 1863.87C1380.17 1871.01 1379.95 1896.53 1379.79 1906.71C1379.64 1916.88 1379.72 1919.24 1379.34 1924.93C1378.96 1930.63 1378.88 1934.43 1377.52 1940.88C1376.15 1947.34 1373.72 1956.07 1371.14 1963.67C1368.55 1971.26 1364.3 1980.75 1362.02 1986.45C1359.74 1992.15 1358.68 1994.23 1357.47 1997.84C1356.25 2001.45 1354.35 2004.3 1354.73 2008.1C1355.11 2011.89 1357.77 2016.64 1359.74 2020.63C1361.72 2024.61 1364.3 2028.22 1366.58 2032.02C1368.86 2035.82 1371.52 2039.61 1373.42 2043.41C1375.31 2047.21 1376.83 2050.06 1377.97 2054.8C1379.11 2059.55 1379.87 2069.04 1380.25 2071.89L1380.25 2071.89C1380.63 2069.04 1381.39 2059.55 1382.53 2054.8C1383.67 2050.06 1385.19 2047.21 1387.09 2043.41C1388.98 2039.61 1391.64 2035.82 1393.92 2032.02C1396.2 2028.22 1398.78 2024.61 1400.76 2020.63C1402.73 2016.64 1405.39 2011.89 1405.77 2008.1C1406.15 2004.3 1404.25 2001.45 1403.03 1997.84C1401.82 1994.23 1400.76 1992.15 1398.48 1986.45C1396.2 1980.75 1391.95 1971.26 1389.36 1963.67C1386.78 1956.07 1384.35 1947.34 1382.98 1940.88C1381.62 1934.43 1381.54 1930.63 1381.16 1924.93C1380.78 1919.24 1380.86 1916.88 1380.71 1906.71C1380.55 1896.53 1380.33 1871.01 1380.25 1863.87Z" fill="#fcc29a" stroke="#333333" stroke-width="2.5" stroke-linejoin="round"/>
<line x1="1380.25" y1="1863.87" x2="1380.25" y2="1986.91" stroke="#333333" stroke-width="2.5"/>
<line x1="1380.25" y1="2021.77" x2="1380.25" y2="2071.89" stroke="#333333" stroke-width="2.5"/>
<rect x="1374.33" y="1986.91" width="11.85" height="34.86" fill="#fcc29a" stroke="#333333" stroke-width="2.5"/>
<line x1="1374.33" y1="2004.68" x2="1386.17" y2="2004.68" stroke="#333333" stroke-width="5.5"/>
<path d="M1435.39 1821.26C1435.31 1829.81 1435.12 1858.29 1434.93 1872.53C1434.74 1886.77 1434.93 1897.21 1434.25 1906.71C1433.57 1916.2 1432.35 1921.89 1430.83 1929.49C1429.31 1937.08 1427.22 1944.68 1425.14 1952.27C1423.05 1959.87 1420.39 1968.6 1418.3 1975.06C1416.21 1981.51 1414.01 1986.07 1412.6 1991.01C1411.2 1995.94 1409.87 2000.5 1409.87 2004.68C1409.87 2008.85 1411.58 2012.27 1412.6 2016.07C1413.63 2019.87 1414.88 2023.66 1416.02 2027.46C1417.16 2031.26 1417.73 2035.06 1419.44 2038.85C1421.15 2042.65 1424.19 2046.83 1426.27 2050.25C1428.36 2053.66 1430.45 2055.75 1431.97 2059.36C1433.49 2062.97 1434.82 2069.8 1435.39 2071.89L1435.39 2071.89C1435.96 2069.8 1437.29 2062.97 1438.81 2059.36C1440.33 2055.75 1442.41 2053.66 1444.5 2050.25C1446.59 2046.83 1449.63 2042.65 1451.34 2038.85C1453.05 2035.06 1453.62 2031.26 1454.76 2027.46C1455.89 2023.66 1457.15 2019.87 1458.17 2016.07C1459.2 2012.27 1460.91 2008.85 1460.91 2004.68C1460.91 2000.5 1459.58 1995.94 1458.17 1991.01C1456.77 1986.07 1454.57 1981.51 1452.48 1975.06C1450.39 1968.6 1447.73 1959.87 1445.64 1952.27C1443.55 1944.68 1441.46 1937.08 1439.95 1929.49C1438.43 1921.89 1437.21 1916.2 1436.53 1906.71C1435.84 1897.21 1436.03 1886.77 1435.84 1872.53C1435.65 1858.29 1435.46 1829.81 1435.39 1821.26Z" fill="#6fa8cc" stroke="#333333" stroke-width="2.5" stroke-linejoin="round"/>
<line x1="1435.39" y1="1821.26" x2="1435.39" y2="1980.75" stroke="#333333" stroke-width="2.5"/>
<line x1="1435.39" y1="2025.18" x2="1435.39" y2="2071.89" stroke="#333333" stroke-width="2.5"/>
<rect x="1429.58" y="1980.75" width="11.62" height="44.43" fill="#6fa8cc" stroke="#333333" stroke-width="2.5"/>
<line x1="1429.58" y1="2003.54" x2="1441.2" y2="2003.54" stroke="#333333" stroke-width="2.5"/>
<path d="M1490.75 1813.29C1490.68 1823.16 1490.49 1855.06 1490.3 1872.53C1490.11 1890 1490.49 1906.71 1489.61 1918.1C1488.74 1929.49 1487.15 1933.29 1485.06 1940.88C1482.97 1948.48 1479.36 1956.83 1477.08 1963.67C1474.81 1970.5 1473.1 1976.2 1471.39 1981.89C1469.68 1987.59 1467.86 1994.04 1466.83 1997.84C1465.81 2001.64 1465.05 2001.64 1465.24 2004.68C1465.43 2007.72 1466.56 2012.27 1467.97 2016.07C1469.37 2019.87 1471.58 2023.66 1473.67 2027.46C1475.75 2031.26 1478.22 2035.06 1480.5 2038.85C1482.78 2042.65 1485.63 2047.02 1487.34 2050.25C1489.05 2053.47 1490.18 2056.89 1490.75 2058.22L1490.75 2058.22C1491.32 2056.89 1492.46 2053.47 1494.17 2050.25C1495.88 2047.02 1498.73 2042.65 1501.01 2038.85C1503.29 2035.06 1505.75 2031.26 1507.84 2027.46C1509.93 2023.66 1512.13 2019.87 1513.54 2016.07C1514.94 2012.27 1516.08 2007.72 1516.27 2004.68C1516.46 2001.64 1515.7 2001.64 1514.68 1997.84C1513.65 1994.04 1511.83 1987.59 1510.12 1981.89C1508.41 1976.2 1506.7 1970.5 1504.42 1963.67C1502.15 1956.83 1498.54 1948.48 1496.45 1940.88C1494.36 1933.29 1492.77 1929.49 1491.89 1918.1C1491.02 1906.71 1491.4 1890 1491.21 1872.53C1491.02 1855.06 1490.83 1823.16 1490.75 1813.29Z" fill="#f89d5c" stroke="#333333" stroke-width="2.5" stroke-linejoin="round"/>
<line x1="1490.75" y1="1813.29" x2="1490.75" y2="1975.74" stroke="#333333" stroke-width="2.5"/>
<line x1="1490.75" y1="2017.21" x2="1490.75" y2="2058.22" stroke="#333333" stroke-width="2.5"/>
<rect x="1485.06" y="1975.74" width="11.39" height="41.47" fill="#f89d5c" stroke="#333333" stroke-width="2.5"/>
<line x1="1485.06" y1="2000.58" x2="1496.45" y2="2000.58" stroke="#333333" stroke-width="5.5"/>
<path d="M1545.89 1842.45C1545.82 1849.37 1545.63 1873.21 1545.44 1883.92C1545.25 1894.63 1545.44 1899.87 1544.75 1906.71C1544.07 1913.54 1543.04 1918.86 1541.34 1924.93C1539.63 1931.01 1536.78 1937.08 1534.5 1943.16C1532.22 1949.24 1529.56 1956.07 1527.66 1961.39C1525.77 1966.7 1524.25 1970.5 1523.11 1975.06C1521.97 1979.61 1521.29 1985.31 1520.83 1988.73C1520.37 1992.15 1519.99 1992.53 1520.37 1995.56C1520.75 1998.6 1521.51 2002.78 1523.11 2006.96C1524.7 2011.13 1527.66 2016.07 1529.94 2020.63C1532.22 2025.18 1534.69 2030.12 1536.78 2034.3C1538.87 2038.47 1540.96 2041.97 1542.47 2045.69C1543.99 2049.41 1545.32 2054.8 1545.89 2056.63L1545.89 2056.63C1546.46 2054.8 1547.79 2049.41 1549.31 2045.69C1550.83 2041.97 1552.92 2038.47 1555.01 2034.3C1557.09 2030.12 1559.56 2025.18 1561.84 2020.63C1564.12 2016.07 1567.08 2011.13 1568.68 2006.96C1570.27 2002.78 1571.03 1998.6 1571.41 1995.56C1571.79 1992.53 1571.41 1992.15 1570.95 1988.73C1570.5 1985.31 1569.82 1979.61 1568.68 1975.06C1567.54 1970.5 1566.02 1966.7 1564.12 1961.39C1562.22 1956.07 1559.56 1949.24 1557.28 1943.16C1555.01 1937.08 1552.16 1931.01 1550.45 1924.93C1548.74 1918.86 1547.71 1913.54 1547.03 1906.71C1546.35 1899.87 1546.54 1894.63 1546.35 1883.92C1546.16 1873.21 1545.97 1849.37 1545.89 1842.45Z" fill="#3a84b0" stroke="#333333" stroke-width="2.5" stroke-linejoin="round"/>
<line x1="1545.89" y1="1842.45" x2="1545.89" y2="1967.54" stroke="#333333" stroke-width="2.5"/>
<line x1="1545.89" y1="2010.37" x2="1545.89" y2="2056.63" stroke="#333333" stroke-width="2.5"/>
<rect x="1539.85" y="1967.54" width="12.08" height="42.83" fill="#3a84b0" stroke="#333333" stroke-width="2.5"/>
<line x1="1539.85" y1="1989.87" x2="1551.93" y2="1989.87" stroke="#333333" stroke-width="2.5"/>
<path d="M1601.26 1840.18C1601.18 1842.91 1600.99 1852.33 1600.8 1856.58C1600.61 1860.83 1600.5 1861.14 1600.12 1865.69C1599.74 1870.25 1599.85 1877.09 1598.52 1883.92C1597.19 1890.76 1594.35 1899.11 1592.14 1906.71C1589.94 1914.3 1587.4 1922.65 1585.31 1929.49C1583.22 1936.32 1581.06 1942.02 1579.61 1947.72C1578.17 1953.41 1577.3 1959.49 1576.65 1963.67C1576.01 1967.84 1575.44 1968.98 1575.74 1972.78C1576.04 1976.58 1576.88 1981.51 1578.47 1986.45C1580.07 1991.39 1583.03 1997.46 1585.31 2002.4C1587.59 2007.34 1590.06 2011.51 1592.14 2016.07C1594.23 2020.63 1596.32 2025.56 1597.84 2029.74C1599.36 2033.92 1600.69 2039.23 1601.26 2041.13L1601.26 2041.13C1601.83 2039.23 1603.16 2033.92 1604.68 2029.74C1606.19 2025.56 1608.28 2020.63 1610.37 2016.07C1612.46 2011.51 1614.93 2007.34 1617.21 2002.4C1619.49 1997.46 1622.45 1991.39 1624.04 1986.45C1625.64 1981.51 1626.47 1976.58 1626.78 1972.78C1627.08 1968.98 1626.51 1967.84 1625.86 1963.67C1625.22 1959.49 1624.35 1953.41 1622.9 1947.72C1621.46 1942.02 1619.3 1936.32 1617.21 1929.49C1615.12 1922.65 1612.57 1914.3 1610.37 1906.71C1608.17 1899.11 1605.32 1890.76 1603.99 1883.92C1602.66 1877.09 1602.78 1870.25 1602.4 1865.69C1602.02 1861.14 1601.9 1860.83 1601.71 1856.58C1601.52 1852.33 1601.33 1842.91 1601.26 1840.18Z" fill="#f47b20" stroke="#333333" stroke-width="2.5" stroke-linejoin="round"/>
<line x1="1601.26" y1="1840.18" x2="1601.26" y2="1941.57" stroke="#333333" stroke-width="2.5"/>
<line x1="1601.26" y1="1989.87" x2="1601.26" y2="2041.13" stroke="#333333" stroke-width="2.5"/>
<rect x="1595.33" y="1941.57" width="11.85" height="48.3" fill="#f47b20" stroke="#333333" stroke-width="2.5"/>
<line x1="1595.33" y1="1966.4" x2="1607.18" y2="1966.4" stroke="#333333" stroke-width="5.5"/>
<line x1="1319.87" y1="2007.64" x2="1385.95" y2="2007.64" stroke="#5a9fcc" stroke-width="1.7"/>
<line x1="1319.87" y1="2007.64" x2="1385.95" y2="2007.64" stroke="#2f79b0" stroke-width="1.7" stroke-dasharray="1.6 5.2"/>
<line x1="1430.38" y1="2003.54" x2="1496.45" y2="2003.54" stroke="#5a9fcc" stroke-width="1.7"/>
<line x1="1430.38" y1="2003.54" x2="1496.45" y2="2003.54" stroke="#2f79b0" stroke-width="1.7" stroke-dasharray="1.6 5.2"/>
<line x1="1540.88" y1="1989.87" x2="1606.95" y2="1989.87" stroke="#5a9fcc" stroke-width="1.7"/>
<line x1="1540.88" y1="1989.87" x2="1606.95" y2="1989.87" stroke="#2f79b0" stroke-width="1.7" stroke-dasharray="1.6 5.2"/>
<path d="M1324.88 1796.73 V1788.23 H1380.25 V1796.73" fill="none" stroke="#000" stroke-width="2.5"/>
<text x="1353.22" y="1791.03" text-anchor="middle" font-size="21.5" letter-spacing="1.3">*</text>
<path d="M1435.39 1796.73 V1788.23 H1490.75 V1796.73" fill="none" stroke="#000" stroke-width="2.5"/>
<text x="1463.72" y="1791.03" text-anchor="middle" font-size="21.5" letter-spacing="1.3">**</text>
<path d="M1545.89 1796.73 V1788.23 H1601.26 V1796.73" fill="none" stroke="#000" stroke-width="2.5"/>
<text x="1574.22" y="1791.03" text-anchor="middle" font-size="21.5" letter-spacing="1.3">***</text>
<text x="1789" y="1593" font-size="41.67">J</text>
<text x="2130" y="1638.3" text-anchor="middle" font-size="39.5">MASLD Progression</text>
<text x="2130" y="1678.5" text-anchor="middle" font-size="39.5">Human Bulk RNA–seq</text>
<text x="2130" y="1721.5" text-anchor="middle" fill="#d39a2a" font-size="27.6">Govaere et al. (N = 206 patients)</text>
<text x="2130" y="1747.6" text-anchor="middle" fill="#df5c35" font-size="27.6">Hoang et al. (N = 78 patients)</text>
<text x="2130" y="1773.7" text-anchor="middle" fill="#c07f92" font-size="27.6">Pantano et al. (N = 143 patients)</text>
<text text-anchor="middle" transform="translate(1839,1930) rotate(-90)" font-size="32.2">Module Score (Arb. Units)</text>
<path d="M1916 1774.3 V2085.7 H2343" fill="none" stroke="#000" stroke-width="2.5"/>
<line x1="1908" y1="1843.4" x2="1916" y2="1843.4" stroke="#222" stroke-width="2.5"/>
<text x="1900.4" y="1852.04" text-anchor="end" fill="#4d4d4d" font-size="24">0.1</text>
<line x1="1908" y1="1948.7" x2="1916" y2="1948.7" stroke="#222" stroke-width="2.5"/>
<text x="1900.4" y="1957.34" text-anchor="end" fill="#4d4d4d" font-size="24">0.0</text>
<line x1="1908" y1="2054" x2="1916" y2="2054" stroke="#222" stroke-width="2.5"/>
<text x="1900.4" y="2062.64" text-anchor="end" fill="#4d4d4d" font-size="24">−0.1</text>
<line x1="1950.71" y1="2085.7" x2="1950.71" y2="2093.7" stroke="#222" stroke-width="2.5"/>
<text x="1950.71" y="2115.7" text-anchor="middle" fill="#4d4d4d" font-size="25.2">N</text>
<line x1="2010.56" y1="2085.7" x2="2010.56" y2="2093.7" stroke="#222" stroke-width="2.5"/>
<text x="2010.56" y="2115.7" text-anchor="middle" fill="#4d4d4d" font-size="25.2">MASL</text>
<line x1="2070.05" y1="2085.7" x2="2070.05" y2="2093.7" stroke="#222" stroke-width="2.5"/>
<text x="2070.05" y="2115.7" text-anchor="middle" fill="#4d4d4d" font-size="25.2">F0</text>
<line x1="2129.9" y1="2085.7" x2="2129.9" y2="2093.7" stroke="#222" stroke-width="2.5"/>
<text x="2129.9" y="2115.7" text-anchor="middle" fill="#4d4d4d" font-size="25.2">F1</text>
<line x1="2189.01" y1="2085.7" x2="2189.01" y2="2093.7" stroke="#222" stroke-width="2.5"/>
<text x="2189.01" y="2115.7" text-anchor="middle" fill="#4d4d4d" font-size="25.2">F2</text>
<line x1="2248.86" y1="2085.7" x2="2248.86" y2="2093.7" stroke="#222" stroke-width="2.5"/>
<text x="2248.86" y="2115.7" text-anchor="middle" fill="#4d4d4d" font-size="25.2">F3</text>
<line x1="2308.34" y1="2085.7" x2="2308.34" y2="2093.7" stroke="#222" stroke-width="2.5"/>
<text x="2308.34" y="2115.7" text-anchor="middle" fill="#4d4d4d" font-size="25.2">F4</text>
<polyline points="2010.56,1924.65 2129.9,1925.76 2189.01,1909.13 2248.86,1901.74 2308.34,1888.44" fill="none" stroke="#d39a2a" stroke-width="2.5"/>
<circle cx="2010.56" cy="1924.65" r="16.52" fill="#d39a2a"/>
<circle cx="2129.9" cy="1925.76" r="13.83" fill="#d39a2a"/>
<circle cx="2189.01" cy="1909.13" r="16.52" fill="#d39a2a"/>
<circle cx="2248.86" cy="1901.74" r="16.52" fill="#d39a2a"/>
<circle cx="2308.34" cy="1888.44" r="9.61" fill="#d39a2a"/>
<line x1="2010.56" y1="1905.44" x2="2010.56" y2="1944.23" stroke="#d39a2a" stroke-width="2.4"/>
<line x1="2004.76" y1="1905.44" x2="2016.36" y2="1905.44" stroke="#d39a2a" stroke-width="2.4"/>
<line x1="2004.76" y1="1944.23" x2="2016.36" y2="1944.23" stroke="#d39a2a" stroke-width="2.4"/>
<line x1="2129.9" y1="1903.59" x2="2129.9" y2="1947.93" stroke="#d39a2a" stroke-width="2.4"/>
<line x1="2124.1" y1="1903.59" x2="2135.7" y2="1903.59" stroke="#d39a2a" stroke-width="2.4"/>
<line x1="2124.1" y1="1947.93" x2="2135.7" y2="1947.93" stroke="#d39a2a" stroke-width="2.4"/>
<line x1="2189.01" y1="1883.27" x2="2189.01" y2="1936.1" stroke="#d39a2a" stroke-width="2.4"/>
<line x1="2183.21" y1="1883.27" x2="2194.81" y2="1883.27" stroke="#d39a2a" stroke-width="2.4"/>
<line x1="2183.21" y1="1936.1" x2="2194.81" y2="1936.1" stroke="#d39a2a" stroke-width="2.4"/>
<line x1="2248.86" y1="1872.19" x2="2248.86" y2="1929.45" stroke="#d39a2a" stroke-width="2.4"/>
<line x1="2243.06" y1="1872.19" x2="2254.66" y2="1872.19" stroke="#d39a2a" stroke-width="2.4"/>
<line x1="2243.06" y1="1929.45" x2="2254.66" y2="1929.45" stroke="#d39a2a" stroke-width="2.4"/>
<line x1="2308.34" y1="1873.3" x2="2308.34" y2="1926.5" stroke="#d39a2a" stroke-width="2.4"/>
<line x1="2302.54" y1="1873.3" x2="2314.14" y2="1873.3" stroke="#d39a2a" stroke-width="2.4"/>
<line x1="2302.54" y1="1926.5" x2="2314.14" y2="1926.5" stroke="#d39a2a" stroke-width="2.4"/>
<polyline points="2070.05,2042.14 2129.9,2027.36 2189.01,2011.47 2248.86,1983.02 2308.34,1914.68" fill="none" stroke="#df5c35" stroke-width="2.5"/>
<circle cx="2070.05" cy="2042.14" r="12.68" fill="#df5c35"/>
<circle cx="2129.9" cy="2027.36" r="12.68" fill="#df5c35"/>
<circle cx="2189.01" cy="2011.47" r="8.84" fill="#df5c35"/>
<circle cx="2248.86" cy="1983.02" r="10.37" fill="#df5c35"/>
<circle cx="2308.34" cy="1914.68" r="3.84" fill="#df5c35"/>
<line x1="2070.05" y1="2012.21" x2="2070.05" y2="2071.69" stroke="#df5c35" stroke-width="2.4"/>
<line x1="2064.25" y1="2012.21" x2="2075.85" y2="2012.21" stroke="#df5c35" stroke-width="2.4"/>
<line x1="2064.25" y1="2071.69" x2="2075.85" y2="2071.69" stroke="#df5c35" stroke-width="2.4"/>
<line x1="2129.9" y1="2000.76" x2="2129.9" y2="2053.59" stroke="#df5c35" stroke-width="2.4"/>
<line x1="2124.1" y1="2000.76" x2="2135.7" y2="2000.76" stroke="#df5c35" stroke-width="2.4"/>
<line x1="2124.1" y1="2053.59" x2="2135.7" y2="2053.59" stroke="#df5c35" stroke-width="2.4"/>
<line x1="2189.01" y1="1973.05" x2="2189.01" y2="2048.79" stroke="#df5c35" stroke-width="2.4"/>
<line x1="2183.21" y1="1973.05" x2="2194.81" y2="1973.05" stroke="#df5c35" stroke-width="2.4"/>
<line x1="2183.21" y1="2048.79" x2="2194.81" y2="2048.79" stroke="#df5c35" stroke-width="2.4"/>
<line x1="2248.86" y1="1929.45" x2="2248.86" y2="2038.44" stroke="#df5c35" stroke-width="2.4"/>
<line x1="2243.06" y1="1929.45" x2="2254.66" y2="1929.45" stroke="#df5c35" stroke-width="2.4"/>
<line x1="2243.06" y1="2038.44" x2="2254.66" y2="2038.44" stroke="#df5c35" stroke-width="2.4"/>
<line x1="2308.34" y1="1873.3" x2="2308.34" y2="1955.32" stroke="#df5c35" stroke-width="2.4"/>
<line x1="2302.54" y1="1873.3" x2="2314.14" y2="1873.3" stroke="#df5c35" stroke-width="2.4"/>
<line x1="2302.54" y1="1955.32" x2="2314.14" y2="1955.32" stroke="#df5c35" stroke-width="2.4"/>
<polyline points="1950.71,1967.14 2070.05,1941.28 2129.9,1943.49 2189.01,1935 2248.86,1922.8 2308.34,1848.17" fill="none" stroke="#c07f92" stroke-width="2.5"/>
<circle cx="1950.71" cy="1967.14" r="13.45" fill="#c07f92"/>
<circle cx="2070.05" cy="1941.28" r="14.22" fill="#c07f92"/>
<circle cx="2129.9" cy="1943.49" r="13.45" fill="#c07f92"/>
<circle cx="2189.01" cy="1935" r="12.68" fill="#c07f92"/>
<circle cx="2248.86" cy="1922.8" r="8.45" fill="#c07f92"/>
<circle cx="2308.34" cy="1848.17" r="9.22" fill="#c07f92"/>
<line x1="1950.71" y1="1941.28" x2="1950.71" y2="1993" stroke="#c07f92" stroke-width="2.4"/>
<line x1="1944.91" y1="1941.28" x2="1956.51" y2="1941.28" stroke="#c07f92" stroke-width="2.4"/>
<line x1="1944.91" y1="1993" x2="1956.51" y2="1993" stroke="#c07f92" stroke-width="2.4"/>
<line x1="2070.05" y1="1909.5" x2="2070.05" y2="1973.05" stroke="#c07f92" stroke-width="2.4"/>
<line x1="2064.25" y1="1909.5" x2="2075.85" y2="1909.5" stroke="#c07f92" stroke-width="2.4"/>
<line x1="2064.25" y1="1973.05" x2="2075.85" y2="1973.05" stroke="#c07f92" stroke-width="2.4"/>
<line x1="2129.9" y1="1910.24" x2="2129.9" y2="1976.37" stroke="#c07f92" stroke-width="2.4"/>
<line x1="2124.1" y1="1910.24" x2="2135.7" y2="1910.24" stroke="#c07f92" stroke-width="2.4"/>
<line x1="2124.1" y1="1976.37" x2="2135.7" y2="1976.37" stroke="#c07f92" stroke-width="2.4"/>
<line x1="2189.01" y1="1904.7" x2="2189.01" y2="1965.66" stroke="#c07f92" stroke-width="2.4"/>
<line x1="2183.21" y1="1904.7" x2="2194.81" y2="1904.7" stroke="#c07f92" stroke-width="2.4"/>
<line x1="2183.21" y1="1965.66" x2="2194.81" y2="1965.66" stroke="#c07f92" stroke-width="2.4"/>
<line x1="2248.86" y1="1910.24" x2="2248.86" y2="1935" stroke="#c07f92" stroke-width="2.4"/>
<line x1="2243.06" y1="1910.24" x2="2254.66" y2="1910.24" stroke="#c07f92" stroke-width="2.4"/>
<line x1="2243.06" y1="1935" x2="2254.66" y2="1935" stroke="#c07f92" stroke-width="2.4"/>
<line x1="2308.34" y1="1789.06" x2="2308.34" y2="1907.29" stroke="#c07f92" stroke-width="2.4"/>
<line x1="2302.54" y1="1789.06" x2="2314.14" y2="1789.06" stroke="#c07f92" stroke-width="2.4"/>
<line x1="2302.54" y1="1907.29" x2="2314.14" y2="1907.29" stroke="#c07f92" stroke-width="2.4"/>
<text x="1924.5" y="1817.5" font-size="27.5" fill="#d39a2a">p = 3.3×10<tspan font-size="17" dy="-11">-12</tspan></text>
<text x="1924.5" y="1844.5" font-size="27.5" fill="#df5c35">p = 2.6×10<tspan font-size="17" dy="-11">-8</tspan></text>
<text x="1924.5" y="1871.2" font-size="27.5" fill="#c07f92">p = 2.6×10<tspan font-size="17" dy="-11">-14</tspan></text>
<text x="1927.4" y="2166" font-size="32.5">Num. Patients</text>
<circle cx="2166.8" cy="2157.4" r="8.9" fill="#000"/>
<text x="2203.8" y="2166.5" font-size="24.8">10</text>
<circle cx="2268.4" cy="2157.4" r="15.9" fill="#000"/>
<text x="2304.7" y="2166.5" font-size="24.8">50</text>
<text x="2502" y="1593" font-size="41.67">K</text>
<text x="2766.4" y="1638.3" text-anchor="middle" font-size="37">MASLD and Cirrhosis</text>
<text x="2766.4" y="1678.5" text-anchor="middle" font-size="37">Human Proteomics</text>
<text x="2766.4" y="1751.3" text-anchor="middle" font-size="27.7">Niu et al. (N = 45 patients)</text>
<text text-anchor="middle" transform="translate(2526,1930) rotate(-90)" font-size="32.2">Module Score (Arb. Units)</text>
<path d="M2595.4 1773.5 V2085.7 H2938.5" fill="none" stroke="#000" stroke-width="2.5"/>
<line x1="2587.4" y1="1821.5" x2="2595.4" y2="1821.5" stroke="#222" stroke-width="2.5"/>
<text x="2579.8" y="1831.4" text-anchor="end" font-size="27.5">2</text>
<line x1="2587.4" y1="1886.9" x2="2595.4" y2="1886.9" stroke="#222" stroke-width="2.5"/>
<text x="2579.8" y="1896.8" text-anchor="end" font-size="27.5">1</text>
<line x1="2587.4" y1="1952.2" x2="2595.4" y2="1952.2" stroke="#222" stroke-width="2.5"/>
<text x="2579.8" y="1962.1" text-anchor="end" font-size="27.5">0</text>
<line x1="2587.4" y1="2017.6" x2="2595.4" y2="2017.6" stroke="#222" stroke-width="2.5"/>
<text x="2579.8" y="2027.5" text-anchor="end" font-size="27.5">−1</text>
<line x1="2587.4" y1="2082.9" x2="2595.4" y2="2082.9" stroke="#222" stroke-width="2.5"/>
<text x="2579.8" y="2092.8" text-anchor="end" font-size="27.5">−2</text>
<line x1="2659.16" y1="2085.7" x2="2659.16" y2="2093.7" stroke="#222" stroke-width="2.5"/>
<g transform="translate(2658.36,2100) rotate(-45)" font-size="27.4" text-anchor="end"><text x="0" y="20">Control</text></g>
<line x1="2766.24" y1="2085.7" x2="2766.24" y2="2093.7" stroke="#222" stroke-width="2.5"/>
<g transform="translate(2765.44,2100) rotate(-45)" font-size="27.4" text-anchor="end"><text x="0" y="20">MASH</text></g>
<line x1="2873.31" y1="2085.7" x2="2873.31" y2="2093.7" stroke="#222" stroke-width="2.5"/>
<g transform="translate(2872.51,2100) rotate(-45)" font-size="27.4" text-anchor="end"><text x="0" y="20">Cirrhosis</text></g>
<path d="M2651.85 1848.03C2652.18 1849.8 2652.92 1855.05 2653.84 1858.67C2654.77 1862.29 2656.61 1866.8 2657.39 1869.76C2658.17 1872.71 2658.72 1873.82 2658.5 1876.41C2658.28 1878.99 2657.06 1882.32 2656.06 1885.27C2655.06 1888.23 2653.4 1890.45 2652.51 1894.14C2651.63 1897.84 2651.48 1902.27 2650.74 1907.44C2650 1912.61 2649.82 1919.26 2648.08 1925.18C2646.34 1931.09 2643.65 1937.37 2640.32 1942.91C2637 1948.45 2631.82 1953.99 2628.13 1958.43C2624.43 1962.86 2620.92 1965.82 2618.15 1969.51C2615.38 1973.21 2612.72 1978.01 2611.5 1980.6C2610.28 1983.18 2610.47 1983.18 2610.84 1985.03C2611.21 1986.88 2611.21 1988.72 2613.72 1991.68C2616.23 1994.64 2621.66 1999.07 2625.91 2002.76C2630.16 2006.46 2635.33 2010.15 2639.21 2013.85C2643.09 2017.54 2646.42 2021.24 2649.19 2024.93C2651.96 2028.63 2654.36 2032.69 2655.84 2036.02C2657.32 2039.34 2658.02 2041.93 2658.06 2044.88C2658.09 2047.84 2656.84 2051.16 2656.06 2053.75C2655.28 2056.34 2654.1 2057.93 2653.4 2060.4C2652.7 2062.88 2652.11 2067.24 2651.85 2068.6L2666.48 2068.6C2666.22 2067.24 2665.63 2062.88 2664.93 2060.4C2664.23 2057.93 2663.04 2056.34 2662.27 2053.75C2661.49 2051.16 2660.24 2047.84 2660.27 2044.88C2660.31 2041.93 2661.01 2039.34 2662.49 2036.02C2663.97 2032.69 2666.37 2028.63 2669.14 2024.93C2671.91 2021.24 2675.24 2017.54 2679.12 2013.85C2682.99 2010.15 2688.17 2006.46 2692.42 2002.76C2696.67 1999.07 2702.1 1994.64 2704.61 1991.68C2707.12 1988.72 2707.12 1986.88 2707.49 1985.03C2707.86 1983.18 2708.04 1983.18 2706.83 1980.6C2705.61 1978.01 2702.95 1973.21 2700.18 1969.51C2697.4 1965.82 2693.89 1962.86 2690.2 1958.43C2686.5 1953.99 2681.33 1948.45 2678.01 1942.91C2674.68 1937.37 2671.98 1931.09 2670.25 1925.18C2668.51 1919.26 2668.33 1912.61 2667.59 1907.44C2666.85 1902.27 2666.7 1897.84 2665.81 1894.14C2664.93 1890.45 2663.27 1888.23 2662.27 1885.27C2661.27 1882.32 2660.05 1878.99 2659.83 1876.41C2659.61 1873.82 2660.16 1872.71 2660.94 1869.76C2661.71 1866.8 2663.56 1862.29 2664.48 1858.67C2665.41 1855.05 2666.15 1849.8 2666.48 1848.03Z" fill="#ffffcc" stroke="#333333" stroke-width="2.5" stroke-linejoin="round"/>
<line x1="2659.16" y1="1934.49" x2="2659.16" y2="1957.98" stroke="#333333" stroke-width="2.5"/>
<line x1="2659.16" y1="1991.68" x2="2659.16" y2="2017.62" stroke="#333333" stroke-width="2.5"/>
<rect x="2648.08" y="1957.98" width="22.17" height="33.7" fill="#ffffcc" stroke="#333333" stroke-width="2.5"/>
<line x1="2648.08" y1="1979.49" x2="2670.25" y2="1979.49" stroke="#333333" stroke-width="2.5"/>
<path d="M2756.93 1922.96C2755.34 1924.44 2750.09 1928.87 2747.39 1931.83C2744.7 1934.78 2742.77 1938.11 2740.74 1940.69C2738.71 1943.28 2737.79 1945.13 2735.2 1947.34C2732.61 1949.56 2728.18 1951.78 2725.23 1953.99C2722.27 1956.21 2717.28 1958.43 2717.47 1960.65C2717.65 1962.86 2721.9 1965.08 2726.33 1967.3C2730.77 1969.51 2739.26 1971.73 2744.07 1973.95C2748.87 1976.16 2752.38 1977.64 2755.15 1980.6C2757.92 1983.55 2759.66 1988.72 2760.69 1991.68C2761.73 1994.64 2761.91 1996.11 2761.36 1998.33C2760.8 2000.55 2758.51 2002.76 2757.37 2004.98C2756.22 2007.2 2754.49 2009.41 2754.49 2011.63C2754.49 2013.85 2755.71 2015.7 2757.37 2018.28C2759.03 2020.87 2763.1 2024.19 2764.46 2027.15C2765.83 2030.1 2765.39 2031.58 2765.57 2036.02C2765.76 2040.45 2766.01 2049.32 2765.57 2053.75C2765.13 2058.18 2763.91 2059.55 2762.91 2062.62C2761.91 2065.68 2760.14 2070.56 2759.59 2072.15L2772.89 2072.15C2772.33 2070.56 2770.56 2065.68 2769.56 2062.62C2768.56 2059.55 2767.34 2058.18 2766.9 2053.75C2766.46 2049.32 2766.72 2040.45 2766.9 2036.02C2767.09 2031.58 2766.64 2030.1 2768.01 2027.15C2769.38 2024.19 2773.44 2020.87 2775.1 2018.28C2776.77 2015.7 2777.98 2013.85 2777.98 2011.63C2777.98 2009.41 2776.25 2007.2 2775.1 2004.98C2773.96 2002.76 2771.67 2000.55 2771.11 1998.33C2770.56 1996.11 2770.74 1994.64 2771.78 1991.68C2772.81 1988.72 2774.55 1983.55 2777.32 1980.6C2780.09 1977.64 2783.6 1976.16 2788.4 1973.95C2793.21 1971.73 2801.7 1969.51 2806.14 1967.3C2810.57 1965.08 2814.82 1962.86 2815.01 1960.65C2815.19 1958.43 2810.2 1956.21 2807.25 1953.99C2804.29 1951.78 2799.86 1949.56 2797.27 1947.34C2794.68 1945.13 2793.76 1943.28 2791.73 1940.69C2789.7 1938.11 2787.78 1934.78 2785.08 1931.83C2782.38 1928.87 2777.14 1924.44 2775.55 1922.96Z" fill="#fd8d3c" stroke="#333333" stroke-width="2.5" stroke-linejoin="round"/>
<line x1="2766.24" y1="1922.96" x2="2766.24" y2="1948.01" stroke="#333333" stroke-width="2.5"/>
<line x1="2766.24" y1="1967.74" x2="2766.24" y2="1986.14" stroke="#333333" stroke-width="2.5"/>
<rect x="2755.37" y="1948.01" width="21.72" height="19.73" fill="#fd8d3c" stroke="#333333" stroke-width="2.5"/>
<line x1="2755.37" y1="1960.65" x2="2777.1" y2="1960.65" stroke="#333333" stroke-width="5.5"/>
<path d="M2860.45 1825.42C2859.82 1826.53 2858.97 1829.85 2856.68 1832.07C2854.39 1834.29 2850.95 1836.13 2846.71 1838.72C2842.46 1841.31 2834.88 1844.82 2831.19 1847.59C2827.49 1850.36 2824.35 1852.76 2824.54 1855.35C2824.72 1857.93 2828.23 1860.7 2832.3 1863.11C2836.36 1865.51 2844.3 1867.54 2848.92 1869.76C2853.54 1871.97 2857.72 1874.19 2860.01 1876.41C2862.3 1878.62 2862.37 1880.84 2862.67 1883.06C2862.96 1885.27 2861.48 1887.49 2861.78 1889.71C2862.08 1891.92 2862.96 1894.14 2864.44 1896.36C2865.92 1898.57 2869.28 1900.98 2870.65 1903.01C2872.01 1905.04 2872.94 1906.7 2872.64 1908.55C2872.35 1910.4 2870.43 1912.06 2868.87 1914.09C2867.32 1916.12 2864.51 1919.01 2863.33 1920.74C2862.15 1922.48 2862.04 1923.88 2861.78 1924.51L2884.83 1924.51C2884.58 1923.88 2884.47 1922.48 2883.28 1920.74C2882.1 1919.01 2879.29 1916.12 2877.74 1914.09C2876.19 1912.06 2874.27 1910.4 2873.97 1908.55C2873.68 1906.7 2874.6 1905.04 2875.97 1903.01C2877.33 1900.98 2880.7 1898.57 2882.17 1896.36C2883.65 1894.14 2884.54 1891.92 2884.83 1889.71C2885.13 1887.49 2883.65 1885.27 2883.95 1883.06C2884.24 1880.84 2884.32 1878.62 2886.61 1876.41C2888.9 1874.19 2893.07 1871.97 2897.69 1869.76C2902.31 1867.54 2910.25 1865.51 2914.32 1863.11C2918.38 1860.7 2921.89 1857.93 2922.08 1855.35C2922.26 1852.76 2919.12 1850.36 2915.43 1847.59C2911.73 1844.82 2904.16 1841.31 2899.91 1838.72C2895.66 1836.13 2892.22 1834.29 2889.93 1832.07C2887.64 1829.85 2886.79 1826.53 2886.16 1825.42Z" fill="#e31a1c" stroke="#333333" stroke-width="2.5" stroke-linejoin="round"/>
<line x1="2873.31" y1="1825.42" x2="2873.31" y2="1848.7" stroke="#333333" stroke-width="2.5"/>
<line x1="2873.31" y1="1865.32" x2="2873.31" y2="1888.6" stroke="#333333" stroke-width="2.5"/>
<rect x="2862.45" y="1848.7" width="21.72" height="16.63" fill="#e31a1c" stroke="#333333" stroke-width="2.5"/>
<line x1="2862.45" y1="1856.01" x2="2884.17" y2="1856.01" stroke="#333333" stroke-width="5.5"/>
<line x1="2648.08" y1="1979.71" x2="2884.39" y2="1979.71" stroke="#5a9fcc" stroke-width="1.7"/>
<line x1="2648.08" y1="1979.71" x2="2884.39" y2="1979.71" stroke="#2f79b0" stroke-width="1.7" stroke-dasharray="1.6 5.2"/>
<path d="M2659.16 1821.73 V1813.23 H2766.24 V1821.73" fill="none" stroke="#000" stroke-width="2.5"/>
<text x="2712.7" y="1810.23" text-anchor="middle" font-size="25.5">NS.</text>
<path d="M2659.16 1796.68 V1788.18 H2873.31 V1796.68" fill="none" stroke="#000" stroke-width="2.5"/>
<text x="2766.89" y="1790.98" text-anchor="middle" font-size="21.5" letter-spacing="1.3">***</text>
<text x="12" y="2347.5" font-size="41.67">L</text>
<text x="255" y="2392.3" text-anchor="middle" font-size="37">MASLD Tumorigenesis</text>
<text x="255" y="2432.5" text-anchor="middle" font-size="37">Mouse snRNA–seq</text>
<text x="255" y="2476.6" text-anchor="middle" font-size="27.7">This Study (N = 6 samples,</text>
<text x="255" y="2506.2" text-anchor="middle" font-size="27.7">10,707 hepatocytes)</text>
<text text-anchor="middle" transform="translate(50.7,2684) rotate(-90)" font-size="32.2">Module Score (Arb. Units)</text>
<path d="M169.4 2527.5 V2839.7 H341.6" fill="none" stroke="#000" stroke-width="2.5"/>
<line x1="161.4" y1="2585" x2="169.4" y2="2585" stroke="#222" stroke-width="2.5"/>
<text x="153.8" y="2594.9" text-anchor="end" font-size="27.5">0.4</text>
<line x1="161.4" y1="2663.6" x2="169.4" y2="2663.6" stroke="#222" stroke-width="2.5"/>
<text x="153.8" y="2673.5" text-anchor="end" font-size="27.5">0.2</text>
<line x1="161.4" y1="2742.2" x2="169.4" y2="2742.2" stroke="#222" stroke-width="2.5"/>
<text x="153.8" y="2752.1" text-anchor="end" font-size="27.5">0.0</text>
<line x1="161.4" y1="2820.8" x2="169.4" y2="2820.8" stroke="#222" stroke-width="2.5"/>
<text x="153.8" y="2830.7" text-anchor="end" font-size="27.5">−0.2</text>
<line x1="216.12" y1="2839.7" x2="216.12" y2="2847.7" stroke="#222" stroke-width="2.5"/>
<g transform="translate(215.32,2854) rotate(-45)" font-size="27.4" text-anchor="end"><text x="0" y="20">Adj. Norm.</text><text x="-7" y="44.6">High Fat</text></g>
<line x1="293.81" y1="2839.7" x2="293.81" y2="2847.7" stroke="#222" stroke-width="2.5"/>
<g transform="translate(293.01,2854) rotate(-45)" font-size="27.4" text-anchor="end"><text x="0" y="20">Tumor</text></g>
<path d="M216.12 2639.11C216.07 2643.9 215.95 2660.69 215.83 2667.88C215.71 2675.08 215.71 2677.48 215.4 2682.27C215.08 2687.07 214.8 2691.87 213.96 2696.66C213.12 2701.46 211.92 2706.25 210.36 2711.05C208.8 2715.85 206.52 2721.12 204.6 2725.44C202.69 2729.76 201.13 2733.59 198.85 2736.95C196.57 2740.31 193.05 2743.18 190.94 2745.58C188.82 2747.98 187.07 2749.42 186.19 2751.34C185.3 2753.26 186.02 2755.18 185.61 2757.09C185.2 2759.01 184.41 2760.93 183.74 2762.85C183.07 2764.77 182.09 2767.31 181.58 2768.6C181.08 2769.9 180.91 2770.02 180.72 2770.62C180.53 2771.22 180.29 2771.63 180.43 2772.2C180.58 2772.78 180.79 2773.23 181.58 2774.07C182.37 2774.91 183.38 2775.75 185.18 2777.24C186.98 2778.72 189.74 2780.83 192.37 2782.99C195.01 2785.15 198.37 2787.79 201.01 2790.19C203.65 2792.59 206.16 2794.98 208.2 2797.38C210.24 2799.78 212.09 2802.18 213.24 2804.58C214.39 2806.97 214.63 2808.17 215.11 2811.77C215.59 2815.37 215.95 2823.76 216.12 2826.16L216.12 2826.16C216.28 2823.76 216.64 2815.37 217.12 2811.77C217.6 2808.17 217.84 2806.97 218.99 2804.58C220.14 2802.18 221.99 2799.78 224.03 2797.38C226.07 2794.98 228.59 2792.59 231.22 2790.19C233.86 2787.79 237.22 2785.15 239.86 2782.99C242.49 2780.83 245.25 2778.72 247.05 2777.24C248.85 2775.75 249.86 2774.91 250.65 2774.07C251.44 2773.23 251.65 2772.78 251.8 2772.2C251.94 2771.63 251.7 2771.22 251.51 2770.62C251.32 2770.02 251.15 2769.9 250.65 2768.6C250.14 2767.31 249.16 2764.77 248.49 2762.85C247.82 2760.93 247.03 2759.01 246.62 2757.09C246.21 2755.18 246.93 2753.26 246.04 2751.34C245.16 2749.42 243.41 2747.98 241.29 2745.58C239.18 2743.18 235.66 2740.31 233.38 2736.95C231.1 2733.59 229.54 2729.76 227.63 2725.44C225.71 2721.12 223.43 2715.85 221.87 2711.05C220.31 2706.25 219.11 2701.46 218.27 2696.66C217.43 2691.87 217.15 2687.07 216.83 2682.27C216.52 2677.48 216.52 2675.08 216.4 2667.88C216.28 2660.69 216.16 2643.9 216.12 2639.11Z" fill="#f57f20" stroke="#333333" stroke-width="2.5" stroke-linejoin="round"/>
<line x1="216.12" y1="2639.11" x2="216.12" y2="2744.86" stroke="#333333" stroke-width="2.5"/>
<line x1="216.12" y1="2776.23" x2="216.12" y2="2826.16" stroke="#333333" stroke-width="2.5"/>
<rect x="207.77" y="2744.86" width="16.69" height="31.37" fill="#f57f20" stroke="#333333" stroke-width="2.5"/>
<line x1="207.77" y1="2761.12" x2="224.46" y2="2761.12" stroke="#333333" stroke-width="2.5"/>
<path d="M293.81 2554.94C293.76 2561.77 293.65 2584.31 293.53 2595.94C293.41 2607.57 293.33 2617.53 293.09 2624.72C292.85 2631.91 292.57 2634.31 292.09 2639.11C291.61 2643.9 291.01 2648.7 290.22 2653.5C289.42 2658.29 288.42 2663.09 287.34 2667.88C286.26 2672.68 285.06 2677.48 283.74 2682.27C282.42 2687.07 281.34 2691.87 279.42 2696.66C277.51 2701.46 274.63 2706.25 272.23 2711.05C269.83 2715.85 266.59 2721.36 265.04 2725.44C263.48 2729.52 263.48 2732.39 262.88 2735.51C262.28 2738.63 262.04 2741.99 261.44 2744.14C260.84 2746.3 259.83 2747.38 259.28 2748.46C258.73 2749.54 258.08 2749.9 258.13 2750.62C258.18 2751.34 258.73 2751.7 259.57 2752.78C260.41 2753.86 261.53 2754.94 263.17 2757.09C264.8 2759.25 267.12 2762.85 269.35 2765.73C271.58 2768.6 274.15 2771.48 276.55 2774.36C278.94 2777.24 281.58 2780.12 283.74 2782.99C285.9 2785.87 288.06 2788.75 289.5 2791.63C290.94 2794.5 291.65 2795.94 292.37 2800.26C293.09 2804.58 293.57 2814.65 293.81 2817.53L293.81 2817.53C294.05 2814.65 294.53 2804.58 295.25 2800.26C295.97 2795.94 296.69 2794.5 298.13 2791.63C299.57 2788.75 301.73 2785.87 303.88 2782.99C306.04 2780.12 308.68 2777.24 311.08 2774.36C313.48 2771.48 316.04 2768.6 318.27 2765.73C320.5 2762.85 322.83 2759.25 324.46 2757.09C326.09 2754.94 327.22 2753.86 328.06 2752.78C328.9 2751.7 329.45 2751.34 329.5 2750.62C329.54 2749.9 328.9 2749.54 328.35 2748.46C327.79 2747.38 326.79 2746.3 326.19 2744.14C325.59 2741.99 325.35 2738.63 324.75 2735.51C324.15 2732.39 324.15 2729.52 322.59 2725.44C321.03 2721.36 317.79 2715.85 315.4 2711.05C313 2706.25 310.12 2701.46 308.2 2696.66C306.28 2691.87 305.2 2687.07 303.88 2682.27C302.57 2677.48 301.37 2672.68 300.29 2667.88C299.21 2663.09 298.2 2658.29 297.41 2653.5C296.62 2648.7 296.02 2643.9 295.54 2639.11C295.06 2634.31 294.77 2631.91 294.53 2624.72C294.29 2617.53 294.22 2607.57 294.1 2595.94C293.98 2584.31 293.86 2561.77 293.81 2554.94Z" fill="#800026" stroke="#333333" stroke-width="2.5" stroke-linejoin="round"/>
<line x1="293.81" y1="2554.94" x2="293.81" y2="2716.81" stroke="#333333" stroke-width="2.5"/>
<line x1="293.81" y1="2758.53" x2="293.81" y2="2817.53" stroke="#333333" stroke-width="2.5"/>
<rect x="285.32" y="2716.81" width="16.98" height="41.73" fill="#800026" stroke="#333333" stroke-width="2.5"/>
<line x1="285.32" y1="2739.4" x2="302.3" y2="2739.4" stroke="#333333" stroke-width="5.5"/>
<line x1="208.92" y1="2761.12" x2="301.73" y2="2761.12" stroke="#5a9fcc" stroke-width="1.7"/>
<line x1="208.92" y1="2761.12" x2="301.73" y2="2761.12" stroke="#2f79b0" stroke-width="1.7" stroke-dasharray="1.6 5.2"/>
<path d="M216.12 2550.92 V2542.42 H293.81 V2550.92" fill="none" stroke="#000" stroke-width="2.5"/>
<text x="255.61" y="2545.22" text-anchor="middle" font-size="21.5" letter-spacing="1.3">***</text>
<text x="603" y="2347" font-size="41.67">M</text>
<text x="840" y="2392.3" text-anchor="middle" font-size="37">MASLD to HCC</text>
<text x="840" y="2432.5" text-anchor="middle" font-size="37">Human snRNA–seq</text>
<text x="840" y="2476.6" text-anchor="middle" font-size="27.7">Filliol et al. (N = 12 patients,</text>
<text x="840" y="2506.2" text-anchor="middle" font-size="27.7">58,717 hepatocytes)</text>
<text text-anchor="middle" transform="translate(628,2684) rotate(-90)" font-size="32.2">Module Score (Arb. Units)</text>
<path d="M711.5 2527.5 V2839.7 H969.8" fill="none" stroke="#000" stroke-width="2.5"/>
<line x1="703.5" y1="2603.1" x2="711.5" y2="2603.1" stroke="#222" stroke-width="2.5"/>
<text x="695.9" y="2613" text-anchor="end" font-size="27.5">0.50</text>
<line x1="703.5" y1="2692.4" x2="711.5" y2="2692.4" stroke="#222" stroke-width="2.5"/>
<text x="695.9" y="2702.3" text-anchor="end" font-size="27.5">0.25</text>
<line x1="703.5" y1="2781.7" x2="711.5" y2="2781.7" stroke="#222" stroke-width="2.5"/>
<text x="695.9" y="2791.6" text-anchor="end" font-size="27.5">0.00</text>
<line x1="748.28" y1="2839.7" x2="748.28" y2="2847.7" stroke="#222" stroke-width="2.5"/>
<g transform="translate(747.48,2854) rotate(-45)" font-size="27.4" text-anchor="end"><text x="0" y="20">Healthy</text></g>
<line x1="809.48" y1="2839.7" x2="809.48" y2="2847.7" stroke="#222" stroke-width="2.5"/>
<g transform="translate(808.68,2854) rotate(-45)" font-size="27.4" text-anchor="end"><text x="0" y="20">MASLD</text></g>
<line x1="870.69" y1="2839.7" x2="870.69" y2="2847.7" stroke="#222" stroke-width="2.5"/>
<g transform="translate(869.89,2854) rotate(-45)" font-size="27.4" text-anchor="end"><text x="0" y="20">Cirrhosis</text></g>
<line x1="931.9" y1="2839.7" x2="931.9" y2="2847.7" stroke="#222" stroke-width="2.5"/>
<g transform="translate(931.1,2854) rotate(-45)" font-size="27.4" text-anchor="end"><text x="0" y="20">HCC</text></g>
<path d="M748.28 2686.07C748.22 2693.54 748.05 2720.55 747.93 2730.9C747.82 2741.24 747.87 2742.97 747.59 2748.14C747.3 2753.31 746.95 2758.2 746.21 2761.93C745.46 2765.67 744.48 2767.97 743.1 2770.55C741.72 2773.14 739.94 2775.15 737.93 2777.45C735.92 2779.75 733.33 2782.19 731.03 2784.34C728.74 2786.5 725.78 2788.8 724.14 2790.38C722.5 2791.96 721.87 2792.97 721.21 2793.83C720.55 2794.69 720.17 2794.98 720.17 2795.55C720.17 2796.13 720.26 2796.41 721.21 2797.28C722.16 2798.14 723.36 2799.14 725.86 2800.72C728.36 2802.3 733.19 2804.89 736.21 2806.76C739.22 2808.63 742.18 2810.21 743.97 2811.93C745.75 2813.66 746.18 2814.95 746.9 2817.1C747.61 2819.26 748.05 2823.57 748.28 2824.86L748.28 2824.86C748.51 2823.57 748.94 2819.26 749.66 2817.1C750.37 2814.95 750.8 2813.66 752.59 2811.93C754.37 2810.21 757.33 2808.63 760.34 2806.76C763.36 2804.89 768.19 2802.3 770.69 2800.72C773.19 2799.14 774.4 2798.14 775.34 2797.28C776.29 2796.41 776.38 2796.13 776.38 2795.55C776.38 2794.98 776.01 2794.69 775.34 2793.83C774.68 2792.97 774.05 2791.96 772.41 2790.38C770.78 2788.8 767.82 2786.5 765.52 2784.34C763.22 2782.19 760.63 2779.75 758.62 2777.45C756.61 2775.15 754.83 2773.14 753.45 2770.55C752.07 2767.97 751.09 2765.67 750.34 2761.93C749.6 2758.2 749.25 2753.31 748.97 2748.14C748.68 2742.97 748.74 2741.24 748.62 2730.9C748.51 2720.55 748.33 2693.54 748.28 2686.07Z" fill="#ffffcc" stroke="#333333" stroke-width="2.5" stroke-linejoin="round"/>
<line x1="748.28" y1="2686.07" x2="748.28" y2="2783.83" stroke="#333333" stroke-width="2.5"/>
<line x1="748.28" y1="2799.86" x2="748.28" y2="2824.86" stroke="#333333" stroke-width="2.5"/>
<rect x="741.64" y="2783.83" width="13.28" height="16.03" fill="#ffffcc" stroke="#333333" stroke-width="2.5"/>
<line x1="741.64" y1="2792.62" x2="754.91" y2="2792.62" stroke="#333333" stroke-width="2.5"/>
<path d="M809.48 2653.31C809.43 2663.37 809.25 2700.72 809.14 2713.66C809.02 2726.59 809.08 2725.72 808.79 2730.9C808.51 2736.07 808.45 2740.67 807.41 2744.69C806.38 2748.71 804.54 2751.59 802.59 2755.03C800.63 2758.48 797.84 2762.22 795.69 2765.38C793.53 2768.54 791.67 2771.41 789.66 2774C787.64 2776.59 785 2778.74 783.62 2780.9C782.24 2783.05 781.67 2784.92 781.38 2786.93C781.09 2788.94 780.66 2791.1 781.9 2792.97C783.13 2794.83 786.21 2796.41 788.79 2798.14C791.38 2799.86 794.83 2801.59 797.41 2803.31C800 2805.03 802.53 2806.76 804.31 2808.48C806.09 2810.21 807.24 2812.36 808.1 2813.66C808.97 2814.95 809.25 2815.81 809.48 2816.24L809.48 2816.24C809.71 2815.81 810 2814.95 810.86 2813.66C811.72 2812.36 812.87 2810.21 814.66 2808.48C816.44 2806.76 818.97 2805.03 821.55 2803.31C824.14 2801.59 827.59 2799.86 830.17 2798.14C832.76 2796.41 835.83 2794.83 837.07 2792.97C838.3 2791.1 837.87 2788.94 837.59 2786.93C837.3 2784.92 836.72 2783.05 835.34 2780.9C833.97 2778.74 831.32 2776.59 829.31 2774C827.3 2771.41 825.43 2768.54 823.28 2765.38C821.12 2762.22 818.33 2758.48 816.38 2755.03C814.43 2751.59 812.59 2748.71 811.55 2744.69C810.52 2740.67 810.46 2736.07 810.17 2730.9C809.89 2725.72 809.94 2726.59 809.83 2713.66C809.71 2700.72 809.54 2663.37 809.48 2653.31Z" fill="#fed976" stroke="#333333" stroke-width="2.5" stroke-linejoin="round"/>
<line x1="809.48" y1="2653.31" x2="809.48" y2="2772.79" stroke="#333333" stroke-width="2.5"/>
<line x1="809.48" y1="2793.48" x2="809.48" y2="2816.24" stroke="#333333" stroke-width="2.5"/>
<rect x="802.93" y="2772.79" width="13.1" height="20.69" fill="#fed976" stroke="#333333" stroke-width="2.5"/>
<line x1="802.93" y1="2784.34" x2="816.03" y2="2784.34" stroke="#333333" stroke-width="5.5"/>
<path d="M870.69 2659.34C870.63 2668.4 870.46 2700.29 870.34 2713.66C870.23 2727.02 870.23 2732.91 870 2739.52C869.77 2746.13 869.86 2749 868.97 2753.31C868.07 2757.62 866.09 2761.93 864.66 2765.38C863.22 2768.83 862.07 2771.13 860.34 2774C858.62 2776.87 856.32 2780.03 854.31 2782.62C852.3 2785.21 850.06 2787.65 848.28 2789.52C846.49 2791.39 844.57 2792.82 843.62 2793.83C842.67 2794.83 842.59 2794.98 842.59 2795.55C842.59 2796.13 842.67 2796.27 843.62 2797.28C844.57 2798.28 846.06 2800.01 848.28 2801.59C850.49 2803.17 854.17 2805.03 856.9 2806.76C859.63 2808.48 862.59 2810.35 864.66 2811.93C866.72 2813.51 868.3 2815.03 869.31 2816.24C870.32 2817.45 870.46 2818.68 870.69 2819.17L870.69 2819.17C870.92 2818.68 871.06 2817.45 872.07 2816.24C873.07 2815.03 874.66 2813.51 876.72 2811.93C878.79 2810.35 881.75 2808.48 884.48 2806.76C887.21 2805.03 890.89 2803.17 893.1 2801.59C895.32 2800.01 896.81 2798.28 897.76 2797.28C898.71 2796.27 898.79 2796.13 898.79 2795.55C898.79 2794.98 898.71 2794.83 897.76 2793.83C896.81 2792.82 894.89 2791.39 893.1 2789.52C891.32 2787.65 889.08 2785.21 887.07 2782.62C885.06 2780.03 882.76 2776.87 881.03 2774C879.31 2771.13 878.16 2768.83 876.72 2765.38C875.29 2761.93 873.3 2757.62 872.41 2753.31C871.52 2749 871.61 2746.13 871.38 2739.52C871.15 2732.91 871.15 2727.02 871.03 2713.66C870.92 2700.29 870.75 2668.4 870.69 2659.34Z" fill="#e31a1c" stroke="#333333" stroke-width="2.5" stroke-linejoin="round"/>
<line x1="870.69" y1="2659.34" x2="870.69" y2="2777.97" stroke="#333333" stroke-width="2.5"/>
<line x1="870.69" y1="2798.66" x2="870.69" y2="2819.17" stroke="#333333" stroke-width="2.5"/>
<rect x="864.14" y="2777.97" width="13.1" height="20.69" fill="#e31a1c" stroke="#333333" stroke-width="2.5"/>
<line x1="864.14" y1="2790.9" x2="877.24" y2="2790.9" stroke="#333333" stroke-width="5.5"/>
<path d="M931.9 2598.14C931.84 2608.77 931.67 2646.99 931.55 2661.93C931.44 2676.87 931.49 2680.61 931.21 2687.79C930.92 2694.98 930.57 2700.15 929.83 2705.03C929.08 2709.92 928.39 2712.79 926.72 2717.1C925.06 2721.41 922.13 2726.3 919.83 2730.9C917.53 2735.49 915.09 2740.38 912.93 2744.69C910.78 2749 908.39 2752.74 906.9 2756.76C905.4 2760.78 904.54 2765.67 903.97 2768.83C903.39 2771.99 903.1 2773.43 903.45 2775.72C903.79 2778.02 904.45 2780.03 906.03 2782.62C907.61 2785.21 910.49 2788.37 912.93 2791.24C915.37 2794.11 918.25 2796.99 920.69 2799.86C923.13 2802.74 925.95 2805.9 927.59 2808.48C929.22 2811.07 929.8 2812.36 930.52 2815.38C931.24 2818.4 931.67 2824.72 931.9 2826.59L931.9 2826.59C932.13 2824.72 932.56 2818.4 933.28 2815.38C933.99 2812.36 934.57 2811.07 936.21 2808.48C937.84 2805.9 940.66 2802.74 943.1 2799.86C945.55 2796.99 948.42 2794.11 950.86 2791.24C953.3 2788.37 956.18 2785.21 957.76 2782.62C959.34 2780.03 960 2778.02 960.34 2775.72C960.69 2773.43 960.4 2771.99 959.83 2768.83C959.25 2765.67 958.39 2760.78 956.9 2756.76C955.4 2752.74 953.02 2749 950.86 2744.69C948.71 2740.38 946.26 2735.49 943.97 2730.9C941.67 2726.3 938.74 2721.41 937.07 2717.1C935.4 2712.79 934.71 2709.92 933.97 2705.03C933.22 2700.15 932.87 2694.98 932.59 2687.79C932.3 2680.61 932.36 2676.87 932.24 2661.93C932.13 2646.99 931.95 2608.77 931.9 2598.14Z" fill="#800026" stroke="#333333" stroke-width="2.5" stroke-linejoin="round"/>
<line x1="931.9" y1="2598.14" x2="931.9" y2="2751.93" stroke="#333333" stroke-width="2.5"/>
<line x1="931.9" y1="2784" x2="931.9" y2="2826.59" stroke="#333333" stroke-width="2.5"/>
<rect x="925.34" y="2751.93" width="13.1" height="32.07" fill="#800026" stroke="#333333" stroke-width="2.5"/>
<line x1="925.34" y1="2769.69" x2="938.45" y2="2769.69" stroke="#333333" stroke-width="5.5"/>
<line x1="742.24" y1="2792.97" x2="938.79" y2="2792.97" stroke="#5a9fcc" stroke-width="1.7"/>
<line x1="742.24" y1="2792.97" x2="938.79" y2="2792.97" stroke="#2f79b0" stroke-width="1.7" stroke-dasharray="1.6 5.2"/>
<path d="M748.28 2596.64 V2588.14 H809.48 V2596.64" fill="none" stroke="#000" stroke-width="2.5"/>
<text x="779.53" y="2590.94" text-anchor="middle" font-size="21.5" letter-spacing="1.3">***</text>
<path d="M748.28 2573.53 V2565.03 H870.69 V2573.53" fill="none" stroke="#000" stroke-width="2.5"/>
<text x="810.13" y="2567.83" text-anchor="middle" font-size="21.5" letter-spacing="1.3">***</text>
<path d="M748.28 2550.6 V2542.1 H931.9 V2550.6" fill="none" stroke="#000" stroke-width="2.5"/>
<text x="840.74" y="2544.9" text-anchor="middle" font-size="21.5" letter-spacing="1.3">***</text>
<text x="1171" y="2347" font-size="41.67">M</text>
<text x="1467" y="2392.3" text-anchor="middle" font-size="37">MASLD Progression</text>
<text x="1467" y="2432.5" text-anchor="middle" font-size="37">Mouse scRNA–seq</text>
<text x="1467" y="2476.6" text-anchor="middle" font-size="27.7">This Study (N = 17 mice,</text>
<text x="1467" y="2506.2" text-anchor="middle" font-size="27.7">11,449 hepatocytes)</text>
<text text-anchor="middle" transform="translate(1196,2684) rotate(-90)" font-size="32.2">Module Score (Arb. Units)</text>
<path d="M1296.3 2527.5 V2839.7 H1639.5" fill="none" stroke="#000" stroke-width="2.5"/>
<line x1="1288.3" y1="2581.4" x2="1296.3" y2="2581.4" stroke="#222" stroke-width="2.5"/>
<text x="1280.7" y="2591.3" text-anchor="end" font-size="27.5">0.50</text>
<line x1="1288.3" y1="2665.2" x2="1296.3" y2="2665.2" stroke="#222" stroke-width="2.5"/>
<text x="1280.7" y="2675.1" text-anchor="end" font-size="27.5">0.25</text>
<line x1="1288.3" y1="2749" x2="1296.3" y2="2749" stroke="#222" stroke-width="2.5"/>
<text x="1280.7" y="2758.9" text-anchor="end" font-size="27.5">0.00</text>
<line x1="1288.3" y1="2832.8" x2="1296.3" y2="2832.8" stroke="#222" stroke-width="2.5"/>
<text x="1280.7" y="2842.7" text-anchor="end" font-size="27.5">−0.25</text>
<line x1="1329.44" y1="2839.7" x2="1329.44" y2="2847.7" stroke="#222" stroke-width="2.5"/>
<g transform="translate(1328.64,2854) rotate(-45)" font-size="27.4" text-anchor="end"><text x="0" y="20">6mo.CD</text></g>
<line x1="1384.58" y1="2839.7" x2="1384.58" y2="2847.7" stroke="#222" stroke-width="2.5"/>
<g transform="translate(1383.78,2854) rotate(-45)" font-size="27.4" text-anchor="end"><text x="0" y="20">6mo.HFD</text></g>
<line x1="1439.72" y1="2839.7" x2="1439.72" y2="2847.7" stroke="#222" stroke-width="2.5"/>
<g transform="translate(1438.92,2854) rotate(-45)" font-size="27.4" text-anchor="end"><text x="0" y="20">12mo.CD</text></g>
<line x1="1495.08" y1="2839.7" x2="1495.08" y2="2847.7" stroke="#222" stroke-width="2.5"/>
<g transform="translate(1494.28,2854) rotate(-45)" font-size="27.4" text-anchor="end"><text x="0" y="20">12mo.HFD</text></g>
<line x1="1550.45" y1="2839.7" x2="1550.45" y2="2847.7" stroke="#222" stroke-width="2.5"/>
<g transform="translate(1549.65,2854) rotate(-45)" font-size="27.4" text-anchor="end"><text x="0" y="20">15mo.CD</text></g>
<line x1="1605.81" y1="2839.7" x2="1605.81" y2="2847.7" stroke="#222" stroke-width="2.5"/>
<g transform="translate(1605.01,2854) rotate(-45)" font-size="27.4" text-anchor="end"><text x="0" y="20">15mo.HFD</text></g>
<path d="M1329.44 2554.76C1329.37 2568.62 1329.18 2616.47 1328.99 2637.92C1328.8 2659.38 1328.68 2672.1 1328.3 2683.49C1327.92 2694.88 1327.47 2699.82 1326.71 2706.27C1325.95 2712.73 1325 2717.29 1323.75 2722.22C1322.49 2727.16 1320.9 2731.72 1319.19 2735.89C1317.48 2740.07 1315.2 2743.87 1313.49 2747.29C1311.78 2750.7 1310.27 2753.74 1308.94 2756.4C1307.61 2759.06 1306.35 2761.15 1305.52 2763.23C1304.68 2765.32 1303.73 2767.03 1303.92 2768.93C1304.11 2770.83 1305.06 2772.16 1306.66 2774.63C1308.25 2777.09 1311.21 2780.7 1313.49 2783.74C1315.77 2786.78 1318.13 2789.82 1320.33 2792.85C1322.53 2795.89 1325.19 2796.58 1326.71 2801.97C1328.23 2807.36 1328.99 2821.33 1329.44 2825.21L1329.44 2825.21C1329.9 2821.33 1330.66 2807.36 1332.18 2801.97C1333.69 2796.58 1336.35 2795.89 1338.56 2792.85C1340.76 2789.82 1343.11 2786.78 1345.39 2783.74C1347.67 2780.7 1350.63 2777.09 1352.23 2774.63C1353.82 2772.16 1354.77 2770.83 1354.96 2768.93C1355.15 2767.03 1354.2 2765.32 1353.37 2763.23C1352.53 2761.15 1351.28 2759.06 1349.95 2756.4C1348.62 2753.74 1347.1 2750.7 1345.39 2747.29C1343.68 2743.87 1341.4 2740.07 1339.69 2735.89C1337.99 2731.72 1336.39 2727.16 1335.14 2722.22C1333.88 2717.29 1332.94 2712.73 1332.18 2706.27C1331.42 2699.82 1330.96 2694.88 1330.58 2683.49C1330.2 2672.1 1330.09 2659.38 1329.9 2637.92C1329.71 2616.47 1329.52 2568.62 1329.44 2554.76Z" fill="#a6c8df" stroke="#333333" stroke-width="2.5" stroke-linejoin="round"/>
<line x1="1329.44" y1="2554.76" x2="1329.44" y2="2750.7" stroke="#333333" stroke-width="2.5"/>
<line x1="1329.44" y1="2780.32" x2="1329.44" y2="2825.21" stroke="#333333" stroke-width="2.5"/>
<rect x="1323.63" y="2750.7" width="11.62" height="29.62" fill="#a6c8df" stroke="#333333" stroke-width="2.5"/>
<line x1="1323.63" y1="2766.65" x2="1335.25" y2="2766.65" stroke="#333333" stroke-width="2.5"/>
<path d="M1384.58 2615.59C1384.5 2623.11 1384.31 2649.39 1384.12 2660.71C1383.93 2672.02 1383.93 2676.65 1383.44 2683.49C1382.95 2690.32 1382.3 2696.02 1381.16 2701.72C1380.02 2707.41 1378.31 2712.35 1376.61 2717.67C1374.9 2722.98 1372.81 2728.68 1370.91 2733.61C1369.01 2738.55 1366.92 2743.11 1365.21 2747.29C1363.5 2751.46 1361.68 2755.64 1360.66 2758.68C1359.63 2761.72 1358.87 2762.85 1359.06 2765.51C1359.25 2768.17 1360.01 2771.21 1361.8 2774.63C1363.58 2778.04 1367.11 2782.22 1369.77 2786.02C1372.43 2789.82 1375.66 2793.99 1377.74 2797.41C1379.83 2800.83 1381.16 2801.78 1382.3 2806.52C1383.44 2811.27 1384.2 2822.66 1384.58 2825.89L1384.58 2825.89C1384.96 2822.66 1385.72 2811.27 1386.86 2806.52C1388 2801.78 1389.33 2800.83 1391.41 2797.41C1393.5 2793.99 1396.73 2789.82 1399.39 2786.02C1402.05 2782.22 1405.58 2778.04 1407.36 2774.63C1409.15 2771.21 1409.91 2768.17 1410.1 2765.51C1410.29 2762.85 1409.53 2761.72 1408.5 2758.68C1407.48 2755.64 1405.66 2751.46 1403.95 2747.29C1402.24 2743.11 1400.15 2738.55 1398.25 2733.61C1396.35 2728.68 1394.26 2722.98 1392.55 2717.67C1390.85 2712.35 1389.14 2707.41 1388 2701.72C1386.86 2696.02 1386.21 2690.32 1385.72 2683.49C1385.23 2676.65 1385.23 2672.02 1385.04 2660.71C1384.85 2649.39 1384.66 2623.11 1384.58 2615.59Z" fill="#fcc29a" stroke="#333333" stroke-width="2.5" stroke-linejoin="round"/>
<line x1="1384.58" y1="2615.59" x2="1384.58" y2="2739.77" stroke="#333333" stroke-width="2.5"/>
<line x1="1384.58" y1="2775.31" x2="1384.58" y2="2825.89" stroke="#333333" stroke-width="2.5"/>
<rect x="1378.66" y="2739.77" width="11.85" height="35.54" fill="#fcc29a" stroke="#333333" stroke-width="2.5"/>
<line x1="1378.66" y1="2760.27" x2="1390.5" y2="2760.27" stroke="#333333" stroke-width="5.5"/>
<path d="M1439.72 2599.64C1439.64 2606.02 1439.49 2627.74 1439.26 2637.92C1439.03 2648.1 1439.03 2653.11 1438.35 2660.71C1437.67 2668.3 1436.45 2675.89 1435.16 2683.49C1433.87 2691.08 1432.12 2699.82 1430.6 2706.27C1429.08 2712.73 1427.95 2717.29 1426.05 2722.22C1424.15 2727.16 1421.03 2732.1 1419.21 2735.89C1417.39 2739.69 1415.95 2742.35 1415.11 2745.01C1414.28 2747.67 1413.9 2749.18 1414.2 2751.84C1414.5 2754.5 1415.34 2757.54 1416.93 2760.96C1418.53 2764.37 1421.49 2768.55 1423.77 2772.35C1426.05 2776.15 1428.52 2780.32 1430.6 2783.74C1432.69 2787.16 1434.78 2787.92 1436.3 2792.85C1437.82 2797.79 1439.15 2809.94 1439.72 2813.36L1439.72 2813.36C1440.29 2809.94 1441.62 2797.79 1443.14 2792.85C1444.65 2787.92 1446.74 2787.16 1448.83 2783.74C1450.92 2780.32 1453.39 2776.15 1455.67 2772.35C1457.94 2768.55 1460.91 2764.37 1462.5 2760.96C1464.1 2757.54 1464.93 2754.5 1465.24 2751.84C1465.54 2749.18 1465.16 2747.67 1464.32 2745.01C1463.49 2742.35 1462.05 2739.69 1460.22 2735.89C1458.4 2732.1 1455.29 2727.16 1453.39 2722.22C1451.49 2717.29 1450.35 2712.73 1448.83 2706.27C1447.31 2699.82 1445.57 2691.08 1444.27 2683.49C1442.98 2675.89 1441.77 2668.3 1441.08 2660.71C1440.4 2653.11 1440.4 2648.1 1440.17 2637.92C1439.95 2627.74 1439.79 2606.02 1439.72 2599.64Z" fill="#6fa8cc" stroke="#333333" stroke-width="2.5" stroke-linejoin="round"/>
<line x1="1439.72" y1="2599.64" x2="1439.72" y2="2729.74" stroke="#333333" stroke-width="2.5"/>
<line x1="1439.72" y1="2764.83" x2="1439.72" y2="2813.36" stroke="#333333" stroke-width="2.5"/>
<rect x="1433.79" y="2729.74" width="11.85" height="35.09" fill="#6fa8cc" stroke="#333333" stroke-width="2.5"/>
<line x1="1433.79" y1="2750.02" x2="1445.64" y2="2750.02" stroke="#333333" stroke-width="2.5"/>
<path d="M1495.08 2622.66C1495.01 2626.72 1494.82 2640.69 1494.63 2647.03C1494.44 2653.38 1494.55 2655.39 1493.94 2660.71C1493.34 2666.02 1492.31 2672.86 1490.98 2678.93C1489.65 2685.01 1487.56 2691.08 1485.97 2697.16C1484.37 2703.24 1483.12 2710.07 1481.41 2715.39C1479.7 2720.7 1477.43 2724.5 1475.72 2729.06C1474.01 2733.61 1472.19 2738.55 1471.16 2742.73C1470.13 2746.91 1469.19 2750.32 1469.56 2754.12C1469.94 2757.92 1471.46 2761.72 1473.44 2765.51C1475.41 2769.31 1478.75 2773.11 1481.41 2776.9C1484.07 2780.7 1487.41 2784.88 1489.39 2788.3C1491.36 2791.71 1492.31 2794.37 1493.26 2797.41C1494.21 2800.45 1494.78 2805.01 1495.08 2806.52L1495.08 2806.52C1495.39 2805.01 1495.96 2800.45 1496.91 2797.41C1497.86 2794.37 1498.8 2791.71 1500.78 2788.3C1502.75 2784.88 1506.1 2780.7 1508.75 2776.9C1511.41 2773.11 1514.75 2769.31 1516.73 2765.51C1518.7 2761.72 1520.22 2757.92 1520.6 2754.12C1520.98 2750.32 1520.03 2746.91 1519.01 2742.73C1517.98 2738.55 1516.16 2733.61 1514.45 2729.06C1512.74 2724.5 1510.46 2720.7 1508.75 2715.39C1507.04 2710.07 1505.79 2703.24 1504.2 2697.16C1502.6 2691.08 1500.51 2685.01 1499.18 2678.93C1497.86 2672.86 1496.83 2666.02 1496.22 2660.71C1495.61 2655.39 1495.73 2653.38 1495.54 2647.03C1495.35 2640.69 1495.16 2626.72 1495.08 2622.66Z" fill="#f89d5c" stroke="#333333" stroke-width="2.5" stroke-linejoin="round"/>
<line x1="1495.08" y1="2622.66" x2="1495.08" y2="2722.91" stroke="#333333" stroke-width="2.5"/>
<line x1="1495.08" y1="2762.1" x2="1495.08" y2="2806.52" stroke="#333333" stroke-width="2.5"/>
<rect x="1489.05" y="2722.91" width="12.08" height="39.19" fill="#f89d5c" stroke="#333333" stroke-width="2.5"/>
<line x1="1489.05" y1="2745.46" x2="1501.12" y2="2745.46" stroke="#333333" stroke-width="5.5"/>
<path d="M1550.45 2655.01C1550.37 2658.24 1550.18 2668.87 1549.99 2674.38C1549.8 2679.88 1549.8 2682.73 1549.31 2688.05C1548.82 2693.36 1548.36 2700.58 1547.03 2706.27C1545.7 2711.97 1543.42 2717.67 1541.34 2722.22C1539.25 2726.78 1536.59 2730.2 1534.5 2733.61C1532.41 2737.03 1530.32 2739.69 1528.8 2742.73C1527.28 2745.77 1526.03 2749.56 1525.39 2751.84C1524.74 2754.12 1524.74 2754.5 1524.93 2756.4C1525.12 2758.3 1524.93 2760.58 1526.53 2763.23C1528.12 2765.89 1531.84 2769.31 1534.5 2772.35C1537.16 2775.39 1540.12 2778.42 1542.47 2781.46C1544.83 2784.5 1547.3 2784.77 1548.63 2790.58C1549.96 2796.39 1550.15 2812.03 1550.45 2816.32L1550.45 2816.32C1550.75 2812.03 1550.94 2796.39 1552.27 2790.58C1553.6 2784.77 1556.07 2784.5 1558.42 2781.46C1560.78 2778.42 1563.74 2775.39 1566.4 2772.35C1569.06 2769.31 1572.78 2765.89 1574.37 2763.23C1575.97 2760.58 1575.78 2758.3 1575.97 2756.4C1576.16 2754.5 1576.16 2754.12 1575.51 2751.84C1574.87 2749.56 1573.61 2745.77 1572.09 2742.73C1570.57 2739.69 1568.49 2737.03 1566.4 2733.61C1564.31 2730.2 1561.65 2726.78 1559.56 2722.22C1557.47 2717.67 1555.2 2711.97 1553.87 2706.27C1552.54 2700.58 1552.08 2693.36 1551.59 2688.05C1551.09 2682.73 1551.09 2679.88 1550.9 2674.38C1550.71 2668.87 1550.52 2658.24 1550.45 2655.01Z" fill="#3a84b0" stroke="#333333" stroke-width="2.5" stroke-linejoin="round"/>
<line x1="1550.45" y1="2655.01" x2="1550.45" y2="2742.05" stroke="#333333" stroke-width="2.5"/>
<line x1="1550.45" y1="2767.11" x2="1550.45" y2="2816.32" stroke="#333333" stroke-width="2.5"/>
<rect x="1544.64" y="2742.05" width="11.62" height="25.06" fill="#3a84b0" stroke="#333333" stroke-width="2.5"/>
<line x1="1544.64" y1="2754.8" x2="1556.26" y2="2754.8" stroke="#333333" stroke-width="2.5"/>
<path d="M1605.81 2631.09C1605.74 2634.12 1605.55 2644.38 1605.36 2649.31C1605.17 2654.25 1605.36 2655.77 1604.68 2660.71C1603.99 2665.64 1602.97 2672.86 1601.26 2678.93C1599.55 2685.01 1596.7 2691.08 1594.42 2697.16C1592.14 2703.24 1589.49 2710.07 1587.59 2715.39C1585.69 2720.7 1584.17 2724.88 1583.03 2729.06C1581.89 2733.24 1581.21 2737.22 1580.75 2740.45C1580.3 2743.68 1579.92 2745.39 1580.3 2748.42C1580.68 2751.46 1581.25 2755.07 1583.03 2758.68C1584.82 2762.29 1588.35 2766.27 1591 2770.07C1593.66 2773.87 1596.81 2778.04 1598.98 2781.46C1601.14 2784.88 1602.85 2786.02 1603.99 2790.58C1605.13 2795.13 1605.51 2805.77 1605.81 2808.8L1605.81 2808.8C1606.12 2805.77 1606.5 2795.13 1607.64 2790.58C1608.78 2786.02 1610.49 2784.88 1612.65 2781.46C1614.81 2778.04 1617.97 2773.87 1620.62 2770.07C1623.28 2766.27 1626.81 2762.29 1628.6 2758.68C1630.38 2755.07 1630.95 2751.46 1631.33 2748.42C1631.71 2745.39 1631.33 2743.68 1630.88 2740.45C1630.42 2737.22 1629.74 2733.24 1628.6 2729.06C1627.46 2724.88 1625.94 2720.7 1624.04 2715.39C1622.14 2710.07 1619.49 2703.24 1617.21 2697.16C1614.93 2691.08 1612.08 2685.01 1610.37 2678.93C1608.66 2672.86 1607.64 2665.64 1606.95 2660.71C1606.27 2655.77 1606.46 2654.25 1606.27 2649.31C1606.08 2644.38 1605.89 2634.12 1605.81 2631.09Z" fill="#f47b20" stroke="#333333" stroke-width="2.5" stroke-linejoin="round"/>
<line x1="1605.81" y1="2631.09" x2="1605.81" y2="2721.77" stroke="#333333" stroke-width="2.5"/>
<line x1="1605.81" y1="2757.99" x2="1605.81" y2="2808.8" stroke="#333333" stroke-width="2.5"/>
<rect x="1599.78" y="2721.77" width="12.08" height="36.23" fill="#f47b20" stroke="#333333" stroke-width="2.5"/>
<line x1="1599.78" y1="2741.59" x2="1611.85" y2="2741.59" stroke="#333333" stroke-width="5.5"/>
<line x1="1324.43" y1="2767.34" x2="1390.5" y2="2767.34" stroke="#5a9fcc" stroke-width="1.7"/>
<line x1="1324.43" y1="2767.34" x2="1390.5" y2="2767.34" stroke="#2f79b0" stroke-width="1.7" stroke-dasharray="1.6 5.2"/>
<line x1="1434.25" y1="2750.02" x2="1500.55" y2="2750.02" stroke="#5a9fcc" stroke-width="1.7"/>
<line x1="1434.25" y1="2750.02" x2="1500.55" y2="2750.02" stroke="#2f79b0" stroke-width="1.7" stroke-dasharray="1.6 5.2"/>
<line x1="1545.44" y1="2754.8" x2="1611.05" y2="2754.8" stroke="#5a9fcc" stroke-width="1.7"/>
<line x1="1545.44" y1="2754.8" x2="1611.05" y2="2754.8" stroke="#2f79b0" stroke-width="1.7" stroke-dasharray="1.6 5.2"/>
<path d="M1329.44 2550.73 V2542.23 H1384.58 V2550.73" fill="none" stroke="#000" stroke-width="2.5"/>
<text x="1357.66" y="2545.03" text-anchor="middle" font-size="21.5" letter-spacing="1.3">***</text>
<path d="M1439.72 2550.73 V2542.23 H1495.08 V2550.73" fill="none" stroke="#000" stroke-width="2.5"/>
<text x="1468.05" y="2545.03" text-anchor="middle" font-size="21.5" letter-spacing="1.3">**</text>
<path d="M1550.45 2550.73 V2542.23 H1605.81 V2550.73" fill="none" stroke="#000" stroke-width="2.5"/>
<text x="1578.78" y="2545.03" text-anchor="middle" font-size="21.5" letter-spacing="1.3">***</text>
<text x="1793" y="2347" font-size="41.67">O</text>
<text x="2127.3" y="2392.3" text-anchor="middle" font-size="39.5">MASLD Progression</text>
<text x="2127.3" y="2432.5" text-anchor="middle" font-size="39.5">Human Bulk RNA–seq</text>
<text x="2127.3" y="2475.5" text-anchor="middle" fill="#d39a2a" font-size="27.6">Govaere et al. (N = 206 patients)</text>
<text x="2127.3" y="2501.6" text-anchor="middle" fill="#df5c35" font-size="27.6">Hoang et al. (N = 78 patients)</text>
<text x="2127.3" y="2527.7" text-anchor="middle" fill="#c07f92" font-size="27.6">Pantano et al. (N = 143 patients)</text>
<text text-anchor="middle" transform="translate(1837,2684) rotate(-90)" font-size="32.2">Module Score (Arb. Units)</text>
<path d="M1913.4 2528.3 V2839.7 H2341.2" fill="none" stroke="#000" stroke-width="2.5"/>
<line x1="1905.4" y1="2625.3" x2="1913.4" y2="2625.3" stroke="#222" stroke-width="2.5"/>
<text x="1897.8" y="2633.94" text-anchor="end" fill="#4d4d4d" font-size="24">0.1</text>
<line x1="1905.4" y1="2729.2" x2="1913.4" y2="2729.2" stroke="#222" stroke-width="2.5"/>
<text x="1897.8" y="2737.84" text-anchor="end" fill="#4d4d4d" font-size="24">0.0</text>
<line x1="1905.4" y1="2833.2" x2="1913.4" y2="2833.2" stroke="#222" stroke-width="2.5"/>
<text x="1897.8" y="2841.84" text-anchor="end" fill="#4d4d4d" font-size="24">−0.1</text>
<line x1="1948.87" y1="2839.7" x2="1948.87" y2="2847.7" stroke="#222" stroke-width="2.5"/>
<text x="1948.87" y="2869.7" text-anchor="middle" fill="#4d4d4d" font-size="25.2">N</text>
<line x1="2008.72" y1="2839.7" x2="2008.72" y2="2847.7" stroke="#222" stroke-width="2.5"/>
<text x="2008.72" y="2869.7" text-anchor="middle" fill="#4d4d4d" font-size="25.2">MASL</text>
<line x1="2067.83" y1="2839.7" x2="2067.83" y2="2847.7" stroke="#222" stroke-width="2.5"/>
<text x="2067.83" y="2869.7" text-anchor="middle" fill="#4d4d4d" font-size="25.2">F0</text>
<line x1="2127.31" y1="2839.7" x2="2127.31" y2="2847.7" stroke="#222" stroke-width="2.5"/>
<text x="2127.31" y="2869.7" text-anchor="middle" fill="#4d4d4d" font-size="25.2">F1</text>
<line x1="2187.16" y1="2839.7" x2="2187.16" y2="2847.7" stroke="#222" stroke-width="2.5"/>
<text x="2187.16" y="2869.7" text-anchor="middle" fill="#4d4d4d" font-size="25.2">F2</text>
<line x1="2246.64" y1="2839.7" x2="2246.64" y2="2847.7" stroke="#222" stroke-width="2.5"/>
<text x="2246.64" y="2869.7" text-anchor="middle" fill="#4d4d4d" font-size="25.2">F3</text>
<line x1="2306.13" y1="2839.7" x2="2306.13" y2="2847.7" stroke="#222" stroke-width="2.5"/>
<text x="2306.13" y="2869.7" text-anchor="middle" fill="#4d4d4d" font-size="25.2">F4</text>
<polyline points="2008.72,2764.94 2127.31,2765.68 2187.16,2750.17 2246.64,2748.32 2306.13,2735.39" fill="none" stroke="#d39a2a" stroke-width="2.5"/>
<circle cx="2008.72" cy="2764.94" r="16.52" fill="#d39a2a"/>
<circle cx="2127.31" cy="2765.68" r="13.83" fill="#d39a2a"/>
<circle cx="2187.16" cy="2750.17" r="16.52" fill="#d39a2a"/>
<circle cx="2246.64" cy="2748.32" r="16.52" fill="#d39a2a"/>
<circle cx="2306.13" cy="2735.39" r="9.61" fill="#d39a2a"/>
<line x1="2008.72" y1="2740.93" x2="2008.72" y2="2788.96" stroke="#d39a2a" stroke-width="2.4"/>
<line x1="2002.92" y1="2740.93" x2="2014.52" y2="2740.93" stroke="#d39a2a" stroke-width="2.4"/>
<line x1="2002.92" y1="2788.96" x2="2014.52" y2="2788.96" stroke="#d39a2a" stroke-width="2.4"/>
<line x1="2127.31" y1="2737.24" x2="2127.31" y2="2793.76" stroke="#d39a2a" stroke-width="2.4"/>
<line x1="2121.51" y1="2737.24" x2="2133.11" y2="2737.24" stroke="#d39a2a" stroke-width="2.4"/>
<line x1="2121.51" y1="2793.76" x2="2133.11" y2="2793.76" stroke="#d39a2a" stroke-width="2.4"/>
<line x1="2187.16" y1="2722.46" x2="2187.16" y2="2776.03" stroke="#d39a2a" stroke-width="2.4"/>
<line x1="2181.36" y1="2722.46" x2="2192.96" y2="2722.46" stroke="#d39a2a" stroke-width="2.4"/>
<line x1="2181.36" y1="2776.03" x2="2192.96" y2="2776.03" stroke="#d39a2a" stroke-width="2.4"/>
<line x1="2246.64" y1="2713.22" x2="2246.64" y2="2781.57" stroke="#d39a2a" stroke-width="2.4"/>
<line x1="2240.84" y1="2713.22" x2="2252.44" y2="2713.22" stroke="#d39a2a" stroke-width="2.4"/>
<line x1="2240.84" y1="2781.57" x2="2252.44" y2="2781.57" stroke="#d39a2a" stroke-width="2.4"/>
<line x1="2306.13" y1="2705.83" x2="2306.13" y2="2764.94" stroke="#d39a2a" stroke-width="2.4"/>
<line x1="2300.33" y1="2705.83" x2="2311.93" y2="2705.83" stroke="#d39a2a" stroke-width="2.4"/>
<line x1="2300.33" y1="2764.94" x2="2311.93" y2="2764.94" stroke="#d39a2a" stroke-width="2.4"/>
<polyline points="2067.83,2751.27 2127.31,2735.39 2187.16,2720.61 2246.64,2691.79 2306.13,2607.19" fill="none" stroke="#df5c35" stroke-width="2.5"/>
<circle cx="2067.83" cy="2751.27" r="12.68" fill="#df5c35"/>
<circle cx="2127.31" cy="2735.39" r="12.68" fill="#df5c35"/>
<circle cx="2187.16" cy="2720.61" r="8.84" fill="#df5c35"/>
<circle cx="2246.64" cy="2691.79" r="10.37" fill="#df5c35"/>
<circle cx="2306.13" cy="2607.19" r="3.84" fill="#df5c35"/>
<line x1="2067.83" y1="2718.76" x2="2067.83" y2="2786.37" stroke="#df5c35" stroke-width="2.4"/>
<line x1="2062.03" y1="2718.76" x2="2073.63" y2="2718.76" stroke="#df5c35" stroke-width="2.4"/>
<line x1="2062.03" y1="2786.37" x2="2073.63" y2="2786.37" stroke="#df5c35" stroke-width="2.4"/>
<line x1="2127.31" y1="2702.14" x2="2127.31" y2="2770.49" stroke="#df5c35" stroke-width="2.4"/>
<line x1="2121.51" y1="2702.14" x2="2133.11" y2="2702.14" stroke="#df5c35" stroke-width="2.4"/>
<line x1="2121.51" y1="2770.49" x2="2133.11" y2="2770.49" stroke="#df5c35" stroke-width="2.4"/>
<line x1="2187.16" y1="2680.71" x2="2187.16" y2="2760.51" stroke="#df5c35" stroke-width="2.4"/>
<line x1="2181.36" y1="2680.71" x2="2192.96" y2="2680.71" stroke="#df5c35" stroke-width="2.4"/>
<line x1="2181.36" y1="2760.51" x2="2192.96" y2="2760.51" stroke="#df5c35" stroke-width="2.4"/>
<line x1="2246.64" y1="2588.35" x2="2246.64" y2="2795.61" stroke="#df5c35" stroke-width="2.4"/>
<line x1="2240.84" y1="2588.35" x2="2252.44" y2="2588.35" stroke="#df5c35" stroke-width="2.4"/>
<line x1="2240.84" y1="2795.61" x2="2252.44" y2="2795.61" stroke="#df5c35" stroke-width="2.4"/>
<line x1="2306.13" y1="2578.37" x2="2306.13" y2="2635.64" stroke="#df5c35" stroke-width="2.4"/>
<line x1="2300.33" y1="2578.37" x2="2311.93" y2="2578.37" stroke="#df5c35" stroke-width="2.4"/>
<line x1="2300.33" y1="2635.64" x2="2311.93" y2="2635.64" stroke="#df5c35" stroke-width="2.4"/>
<polyline points="1948.87,2797.09 2067.83,2751.27 2127.31,2748.32 2187.16,2735.39 2246.64,2705.83 2306.13,2633.79" fill="none" stroke="#c07f92" stroke-width="2.5"/>
<circle cx="1948.87" cy="2797.09" r="13.45" fill="#c07f92"/>
<circle cx="2067.83" cy="2751.27" r="14.22" fill="#c07f92"/>
<circle cx="2127.31" cy="2748.32" r="13.45" fill="#c07f92"/>
<circle cx="2187.16" cy="2735.39" r="12.68" fill="#c07f92"/>
<circle cx="2246.64" cy="2705.83" r="8.45" fill="#c07f92"/>
<circle cx="2306.13" cy="2633.79" r="9.22" fill="#c07f92"/>
<line x1="1948.87" y1="2769.38" x2="1948.87" y2="2825.16" stroke="#c07f92" stroke-width="2.4"/>
<line x1="1943.07" y1="2769.38" x2="1954.67" y2="2769.38" stroke="#c07f92" stroke-width="2.4"/>
<line x1="1943.07" y1="2825.16" x2="1954.67" y2="2825.16" stroke="#c07f92" stroke-width="2.4"/>
<line x1="2067.83" y1="2703.98" x2="2067.83" y2="2798.93" stroke="#c07f92" stroke-width="2.4"/>
<line x1="2062.03" y1="2703.98" x2="2073.63" y2="2703.98" stroke="#c07f92" stroke-width="2.4"/>
<line x1="2062.03" y1="2798.93" x2="2073.63" y2="2798.93" stroke="#c07f92" stroke-width="2.4"/>
<line x1="2127.31" y1="2687.36" x2="2127.31" y2="2809.28" stroke="#c07f92" stroke-width="2.4"/>
<line x1="2121.51" y1="2687.36" x2="2133.11" y2="2687.36" stroke="#c07f92" stroke-width="2.4"/>
<line x1="2121.51" y1="2809.28" x2="2133.11" y2="2809.28" stroke="#c07f92" stroke-width="2.4"/>
<line x1="2187.16" y1="2694.75" x2="2187.16" y2="2774.18" stroke="#c07f92" stroke-width="2.4"/>
<line x1="2181.36" y1="2694.75" x2="2192.96" y2="2694.75" stroke="#c07f92" stroke-width="2.4"/>
<line x1="2181.36" y1="2774.18" x2="2192.96" y2="2774.18" stroke="#c07f92" stroke-width="2.4"/>
<line x1="2246.64" y1="2664.08" x2="2246.64" y2="2747.58" stroke="#c07f92" stroke-width="2.4"/>
<line x1="2240.84" y1="2664.08" x2="2252.44" y2="2664.08" stroke="#c07f92" stroke-width="2.4"/>
<line x1="2240.84" y1="2747.58" x2="2252.44" y2="2747.58" stroke="#c07f92" stroke-width="2.4"/>
<line x1="2306.13" y1="2542.16" x2="2306.13" y2="2725.04" stroke="#c07f92" stroke-width="2.4"/>
<line x1="2300.33" y1="2542.16" x2="2311.93" y2="2542.16" stroke="#c07f92" stroke-width="2.4"/>
<line x1="2300.33" y1="2725.04" x2="2311.93" y2="2725.04" stroke="#c07f92" stroke-width="2.4"/>
<text x="1924.5" y="2583.9" font-size="27.5" fill="#d39a2a">p = 7.7×10<tspan font-size="17" dy="-11">-7</tspan></text>
<text x="1924.5" y="2610.5" font-size="27.5" fill="#df5c35">p = 3.3×10<tspan font-size="17" dy="-11">-5</tspan></text>
<text x="1924.5" y="2636.9" font-size="27.5" fill="#c07f92">p = 2.4×10<tspan font-size="17" dy="-11">-15</tspan></text>
<text x="1924.9" y="2917.8" font-size="32.5">Num. Patients</text>
<circle cx="2164.3" cy="2909.2" r="8.9" fill="#000"/>
<text x="2201.3" y="2918.3" font-size="24.8">10</text>
<circle cx="2265.9" cy="2909.2" r="15.9" fill="#000"/>
<text x="2302.2" y="2918.3" font-size="24.8">50</text>
<text x="2502" y="2347" font-size="41.67">P</text>
<text x="2766.4" y="2392.3" text-anchor="middle" font-size="37">MASLD and Cirrhosis</text>
<text x="2766.4" y="2432.5" text-anchor="middle" font-size="37">Human Proteomics</text>
<text x="2766.4" y="2505.3" text-anchor="middle" font-size="27.7">Niu et al. (N = 45 patients)</text>
<text text-anchor="middle" transform="translate(2526,2684) rotate(-90)" font-size="32.2">Module Score (Arb. Units)</text>
<path d="M2595.4 2527.5 V2839.7 H2938.5" fill="none" stroke="#000" stroke-width="2.5"/>
<line x1="2587.4" y1="2572.9" x2="2595.4" y2="2572.9" stroke="#222" stroke-width="2.5"/>
<text x="2579.8" y="2582.8" text-anchor="end" font-size="27.5">1.5</text>
<line x1="2587.4" y1="2644.6" x2="2595.4" y2="2644.6" stroke="#222" stroke-width="2.5"/>
<text x="2579.8" y="2654.5" text-anchor="end" font-size="27.5">1.0</text>
<line x1="2587.4" y1="2716.2" x2="2595.4" y2="2716.2" stroke="#222" stroke-width="2.5"/>
<text x="2579.8" y="2726.1" text-anchor="end" font-size="27.5">0.5</text>
<line x1="2587.4" y1="2787.8" x2="2595.4" y2="2787.8" stroke="#222" stroke-width="2.5"/>
<text x="2579.8" y="2797.7" text-anchor="end" font-size="27.5">0.0</text>
<line x1="2659.16" y1="2839.7" x2="2659.16" y2="2847.7" stroke="#222" stroke-width="2.5"/>
<g transform="translate(2658.36,2854) rotate(-45)" font-size="27.4" text-anchor="end"><text x="0" y="20">Control</text></g>
<line x1="2766.24" y1="2839.7" x2="2766.24" y2="2847.7" stroke="#222" stroke-width="2.5"/>
<g transform="translate(2765.44,2854) rotate(-45)" font-size="27.4" text-anchor="end"><text x="0" y="20">MASH</text></g>
<line x1="2873.31" y1="2839.7" x2="2873.31" y2="2847.7" stroke="#222" stroke-width="2.5"/>
<g transform="translate(2872.51,2854) rotate(-45)" font-size="27.4" text-anchor="end"><text x="0" y="20">Cirrhosis</text></g>
<path d="M2649.85 2669.2C2649.37 2671.6 2648.56 2678.25 2646.97 2683.61C2645.38 2688.97 2643.28 2694.69 2640.32 2701.34C2637.37 2707.99 2632.75 2716.12 2629.24 2723.51C2625.73 2730.9 2622.03 2739.03 2619.26 2745.68C2616.49 2752.33 2614.02 2758.61 2612.61 2763.41C2611.21 2768.22 2611.02 2771.17 2610.84 2774.5C2610.65 2777.82 2610.65 2780.04 2611.5 2783.37C2612.35 2786.69 2613.54 2790.76 2615.94 2794.45C2618.34 2798.14 2622.59 2801.84 2625.91 2805.53C2629.24 2809.23 2633.38 2813.29 2635.89 2816.62C2638.4 2819.94 2640.14 2824.01 2640.99 2825.49L2677.34 2825.49C2678.19 2824.01 2679.93 2819.94 2682.44 2816.62C2684.95 2813.29 2689.09 2809.23 2692.42 2805.53C2695.74 2801.84 2699.99 2798.14 2702.39 2794.45C2704.79 2790.76 2705.98 2786.69 2706.83 2783.37C2707.68 2780.04 2707.68 2777.82 2707.49 2774.5C2707.31 2771.17 2707.12 2768.22 2705.72 2763.41C2704.31 2758.61 2701.84 2752.33 2699.07 2745.68C2696.3 2739.03 2692.6 2730.9 2689.09 2723.51C2685.58 2716.12 2680.96 2707.99 2678.01 2701.34C2675.05 2694.69 2672.95 2688.97 2671.36 2683.61C2669.77 2678.25 2668.96 2671.6 2668.47 2669.2Z" fill="#ffffcc" stroke="#333333" stroke-width="2.5" stroke-linejoin="round"/>
<line x1="2659.16" y1="2669.2" x2="2659.16" y2="2731.71" stroke="#333333" stroke-width="2.5"/>
<line x1="2659.16" y1="2787.13" x2="2659.16" y2="2825.49" stroke="#333333" stroke-width="2.5"/>
<rect x="2648.08" y="2731.71" width="22.17" height="55.42" fill="#ffffcc" stroke="#333333" stroke-width="2.5"/>
<line x1="2648.08" y1="2774.06" x2="2670.25" y2="2774.06" stroke="#333333" stroke-width="2.5"/>
<path d="M2752.49 2709.1C2752.01 2710.4 2749.91 2714.46 2749.61 2716.86C2749.31 2719.26 2750.09 2721.3 2750.72 2723.51C2751.35 2725.73 2753.56 2727.95 2753.38 2730.16C2753.19 2732.38 2751.72 2734.23 2749.61 2736.81C2747.5 2739.4 2743.88 2742.72 2740.74 2745.68C2737.6 2748.64 2734.09 2751.59 2730.77 2754.55C2727.44 2757.5 2723.01 2761.01 2720.79 2763.41C2718.57 2765.82 2717.65 2767.11 2717.47 2768.96C2717.28 2770.8 2717.47 2772.47 2719.68 2774.5C2721.9 2776.53 2726.89 2778.93 2730.77 2781.15C2734.65 2783.37 2740.19 2786.06 2742.96 2787.8C2745.73 2789.54 2746.65 2790.94 2747.39 2791.57L2785.08 2791.57C2785.82 2790.94 2786.74 2789.54 2789.51 2787.8C2792.28 2786.06 2797.83 2783.37 2801.7 2781.15C2805.58 2778.93 2810.57 2776.53 2812.79 2774.5C2815.01 2772.47 2815.19 2770.8 2815.01 2768.96C2814.82 2767.11 2813.9 2765.82 2811.68 2763.41C2809.46 2761.01 2805.03 2757.5 2801.7 2754.55C2798.38 2751.59 2794.87 2748.64 2791.73 2745.68C2788.59 2742.72 2784.97 2739.4 2782.86 2736.81C2780.76 2734.23 2779.28 2732.38 2779.09 2730.16C2778.91 2727.95 2781.13 2725.73 2781.75 2723.51C2782.38 2721.3 2783.16 2719.26 2782.86 2716.86C2782.57 2714.46 2780.46 2710.4 2779.98 2709.1Z" fill="#fd8d3c" stroke="#333333" stroke-width="2.5" stroke-linejoin="round"/>
<line x1="2766.24" y1="2716.42" x2="2766.24" y2="2748.34" stroke="#333333" stroke-width="2.5"/>
<line x1="2766.24" y1="2772.28" x2="2766.24" y2="2791.12" stroke="#333333" stroke-width="2.5"/>
<rect x="2755.37" y="2748.34" width="21.72" height="23.94" fill="#fd8d3c" stroke="#333333" stroke-width="2.5"/>
<line x1="2755.37" y1="2764.52" x2="2777.1" y2="2764.52" stroke="#333333" stroke-width="5.5"/>
<path d="M2862.22 2578.76C2863.15 2579.97 2866.1 2583.37 2867.77 2586.07C2869.43 2588.77 2871.46 2591.24 2872.2 2594.94C2872.94 2598.63 2873.31 2604.54 2872.2 2608.24C2871.09 2611.93 2867.14 2614.52 2865.55 2617.11C2863.96 2619.69 2862.67 2621.54 2862.67 2623.76C2862.67 2625.97 2864.33 2627.82 2865.55 2630.41C2866.77 2632.99 2870.72 2636.69 2869.98 2639.27C2869.24 2641.86 2865.36 2643.71 2861.12 2645.92C2856.87 2648.14 2849.48 2650.54 2844.49 2652.57C2839.5 2654.61 2834.51 2656.56 2831.19 2658.12C2827.86 2659.67 2824.17 2660.41 2824.54 2661.89C2824.91 2663.36 2828.97 2664.84 2833.41 2666.98C2837.84 2669.13 2845.78 2671.97 2851.14 2674.74C2856.5 2677.51 2862.41 2680.65 2865.55 2683.61C2868.69 2686.57 2869.98 2689.89 2869.98 2692.48C2869.98 2695.06 2868.13 2696.91 2865.55 2699.13C2862.96 2701.34 2856.68 2703.93 2854.46 2705.78C2852.25 2707.63 2852.62 2709.47 2852.25 2710.21L2894.37 2710.21C2894 2709.47 2894.37 2707.63 2892.15 2705.78C2889.93 2703.93 2883.65 2701.34 2881.07 2699.13C2878.48 2696.91 2876.63 2695.06 2876.63 2692.48C2876.63 2689.89 2877.93 2686.57 2881.07 2683.61C2884.21 2680.65 2890.12 2677.51 2895.48 2674.74C2900.83 2671.97 2908.78 2669.13 2913.21 2666.98C2917.64 2664.84 2921.71 2663.36 2922.08 2661.89C2922.45 2660.41 2918.75 2659.67 2915.43 2658.12C2912.1 2656.56 2907.11 2654.61 2902.13 2652.57C2897.14 2650.54 2889.75 2648.14 2885.5 2645.92C2881.25 2643.71 2877.37 2641.86 2876.63 2639.27C2875.89 2636.69 2879.85 2632.99 2881.07 2630.41C2882.29 2627.82 2883.95 2625.97 2883.95 2623.76C2883.95 2621.54 2882.65 2619.69 2881.07 2617.11C2879.48 2614.52 2875.52 2611.93 2874.42 2608.24C2873.31 2604.54 2873.68 2598.63 2874.42 2594.94C2875.15 2591.24 2877.19 2588.77 2878.85 2586.07C2880.51 2583.37 2883.47 2579.97 2884.39 2578.76Z" fill="#e31a1c" stroke="#333333" stroke-width="2.5" stroke-linejoin="round"/>
<line x1="2873.31" y1="2656.34" x2="2873.31" y2="2656.34" stroke="#333333" stroke-width="2.5"/>
<line x1="2873.31" y1="2674.74" x2="2873.31" y2="2676.96" stroke="#333333" stroke-width="2.5"/>
<rect x="2862.45" y="2656.34" width="21.72" height="18.4" fill="#e31a1c" stroke="#333333" stroke-width="2.5"/>
<line x1="2862.45" y1="2662.55" x2="2884.17" y2="2662.55" stroke="#333333" stroke-width="5.5"/>
<line x1="2648.08" y1="2774.06" x2="2884.39" y2="2774.06" stroke="#5a9fcc" stroke-width="1.7"/>
<line x1="2648.08" y1="2774.06" x2="2884.39" y2="2774.06" stroke="#2f79b0" stroke-width="1.7" stroke-dasharray="1.6 5.2"/>
<path d="M2659.16 2575.28 V2566.78 H2766.24 V2575.28" fill="none" stroke="#000" stroke-width="2.5"/>
<text x="2712.7" y="2563.78" text-anchor="middle" font-size="25.5">NS.</text>
<path d="M2659.16 2550.23 V2541.73 H2873.31 V2550.23" fill="none" stroke="#000" stroke-width="2.5"/>
<text x="2766.89" y="2544.53" text-anchor="middle" font-size="21.5" letter-spacing="1.3">***</text>
<text x="140.5" y="3114.5" font-size="41.67">Q</text>
<g shape-rendering="crispEdges">
<rect x="278" y="3331.69" width="32.65" height="263.61" fill="#1b4a6b"/>
<rect x="310.45" y="3289.83" width="32.65" height="305.47" fill="#54437f"/>
<rect x="342.9" y="3309.53" width="32.65" height="285.77" fill="#8968a2"/>
<rect x="375.35" y="3283.87" width="32.65" height="311.43" fill="#bf7b8a"/>
<rect x="407.8" y="3277" width="32.65" height="318.3" fill="#d89d8f"/>
<rect x="458.3" y="3343.49" width="32.65" height="251.81" fill="#1b4a6b"/>
<rect x="490.75" y="3293.2" width="32.65" height="302.1" fill="#54437f"/>
<rect x="523.2" y="3324.82" width="32.65" height="270.48" fill="#8968a2"/>
<rect x="555.65" y="3298.13" width="32.65" height="297.17" fill="#bf7b8a"/>
<rect x="588.1" y="3279.98" width="32.65" height="315.32" fill="#d89d8f"/>
<rect x="638.6" y="3364.22" width="32.65" height="231.08" fill="#1b4a6b"/>
<rect x="671.05" y="3332.21" width="32.65" height="263.09" fill="#54437f"/>
<rect x="703.5" y="3350.36" width="32.65" height="244.94" fill="#8968a2"/>
<rect x="735.95" y="3334.67" width="32.65" height="260.63" fill="#bf7b8a"/>
<rect x="768.4" y="3319.9" width="32.65" height="275.4" fill="#d89d8f"/>
<rect x="818.5" y="3418.53" width="32.65" height="176.77" fill="#1b4a6b"/>
<rect x="850.95" y="3387.16" width="32.65" height="208.14" fill="#54437f"/>
<rect x="883.4" y="3403.1" width="32.65" height="192.2" fill="#8968a2"/>
<rect x="915.85" y="3390.14" width="32.65" height="205.16" fill="#bf7b8a"/>
<rect x="948.3" y="3379.78" width="32.65" height="215.52" fill="#d89d8f"/>
<rect x="999.1" y="3595.3" width="32.65" height="16.33" fill="#1b4a6b"/>
<rect x="1031.55" y="3595.3" width="32.65" height="33.18" fill="#54437f"/>
<rect x="1064" y="3595.3" width="32.65" height="28.9" fill="#8968a2"/>
<rect x="1096.45" y="3595.3" width="32.65" height="34.86" fill="#bf7b8a"/>
<rect x="1128.9" y="3595.3" width="32.65" height="32.79" fill="#d89d8f"/>
<rect x="1179.3" y="3595.3" width="32.65" height="165.5" fill="#1b4a6b"/>
<rect x="1211.75" y="3595.3" width="32.65" height="190.9" fill="#54437f"/>
<rect x="1244.2" y="3595.3" width="32.65" height="176.26" fill="#8968a2"/>
<rect x="1276.65" y="3595.3" width="32.65" height="190.51" fill="#bf7b8a"/>
<rect x="1309.1" y="3595.3" width="32.65" height="199.07" fill="#d89d8f"/>
</g>
<line x1="251" y1="3595.3" x2="1368.5" y2="3595.3" stroke="#aaaaaa" stroke-width="2.2"/>
<path d="M251 3251 V3820.7 H1368.5" fill="none" stroke="#000" stroke-width="2.5"/>
<line x1="239" y1="3336.1" x2="251" y2="3336.1" stroke="#444" stroke-width="2.5"/>
<text x="228.4" y="3344.9" text-anchor="end" fill="#4d4d4d" font-size="25">2</text>
<line x1="239" y1="3465.7" x2="251" y2="3465.7" stroke="#444" stroke-width="2.5"/>
<text x="228.4" y="3474.5" text-anchor="end" fill="#4d4d4d" font-size="25">1</text>
<line x1="239" y1="3595.3" x2="251" y2="3595.3" stroke="#444" stroke-width="2.5"/>
<text x="228.4" y="3604.1" text-anchor="end" fill="#4d4d4d" font-size="25">0</text>
<line x1="239" y1="3724.9" x2="251" y2="3724.9" stroke="#444" stroke-width="2.5"/>
<text x="228.4" y="3733.7" text-anchor="end" fill="#4d4d4d" font-size="25">−1</text>
<line x1="359.12" y1="3820.7" x2="359.12" y2="3832.7" stroke="#333" stroke-width="2.5"/>
<g transform="translate(356.62,3837.7) rotate(-45)" fill="#4d4d4d" font-size="25.3" text-anchor="end"><text x="0" y="18">Human HCC S1:</text><text x="10.4" y="42.5">WNT Activ.</text></g>
<line x1="539.42" y1="3820.7" x2="539.42" y2="3832.7" stroke="#333" stroke-width="2.5"/>
<g transform="translate(536.92,3837.7) rotate(-45)" fill="#4d4d4d" font-size="25.3" text-anchor="end"><text x="8.7" y="16.2">Development-Assoc.</text><text x="6.2" y="40.7">Hepatocyte</text></g>
<line x1="719.73" y1="3820.7" x2="719.73" y2="3832.7" stroke="#333" stroke-width="2.5"/>
<g transform="translate(717.23,3837.7) rotate(-45)" fill="#4d4d4d" font-size="25.3" text-anchor="end"><text x="2" y="19">Sustained</text><text x="4" y="43.5">Upregulation</text></g>
<line x1="899.62" y1="3820.7" x2="899.62" y2="3832.7" stroke="#333" stroke-width="2.5"/>
<g transform="translate(897.12,3837.7) rotate(-45)" fill="#4d4d4d" font-size="25.3" text-anchor="end"><text x="3" y="18">Longitudinal</text><text x="5" y="42.5">Increase</text></g>
<line x1="1080.22" y1="3820.7" x2="1080.22" y2="3832.7" stroke="#333" stroke-width="2.5"/>
<g transform="translate(1077.72,3837.7) rotate(-45)" fill="#4d4d4d" font-size="25.3" text-anchor="end"><text x="3" y="18">Longitudinal</text><text x="5" y="42.5">Decrease</text></g>
<line x1="1260.42" y1="3820.7" x2="1260.42" y2="3832.7" stroke="#333" stroke-width="2.5"/>
<g transform="translate(1257.92,3837.7) rotate(-45)" fill="#4d4d4d" font-size="25.3" text-anchor="end"><text x="1.1" y="21.6">Sustained</text><text x="2" y="46.1">Downregulation</text></g>
<text x="294.23" y="3285.77" text-anchor="middle" font-size="44">*</text>
<text x="326.68" y="3285.77" text-anchor="middle" font-size="44">*</text>
<text x="359.12" y="3285.77" text-anchor="middle" font-size="44">*</text>
<text x="391.58" y="3285.77" text-anchor="middle" font-size="44">*</text>
<text x="424.02" y="3285.77" text-anchor="middle" font-size="44">*</text>
<text x="474.53" y="3285.77" text-anchor="middle" font-size="44">*</text>
<text x="506.98" y="3285.77" text-anchor="middle" font-size="44">*</text>
<text x="539.42" y="3285.77" text-anchor="middle" font-size="44">*</text>
<text x="571.88" y="3285.77" text-anchor="middle" font-size="44">*</text>
<text x="604.33" y="3285.77" text-anchor="middle" font-size="44">*</text>
<text x="654.83" y="3285.77" text-anchor="middle" font-size="44">*</text>
<text x="687.27" y="3285.77" text-anchor="middle" font-size="44">*</text>
<text x="719.73" y="3285.77" text-anchor="middle" font-size="44">*</text>
<text x="752.18" y="3285.77" text-anchor="middle" font-size="44">*</text>
<text x="784.62" y="3285.77" text-anchor="middle" font-size="44">*</text>
<text x="834.73" y="3285.77" text-anchor="middle" font-size="44">*</text>
<text x="867.17" y="3285.77" text-anchor="middle" font-size="44">*</text>
<text x="899.62" y="3285.77" text-anchor="middle" font-size="44">*</text>
<text x="932.08" y="3285.77" text-anchor="middle" font-size="44">*</text>
<text x="964.52" y="3285.77" text-anchor="middle" font-size="44">*</text>
<text x="1047.78" y="3673.37" text-anchor="middle" font-size="44">*</text>
<text x="1112.67" y="3673.37" text-anchor="middle" font-size="44">*</text>
<text x="1145.12" y="3673.37" text-anchor="middle" font-size="44">*</text>
<text x="1195.52" y="3828.57" text-anchor="middle" font-size="44">*</text>
<text x="1227.97" y="3828.57" text-anchor="middle" font-size="44">*</text>
<text x="1260.42" y="3828.57" text-anchor="middle" font-size="44">*</text>
<text x="1292.88" y="3828.57" text-anchor="middle" font-size="44">*</text>
<text x="1325.33" y="3828.57" text-anchor="middle" font-size="44">*</text>
<text x="458.3" y="3664.8" text-anchor="middle" fill="#1b4a6b" font-size="37.4">MASLD Tumor</text>
<text x="810.7" y="3664.8" text-anchor="middle" fill="#54437f" font-size="37.4">Viral Hep. B Tumor</text>
<text x="458.3" y="3724.9" text-anchor="middle" fill="#8968a2" font-size="37.4">Viral Hep. C Tumor</text>
<text x="810.7" y="3724.9" text-anchor="middle" fill="#bf7b8a" font-size="37.4">Alcohol Tumor</text>
<text x="634.2" y="3785" text-anchor="middle" fill="#d89d8f" font-size="37.4">No Risk Factor Tumor</text>
<text text-anchor="middle" transform="translate(131.7,3535) rotate(-90)" font-size="37.1">Cohen’s D Effect Size:</text>
<text text-anchor="middle" transform="translate(178.5,3535) rotate(-90)" font-size="37.1">Tumor vs. Healthy</text>
<text x="1291" y="3113.5" font-size="41.67">R</text>
<path d="M1592.8 3153.5 V3820 H2370.7" fill="none" stroke="#000" stroke-width="2.5"/>
<line x1="1585.8" y1="3248" x2="1592.8" y2="3248" stroke="#333" stroke-width="2.2"/>
<text x="1580.2" y="3256.8" text-anchor="end" fill="#4d4d4d" font-size="25">6</text>
<line x1="1585.8" y1="3406.9" x2="1592.8" y2="3406.9" stroke="#333" stroke-width="2.2"/>
<text x="1580.2" y="3415.7" text-anchor="end" fill="#4d4d4d" font-size="25">24</text>
<line x1="1585.8" y1="3565.8" x2="1592.8" y2="3565.8" stroke="#333" stroke-width="2.2"/>
<text x="1580.2" y="3574.6" text-anchor="end" fill="#4d4d4d" font-size="25">48</text>
<line x1="1585.8" y1="3724.6" x2="1592.8" y2="3724.6" stroke="#333" stroke-width="2.2"/>
<text x="1580.2" y="3733.4" text-anchor="end" fill="#4d4d4d" font-size="25">96</text>
<line x1="1651.7" y1="3820" x2="1651.7" y2="3827" stroke="#333" stroke-width="2.2"/>
<g transform="translate(1652.2,3832.5) rotate(-45)" fill="#4d4d4d" font-size="25.3" text-anchor="end"><text x="0" y="18">Development-Associated</text><text x="2" y="44.5">Hepatocyte</text></g>
<line x1="1851.2" y1="3820" x2="1851.2" y2="3827" stroke="#333" stroke-width="2.2"/>
<g transform="translate(1851.7,3832.5) rotate(-45)" fill="#4d4d4d" font-size="25.3" text-anchor="end"><text x="0" y="18">Human HCC S1</text><text x="2" y="44.5">WNT Activ.</text></g>
<line x1="2050.7" y1="3820" x2="2050.7" y2="3827" stroke="#333" stroke-width="2.2"/>
<g transform="translate(2051.2,3832.5) rotate(-45)" fill="#4d4d4d" font-size="25.3" text-anchor="end"><text x="0" y="18">Longitudinal</text><text x="2" y="44.5">Increase</text></g>
<line x1="2250.2" y1="3820" x2="2250.2" y2="3827" stroke="#333" stroke-width="2.2"/>
<g transform="translate(2250.7,3832.5) rotate(-45)" fill="#4d4d4d" font-size="25.3" text-anchor="end"><text x="0" y="18">Longitudinal</text><text x="2" y="44.5">Decrease</text></g>
<circle cx="1651.7" cy="3248" r="16.3" fill="#b8463a"/>
<circle cx="1851.2" cy="3248" r="16.3" fill="#d98073"/>
<circle cx="2050.7" cy="3248" r="16.3" fill="#a82828"/>
<circle cx="2250.2" cy="3248" r="16.3" fill="#1b5177"/>
<circle cx="1651.7" cy="3406.9" r="16.3" fill="#d9dfe8"/>
<circle cx="1851.2" cy="3406.9" r="11.8" fill="#e8ebf0"/>
<circle cx="2050.7" cy="3406.9" r="16.3" fill="#f2c4bc"/>
<circle cx="2250.2" cy="3406.9" r="15" fill="#dfe3ec"/>
<circle cx="1651.7" cy="3565.8" r="16.3" fill="#b5c2d2"/>
<circle cx="1851.2" cy="3565.8" r="3" fill="#fdeeee"/>
<circle cx="2050.7" cy="3565.8" r="16.3" fill="#b5c2d2"/>
<circle cx="2250.2" cy="3565.8" r="16.3" fill="#dc857a"/>
<circle cx="1651.7" cy="3724.6" r="16.3" fill="#b9c5d5"/>
<circle cx="1851.2" cy="3724.6" r="9.6" fill="#e6e9ee"/>
<circle cx="2050.7" cy="3724.6" r="16.3" fill="#d3dae4"/>
<circle cx="2250.2" cy="3724.6" r="16.3" fill="#e5998e"/>
<text text-anchor="middle" transform="translate(1489,3486) rotate(-90)" font-size="37">Acute Regeneration:</text>
<text text-anchor="middle" transform="translate(1522.4,3486) rotate(-90)" font-size="37">Acetaminophen Overdose Timepoint (hrs.)</text>
<text x="1951" y="4040" text-anchor="middle" font-size="37">Metabolic Adaptation Gene Program</text>
<text x="1381.2" y="4130" font-size="32.3">-log<tspan font-size="19" dy="8">10</tspan><tspan dy="-8">(B.H.-Adj. P-Value)</tspan></text>
<circle cx="1751.4" cy="4119" r="8" fill="#000"/>
<text x="1786.5" y="4128.3" font-size="25">2.5</text>
<circle cx="1856.4" cy="4119" r="16.3" fill="#000"/>
<text x="1893" y="4128.3" font-size="25">10.0</text>
<text x="2072.9" y="4116.3" text-anchor="middle" font-size="33">Effect Size</text>
<text x="2072.9" y="4155.4" text-anchor="middle" font-size="33">(Cohen’s D)</text>
<defs><linearGradient id="cb2" x1="0" x2="1" y1="0" y2="0"><stop offset="0" stop-color="#1b4f78"/><stop offset="0.02" stop-color="#2c587f"/><stop offset="0.04" stop-color="#3a6086"/><stop offset="0.06" stop-color="#47698d"/><stop offset="0.08" stop-color="#547294"/><stop offset="0.1" stop-color="#607b9b"/><stop offset="0.12" stop-color="#6c84a3"/><stop offset="0.14" stop-color="#788eaa"/><stop offset="0.16" stop-color="#8397b1"/><stop offset="0.18" stop-color="#8fa1b9"/><stop offset="0.2" stop-color="#9babc0"/><stop offset="0.22" stop-color="#a7b5c8"/><stop offset="0.24" stop-color="#b3becf"/><stop offset="0.26" stop-color="#bfc8d7"/><stop offset="0.28" stop-color="#cbd3de"/><stop offset="0.3" stop-color="#d7dde6"/><stop offset="0.32" stop-color="#e3e7ed"/><stop offset="0.34" stop-color="#eff2f5"/><stop offset="0.36" stop-color="#fcfcfd"/><stop offset="0.38" stop-color="#fefaf9"/><stop offset="0.4" stop-color="#fdf4f2"/><stop offset="0.42" stop-color="#fcedea"/><stop offset="0.44" stop-color="#fae6e3"/><stop offset="0.46" stop-color="#f9e0db"/><stop offset="0.48" stop-color="#f7d9d4"/><stop offset="0.5" stop-color="#f6d3cd"/><stop offset="0.52" stop-color="#f4ccc5"/><stop offset="0.54" stop-color="#f2c6be"/><stop offset="0.56" stop-color="#f0bfb7"/><stop offset="0.58" stop-color="#eeb9b0"/><stop offset="0.6" stop-color="#ecb2a8"/><stop offset="0.62" stop-color="#eaaca1"/><stop offset="0.64" stop-color="#e8a59a"/><stop offset="0.66" stop-color="#e59f93"/><stop offset="0.68" stop-color="#e3998c"/><stop offset="0.7" stop-color="#e09286"/><stop offset="0.72" stop-color="#dd8c7f"/><stop offset="0.74" stop-color="#db8578"/><stop offset="0.76" stop-color="#d87f71"/><stop offset="0.78" stop-color="#d5786b"/><stop offset="0.8" stop-color="#d27264"/><stop offset="0.82" stop-color="#cf6b5e"/><stop offset="0.84" stop-color="#cc6557"/><stop offset="0.86" stop-color="#c95e51"/><stop offset="0.88" stop-color="#c5574b"/><stop offset="0.9" stop-color="#c25144"/><stop offset="0.92" stop-color="#bf4a3e"/><stop offset="0.94" stop-color="#bb4238"/><stop offset="0.96" stop-color="#b73b32"/><stop offset="0.98" stop-color="#b4332c"/><stop offset="1" stop-color="#b02a26"/></linearGradient></defs>
<rect x="2185.9" y="4087.5" width="200.3" height="39.1" fill="url(#cb2)"/>
<line x1="2205.9" y1="4087.5" x2="2205.9" y2="4095.32" stroke="#fff" stroke-width="1.3"/>
<line x1="2205.9" y1="4118.78" x2="2205.9" y2="4126.6" stroke="#fff" stroke-width="1.3"/>
<line x1="2259.1" y1="4087.5" x2="2259.1" y2="4095.32" stroke="#fff" stroke-width="1.3"/>
<line x1="2259.1" y1="4118.78" x2="2259.1" y2="4126.6" stroke="#fff" stroke-width="1.3"/>
<line x1="2312.3" y1="4087.5" x2="2312.3" y2="4095.32" stroke="#fff" stroke-width="1.3"/>
<line x1="2312.3" y1="4118.78" x2="2312.3" y2="4126.6" stroke="#fff" stroke-width="1.3"/>
<line x1="2365.5" y1="4087.5" x2="2365.5" y2="4095.32" stroke="#fff" stroke-width="1.3"/>
<line x1="2365.5" y1="4118.78" x2="2365.5" y2="4126.6" stroke="#fff" stroke-width="1.3"/>
<text x="2205.9" y="4160.8" text-anchor="middle" font-size="25">−1</text>
<text x="2259.1" y="4160.8" text-anchor="middle" font-size="25">0</text>
<text x="2312.3" y="4160.8" text-anchor="middle" font-size="25">1</text>
<text x="2365.5" y="4160.8" text-anchor="middle" font-size="25">2</text>
</svg>
</body></html>
